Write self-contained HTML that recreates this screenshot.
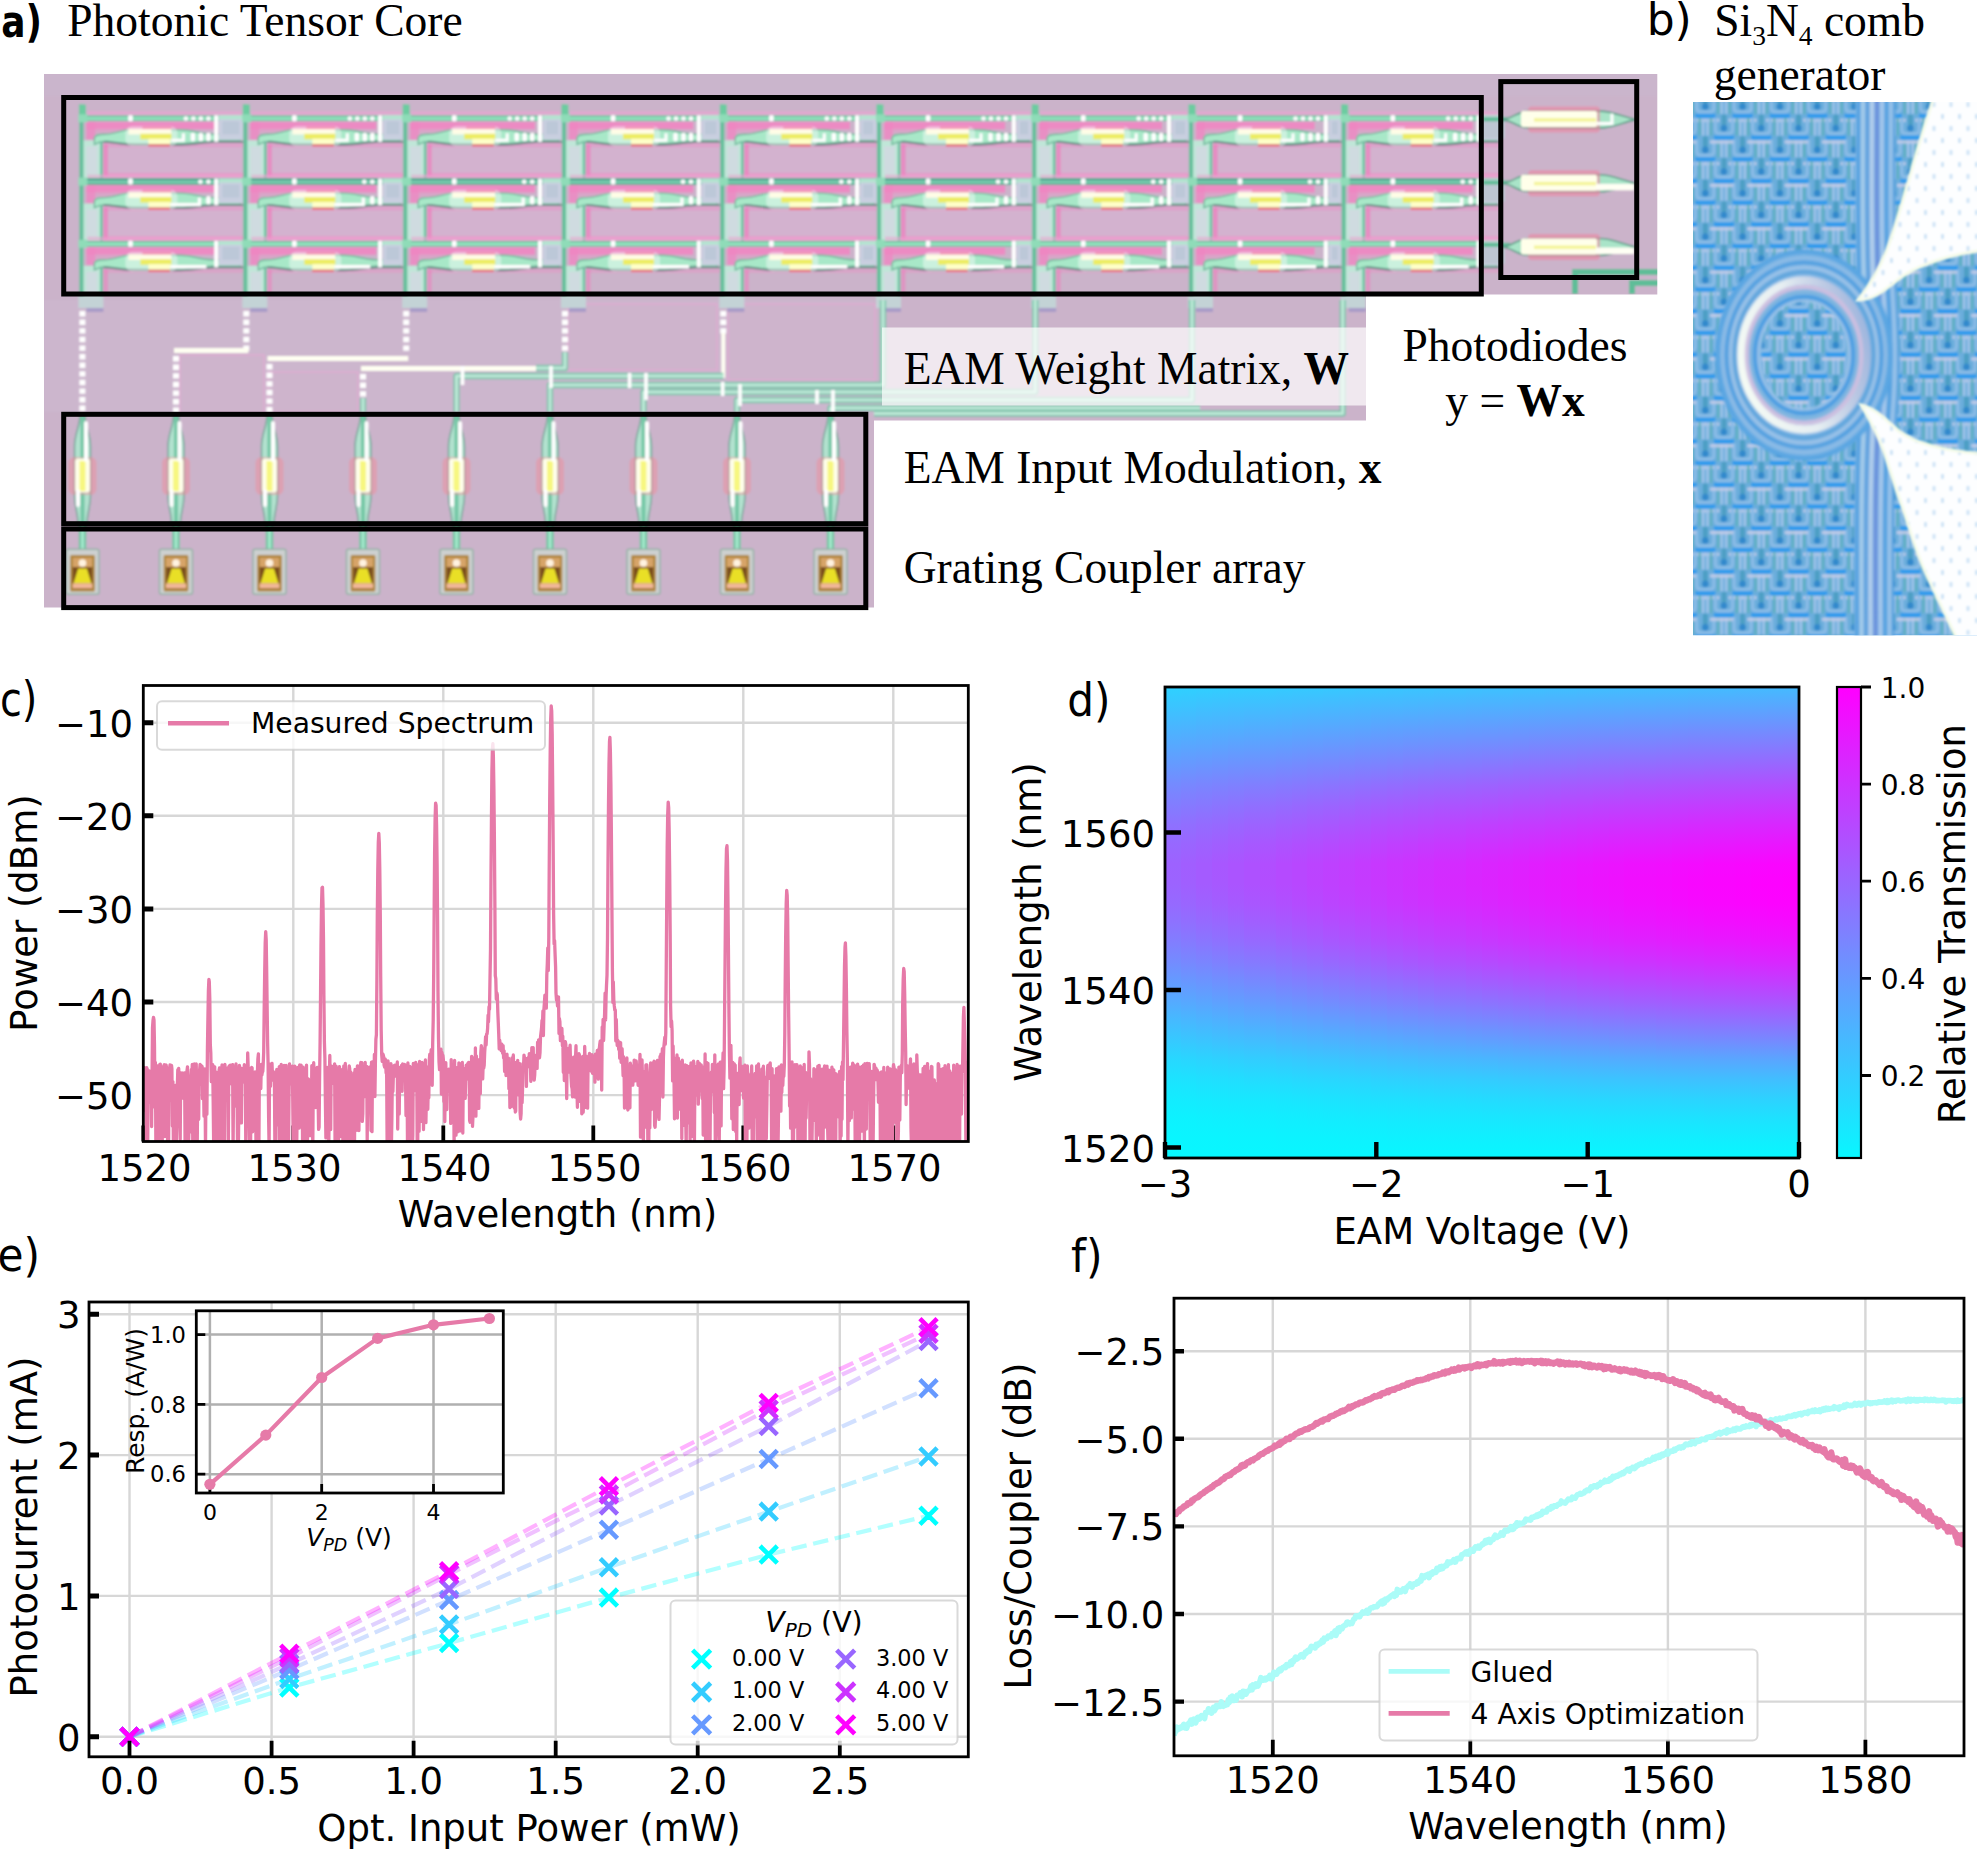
<!DOCTYPE html>
<html lang="en"><head><meta charset="utf-8"><title>Photonic Tensor Core figure</title>
<style>
html,body{margin:0;padding:0;background:#fff;}
body{width:1977px;height:1849px;overflow:hidden;}
svg{display:block;}
text{fill:#000;}
</style></head><body>
<svg width="1977" height="1849" viewBox="0 0 1977 1849">
<rect width="1977" height="1849" fill="#fff"/>
<g id="panel-a">
<defs><filter id="blurA" x="-2%" y="-2%" width="104%" height="104%"><feGaussianBlur stdDeviation="1.25"/></filter><clipPath id="chip"><path d="M44 74H1657.3V294.5H1366V420.5H874V607.5H44Z"/></clipPath></defs>
<g clip-path="url(#chip)"><g filter="url(#blurA)">
<rect x="30" y="60" width="1650" height="560" fill="#cbb3ca" />
<rect x="44" y="74" width="1613" height="22" fill="#cab5cc" />
<rect x="44" y="300" width="830" height="112" fill="#ccb6cd" />
<rect x="568" y="304" width="149" height="66" fill="#cfb4cc" stroke="#e3a8d2" stroke-width="1.5" opacity="0.8"/>
<rect x="728" y="304" width="147" height="76" fill="#cfb4cc" stroke="#e3a8d2" stroke-width="1.5" opacity="0.8"/>
<rect x="268" y="372" width="90" height="40" fill="#cfb4cc" stroke="#e3a8d2" stroke-width="1.5" opacity="0.8"/>
<rect x="180" y="355" width="84" height="58" fill="#cfb4cc" stroke="#e3a8d2" stroke-width="1.5" opacity="0.8"/>
<rect x="103.4" y="142.3" width="141.9" height="36" fill="#d3b2cf" /><rect x="103.4" y="143.3" width="141.9" height="4" fill="#e896c6" opacity="0.55"/><rect x="103.4" y="172.8" width="141.9" height="4.5" fill="#e896c6" opacity="0.7"/><rect x="103.4" y="144.3" width="4.5" height="32" fill="#ee7cbc" opacity="0.7"/><rect x="86.4" y="121.8" width="129.9" height="7.5" fill="#ef86c2" opacity="0.9"/><rect x="86.4" y="121.8" width="9" height="18" fill="#ef86c2" opacity="0.8"/><rect x="94.4" y="128.3" width="36" height="5" fill="#e896c6" opacity="0.45"/><rect x="87.4" y="111.3" width="153.9" height="4" fill="#eea2d2" opacity="0.6"/><rect x="80.4" y="140.3" width="21" height="42" fill="#c0e6d8" /><rect x="86.4" y="146.3" width="11" height="28" fill="#cfdbe0" /><path d="M101.4 140.3V181.3" stroke="#6cc4a2" stroke-width="2.6" fill="none"/><path d="M94.4 137.3 C96.4 134.3 100.4 134.3 104.4 134.3 C114.4 134.3 120.4 130.3 128.4 129.8 H180.4 C192.4 129.8 200.4 134.3 212.4 134.3 H240.3 V140.8 H212.4 C200.4 141.3 192.4 143.8 180.4 143.8 H132.4 C122.4 143.8 114.4 141.8 106.4 141.3 C102.4 141.3 98.4 142.3 94.4 144.3Z" fill="#a8e8c8" stroke="#72b89c" stroke-width="1.4"/><path d="M103.4 141.8C112.4 141.8 122.4 144.8 134.4 144.8H180.4C194.4 144.8 202.4 142.3 214.4 141.8H243.3" stroke="#61807c" stroke-width="1.8" fill="none" opacity="0.85"/><path d="M82.4 118.3H246.3" stroke="#6cc6a0" stroke-width="5.6" fill="none"/><path d="M85.4 118.6H246.3" stroke="#a4ecca" stroke-width="2" fill="none" opacity="0.9"/><rect x="218.9" y="115.3" width="24.4" height="24.5" fill="#c9cfe0" /><rect x="222.4" y="121.3" width="16.9" height="13" fill="#bcc8d8" /><rect x="218.9" y="115.3" width="24.4" height="4" fill="#b4e4d0" /><rect x="214.2" y="115.3" width="4" height="26.5" fill="#fff" /><circle cx="185.9" cy="118.5" r="2.3" fill="#fff"/><circle cx="193.4" cy="118.5" r="2.3" fill="#fff"/><circle cx="200.9" cy="118.5" r="2.3" fill="#fff"/><circle cx="208.4" cy="118.5" r="2.3" fill="#fff"/><rect x="190.7" y="132.8" width="4.4" height="8.5" fill="#fff" rx="1.8"/><rect x="198.7" y="132.8" width="4.4" height="8.5" fill="#fff" rx="1.8"/><rect x="206.2" y="132.8" width="4.4" height="8.5" fill="#fff" rx="1.8"/><rect x="128.2" y="115.3" width="4.6" height="6" fill="#fff" rx="1"/><rect x="125.4" y="126.3" width="52" height="20" fill="#fff" opacity="0.4" rx="7"/><rect x="128.4" y="128.9" width="43" height="5.6" fill="#fffde6" /><rect x="140.4" y="133.8" width="31" height="5.5" fill="#ecec62" /><rect x="148.4" y="138.6" width="22" height="5.4" fill="#ffffc8" /><rect x="148.4" y="144.3" width="21.5" height="2.2" fill="#f2646a" opacity="0.85"/><rect x="142.4" y="126.5" width="29" height="2.6" fill="#f47aa0" opacity="0.6"/><path d="M171.4 140.3H183.4V133.3" stroke="#fff" stroke-width="3" fill="none"/>
<rect x="103.4" y="205.6" width="141.9" height="36" fill="#d3b2cf" /><rect x="103.4" y="206.6" width="141.9" height="4" fill="#e896c6" opacity="0.55"/><rect x="103.4" y="236.1" width="141.9" height="4.5" fill="#e896c6" opacity="0.7"/><rect x="103.4" y="207.6" width="4.5" height="32" fill="#ee7cbc" opacity="0.7"/><rect x="86.4" y="185.1" width="129.9" height="7.5" fill="#ef86c2" opacity="0.9"/><rect x="86.4" y="185.1" width="9" height="18" fill="#ef86c2" opacity="0.8"/><rect x="94.4" y="191.6" width="36" height="5" fill="#e896c6" opacity="0.45"/><rect x="87.4" y="174.6" width="153.9" height="4" fill="#eea2d2" opacity="0.6"/><rect x="80.4" y="203.6" width="21" height="42" fill="#c0e6d8" /><rect x="86.4" y="209.6" width="11" height="28" fill="#cfdbe0" /><path d="M101.4 203.6V244.6" stroke="#6cc4a2" stroke-width="2.6" fill="none"/><path d="M94.4 200.6 C96.4 197.6 100.4 197.6 104.4 197.6 C114.4 197.6 120.4 193.6 128.4 193.1 H180.4 C192.4 193.1 200.4 197.6 212.4 197.6 H240.3 V204.1 H212.4 C200.4 204.6 192.4 207.1 180.4 207.1 H132.4 C122.4 207.1 114.4 205.1 106.4 204.6 C102.4 204.6 98.4 205.6 94.4 207.6Z" fill="#a8e8c8" stroke="#72b89c" stroke-width="1.4"/><path d="M103.4 205.1C112.4 205.1 122.4 208.1 134.4 208.1H180.4C194.4 208.1 202.4 205.6 214.4 205.1H243.3" stroke="#61807c" stroke-width="1.8" fill="none" opacity="0.85"/><path d="M82.4 181.6H246.3" stroke="#58ac94" stroke-width="7" fill="none"/><path d="M85.4 182.1H246.3" stroke="#7fd4b4" stroke-width="2.4" fill="none" opacity="0.9"/><rect x="218.9" y="178.6" width="24.4" height="24.5" fill="#c9cfe0" /><rect x="222.4" y="184.6" width="16.9" height="13" fill="#bcc8d8" /><rect x="218.9" y="178.6" width="24.4" height="4" fill="#b4e4d0" /><rect x="214.2" y="178.6" width="4" height="26.5" fill="#fff" /><circle cx="200.4" cy="181.8" r="2.3" fill="#fff"/><circle cx="208.4" cy="181.8" r="2.3" fill="#fff"/><rect x="206.2" y="196.1" width="4.4" height="8.5" fill="#fff" rx="1.8"/><rect x="128.2" y="178.6" width="4.6" height="6" fill="#fff" rx="1"/><rect x="125.4" y="189.6" width="52" height="20" fill="#fff" opacity="0.4" rx="7"/><rect x="128.4" y="192.2" width="43" height="5.6" fill="#fffde6" /><rect x="140.4" y="197.1" width="31" height="5.5" fill="#ecec62" /><rect x="148.4" y="201.9" width="22" height="5.4" fill="#ffffc8" /><rect x="148.4" y="207.6" width="21.5" height="2.2" fill="#f2646a" opacity="0.85"/><rect x="142.4" y="189.8" width="29" height="2.6" fill="#f47aa0" opacity="0.6"/><path d="M170.4 204.6H199.4V197.6" stroke="#fff" stroke-width="3.2" fill="none"/>
<rect x="103.4" y="268.8" width="141.9" height="4" fill="#e896c6" opacity="0.5"/><rect x="103.4" y="269.8" width="4.5" height="26" fill="#ee7cbc" opacity="0.55"/><rect x="86.4" y="247.3" width="129.9" height="7.5" fill="#ef86c2" opacity="0.9"/><rect x="86.4" y="247.3" width="9" height="18" fill="#ef86c2" opacity="0.8"/><rect x="94.4" y="253.8" width="36" height="5" fill="#e896c6" opacity="0.45"/><rect x="87.4" y="236.8" width="153.9" height="4" fill="#eea2d2" opacity="0.6"/><rect x="80.4" y="265.8" width="21" height="42" fill="#c0e6d8" /><rect x="86.4" y="271.8" width="11" height="28" fill="#cfdbe0" /><path d="M101.4 265.8V306.8" stroke="#6cc4a2" stroke-width="2.6" fill="none"/><path d="M94.4 262.8 C96.4 259.8 100.4 259.8 104.4 259.8 C114.4 259.8 120.4 255.8 128.4 255.3 H180.4 C192.4 255.3 200.4 259.8 212.4 259.8 H240.3 V266.3 H212.4 C200.4 266.8 192.4 269.3 180.4 269.3 H132.4 C122.4 269.3 114.4 267.3 106.4 266.8 C102.4 266.8 98.4 267.8 94.4 269.8Z" fill="#a8e8c8" stroke="#72b89c" stroke-width="1.4"/><path d="M103.4 267.3C112.4 267.3 122.4 270.3 134.4 270.3H180.4C194.4 270.3 202.4 267.8 214.4 267.3H243.3" stroke="#61807c" stroke-width="1.8" fill="none" opacity="0.85"/><path d="M82.4 243.8H246.3" stroke="#6cc6a0" stroke-width="5.6" fill="none"/><path d="M85.4 244.1H246.3" stroke="#a4ecca" stroke-width="2" fill="none" opacity="0.9"/><rect x="218.9" y="240.8" width="24.4" height="24.5" fill="#c9cfe0" /><rect x="222.4" y="246.8" width="16.9" height="13" fill="#bcc8d8" /><rect x="218.9" y="240.8" width="24.4" height="4" fill="#b4e4d0" /><rect x="214.2" y="240.8" width="4" height="26.5" fill="#fff" /><rect x="128.2" y="240.8" width="4.6" height="6" fill="#fff" rx="1"/><rect x="125.4" y="251.8" width="52" height="20" fill="#fff" opacity="0.4" rx="7"/><rect x="128.4" y="254.4" width="43" height="5.6" fill="#fffde6" /><rect x="140.4" y="259.3" width="31" height="5.5" fill="#ecec62" /><rect x="148.4" y="264.1" width="22" height="5.4" fill="#ffffc8" /><rect x="148.4" y="269.8" width="21.5" height="2.2" fill="#f2646a" opacity="0.85"/><rect x="142.4" y="252" width="29" height="2.6" fill="#f47aa0" opacity="0.6"/><path d="M170.4 266.8H206.4" stroke="#fff" stroke-width="3.6" fill="none"/>
<rect x="267.3" y="142.3" width="137.9" height="36" fill="#d3b2cf" /><rect x="267.3" y="143.3" width="137.9" height="4" fill="#e896c6" opacity="0.55"/><rect x="267.3" y="172.8" width="137.9" height="4.5" fill="#e896c6" opacity="0.7"/><rect x="267.3" y="144.3" width="4.5" height="32" fill="#ee7cbc" opacity="0.7"/><rect x="250.3" y="121.8" width="125.9" height="7.5" fill="#ef86c2" opacity="0.9"/><rect x="250.3" y="121.8" width="9" height="18" fill="#ef86c2" opacity="0.8"/><rect x="258.3" y="128.3" width="36" height="5" fill="#e896c6" opacity="0.45"/><rect x="251.3" y="111.3" width="149.9" height="4" fill="#eea2d2" opacity="0.6"/><rect x="244.3" y="140.3" width="21" height="42" fill="#c0e6d8" /><rect x="250.3" y="146.3" width="11" height="28" fill="#cfdbe0" /><path d="M265.3 140.3V181.3" stroke="#6cc4a2" stroke-width="2.6" fill="none"/><path d="M258.3 137.3 C260.3 134.3 264.3 134.3 268.3 134.3 C278.3 134.3 284.3 130.3 292.3 129.8 H344.3 C356.3 129.8 364.3 134.3 376.3 134.3 H400.2 V140.8 H376.3 C364.3 141.3 356.3 143.8 344.3 143.8 H296.3 C286.3 143.8 278.3 141.8 270.3 141.3 C266.3 141.3 262.3 142.3 258.3 144.3Z" fill="#a8e8c8" stroke="#72b89c" stroke-width="1.4"/><path d="M267.3 141.8C276.3 141.8 286.3 144.8 298.3 144.8H344.3C358.3 144.8 366.3 142.3 378.3 141.8H403.2" stroke="#61807c" stroke-width="1.8" fill="none" opacity="0.85"/><path d="M246.3 118.3H406.2" stroke="#6cc6a0" stroke-width="5.6" fill="none"/><path d="M249.3 118.6H406.2" stroke="#a4ecca" stroke-width="2" fill="none" opacity="0.9"/><rect x="382.8" y="115.3" width="20.4" height="24.5" fill="#c9cfe0" /><rect x="386.3" y="121.3" width="12.9" height="13" fill="#bcc8d8" /><rect x="382.8" y="115.3" width="20.4" height="4" fill="#b4e4d0" /><rect x="378.1" y="115.3" width="4" height="26.5" fill="#fff" /><circle cx="349.8" cy="118.5" r="2.3" fill="#fff"/><circle cx="357.3" cy="118.5" r="2.3" fill="#fff"/><circle cx="364.8" cy="118.5" r="2.3" fill="#fff"/><circle cx="372.3" cy="118.5" r="2.3" fill="#fff"/><rect x="354.6" y="132.8" width="4.4" height="8.5" fill="#fff" rx="1.8"/><rect x="362.6" y="132.8" width="4.4" height="8.5" fill="#fff" rx="1.8"/><rect x="370.1" y="132.8" width="4.4" height="8.5" fill="#fff" rx="1.8"/><rect x="292.1" y="115.3" width="4.6" height="6" fill="#fff" rx="1"/><rect x="289.3" y="126.3" width="52" height="20" fill="#fff" opacity="0.4" rx="7"/><rect x="292.3" y="128.9" width="43" height="5.6" fill="#fffde6" /><rect x="304.3" y="133.8" width="31" height="5.5" fill="#ecec62" /><rect x="312.3" y="138.6" width="22" height="5.4" fill="#ffffc8" /><rect x="312.3" y="144.3" width="21.5" height="2.2" fill="#f2646a" opacity="0.85"/><rect x="306.3" y="126.5" width="29" height="2.6" fill="#f47aa0" opacity="0.6"/><path d="M335.3 140.3H347.3V133.3" stroke="#fff" stroke-width="3" fill="none"/>
<rect x="267.3" y="205.6" width="137.9" height="36" fill="#d3b2cf" /><rect x="267.3" y="206.6" width="137.9" height="4" fill="#e896c6" opacity="0.55"/><rect x="267.3" y="236.1" width="137.9" height="4.5" fill="#e896c6" opacity="0.7"/><rect x="267.3" y="207.6" width="4.5" height="32" fill="#ee7cbc" opacity="0.7"/><rect x="250.3" y="185.1" width="125.9" height="7.5" fill="#ef86c2" opacity="0.9"/><rect x="250.3" y="185.1" width="9" height="18" fill="#ef86c2" opacity="0.8"/><rect x="258.3" y="191.6" width="36" height="5" fill="#e896c6" opacity="0.45"/><rect x="251.3" y="174.6" width="149.9" height="4" fill="#eea2d2" opacity="0.6"/><rect x="244.3" y="203.6" width="21" height="42" fill="#c0e6d8" /><rect x="250.3" y="209.6" width="11" height="28" fill="#cfdbe0" /><path d="M265.3 203.6V244.6" stroke="#6cc4a2" stroke-width="2.6" fill="none"/><path d="M258.3 200.6 C260.3 197.6 264.3 197.6 268.3 197.6 C278.3 197.6 284.3 193.6 292.3 193.1 H344.3 C356.3 193.1 364.3 197.6 376.3 197.6 H400.2 V204.1 H376.3 C364.3 204.6 356.3 207.1 344.3 207.1 H296.3 C286.3 207.1 278.3 205.1 270.3 204.6 C266.3 204.6 262.3 205.6 258.3 207.6Z" fill="#a8e8c8" stroke="#72b89c" stroke-width="1.4"/><path d="M267.3 205.1C276.3 205.1 286.3 208.1 298.3 208.1H344.3C358.3 208.1 366.3 205.6 378.3 205.1H403.2" stroke="#61807c" stroke-width="1.8" fill="none" opacity="0.85"/><path d="M246.3 181.6H406.2" stroke="#58ac94" stroke-width="7" fill="none"/><path d="M249.3 182.1H406.2" stroke="#7fd4b4" stroke-width="2.4" fill="none" opacity="0.9"/><rect x="382.8" y="178.6" width="20.4" height="24.5" fill="#c9cfe0" /><rect x="386.3" y="184.6" width="12.9" height="13" fill="#bcc8d8" /><rect x="382.8" y="178.6" width="20.4" height="4" fill="#b4e4d0" /><rect x="378.1" y="178.6" width="4" height="26.5" fill="#fff" /><circle cx="364.3" cy="181.8" r="2.3" fill="#fff"/><circle cx="372.3" cy="181.8" r="2.3" fill="#fff"/><rect x="370.1" y="196.1" width="4.4" height="8.5" fill="#fff" rx="1.8"/><rect x="292.1" y="178.6" width="4.6" height="6" fill="#fff" rx="1"/><rect x="289.3" y="189.6" width="52" height="20" fill="#fff" opacity="0.4" rx="7"/><rect x="292.3" y="192.2" width="43" height="5.6" fill="#fffde6" /><rect x="304.3" y="197.1" width="31" height="5.5" fill="#ecec62" /><rect x="312.3" y="201.9" width="22" height="5.4" fill="#ffffc8" /><rect x="312.3" y="207.6" width="21.5" height="2.2" fill="#f2646a" opacity="0.85"/><rect x="306.3" y="189.8" width="29" height="2.6" fill="#f47aa0" opacity="0.6"/><path d="M334.3 204.6H363.3V197.6" stroke="#fff" stroke-width="3.2" fill="none"/>
<rect x="267.3" y="268.8" width="137.9" height="4" fill="#e896c6" opacity="0.5"/><rect x="267.3" y="269.8" width="4.5" height="26" fill="#ee7cbc" opacity="0.55"/><rect x="250.3" y="247.3" width="125.9" height="7.5" fill="#ef86c2" opacity="0.9"/><rect x="250.3" y="247.3" width="9" height="18" fill="#ef86c2" opacity="0.8"/><rect x="258.3" y="253.8" width="36" height="5" fill="#e896c6" opacity="0.45"/><rect x="251.3" y="236.8" width="149.9" height="4" fill="#eea2d2" opacity="0.6"/><rect x="244.3" y="265.8" width="21" height="42" fill="#c0e6d8" /><rect x="250.3" y="271.8" width="11" height="28" fill="#cfdbe0" /><path d="M265.3 265.8V306.8" stroke="#6cc4a2" stroke-width="2.6" fill="none"/><path d="M258.3 262.8 C260.3 259.8 264.3 259.8 268.3 259.8 C278.3 259.8 284.3 255.8 292.3 255.3 H344.3 C356.3 255.3 364.3 259.8 376.3 259.8 H400.2 V266.3 H376.3 C364.3 266.8 356.3 269.3 344.3 269.3 H296.3 C286.3 269.3 278.3 267.3 270.3 266.8 C266.3 266.8 262.3 267.8 258.3 269.8Z" fill="#a8e8c8" stroke="#72b89c" stroke-width="1.4"/><path d="M267.3 267.3C276.3 267.3 286.3 270.3 298.3 270.3H344.3C358.3 270.3 366.3 267.8 378.3 267.3H403.2" stroke="#61807c" stroke-width="1.8" fill="none" opacity="0.85"/><path d="M246.3 243.8H406.2" stroke="#6cc6a0" stroke-width="5.6" fill="none"/><path d="M249.3 244.1H406.2" stroke="#a4ecca" stroke-width="2" fill="none" opacity="0.9"/><rect x="382.8" y="240.8" width="20.4" height="24.5" fill="#c9cfe0" /><rect x="386.3" y="246.8" width="12.9" height="13" fill="#bcc8d8" /><rect x="382.8" y="240.8" width="20.4" height="4" fill="#b4e4d0" /><rect x="378.1" y="240.8" width="4" height="26.5" fill="#fff" /><rect x="292.1" y="240.8" width="4.6" height="6" fill="#fff" rx="1"/><rect x="289.3" y="251.8" width="52" height="20" fill="#fff" opacity="0.4" rx="7"/><rect x="292.3" y="254.4" width="43" height="5.6" fill="#fffde6" /><rect x="304.3" y="259.3" width="31" height="5.5" fill="#ecec62" /><rect x="312.3" y="264.1" width="22" height="5.4" fill="#ffffc8" /><rect x="312.3" y="269.8" width="21.5" height="2.2" fill="#f2646a" opacity="0.85"/><rect x="306.3" y="252" width="29" height="2.6" fill="#f47aa0" opacity="0.6"/><path d="M334.3 266.8H370.3" stroke="#fff" stroke-width="3.6" fill="none"/>
<rect x="427.2" y="142.3" width="136.8" height="36" fill="#d3b2cf" /><rect x="427.2" y="143.3" width="136.8" height="4" fill="#e896c6" opacity="0.55"/><rect x="427.2" y="172.8" width="136.8" height="4.5" fill="#e896c6" opacity="0.7"/><rect x="427.2" y="144.3" width="4.5" height="32" fill="#ee7cbc" opacity="0.7"/><rect x="410.2" y="121.8" width="124.8" height="7.5" fill="#ef86c2" opacity="0.9"/><rect x="410.2" y="121.8" width="9" height="18" fill="#ef86c2" opacity="0.8"/><rect x="418.2" y="128.3" width="36" height="5" fill="#e896c6" opacity="0.45"/><rect x="411.2" y="111.3" width="148.8" height="4" fill="#eea2d2" opacity="0.6"/><rect x="404.2" y="140.3" width="21" height="42" fill="#c0e6d8" /><rect x="410.2" y="146.3" width="11" height="28" fill="#cfdbe0" /><path d="M425.2 140.3V181.3" stroke="#6cc4a2" stroke-width="2.6" fill="none"/><path d="M418.2 137.3 C420.2 134.3 424.2 134.3 428.2 134.3 C438.2 134.3 444.2 130.3 452.2 129.8 H504.2 C516.2 129.8 524.2 134.3 536.2 134.3 H559 V140.8 H536.2 C524.2 141.3 516.2 143.8 504.2 143.8 H456.2 C446.2 143.8 438.2 141.8 430.2 141.3 C426.2 141.3 422.2 142.3 418.2 144.3Z" fill="#a8e8c8" stroke="#72b89c" stroke-width="1.4"/><path d="M427.2 141.8C436.2 141.8 446.2 144.8 458.2 144.8H504.2C518.2 144.8 526.2 142.3 538.2 141.8H562" stroke="#61807c" stroke-width="1.8" fill="none" opacity="0.85"/><path d="M406.2 118.3H565" stroke="#6cc6a0" stroke-width="5.6" fill="none"/><path d="M409.2 118.6H565" stroke="#a4ecca" stroke-width="2" fill="none" opacity="0.9"/><rect x="542.7" y="115.3" width="19.3" height="24.5" fill="#c9cfe0" /><rect x="546.2" y="121.3" width="11.8" height="13" fill="#bcc8d8" /><rect x="542.7" y="115.3" width="19.3" height="4" fill="#b4e4d0" /><rect x="538" y="115.3" width="4" height="26.5" fill="#fff" /><circle cx="509.7" cy="118.5" r="2.3" fill="#fff"/><circle cx="517.2" cy="118.5" r="2.3" fill="#fff"/><circle cx="524.7" cy="118.5" r="2.3" fill="#fff"/><circle cx="532.2" cy="118.5" r="2.3" fill="#fff"/><rect x="514.5" y="132.8" width="4.4" height="8.5" fill="#fff" rx="1.8"/><rect x="522.5" y="132.8" width="4.4" height="8.5" fill="#fff" rx="1.8"/><rect x="530" y="132.8" width="4.4" height="8.5" fill="#fff" rx="1.8"/><rect x="452" y="115.3" width="4.6" height="6" fill="#fff" rx="1"/><rect x="449.2" y="126.3" width="52" height="20" fill="#fff" opacity="0.4" rx="7"/><rect x="452.2" y="128.9" width="43" height="5.6" fill="#fffde6" /><rect x="464.2" y="133.8" width="31" height="5.5" fill="#ecec62" /><rect x="472.2" y="138.6" width="22" height="5.4" fill="#ffffc8" /><rect x="472.2" y="144.3" width="21.5" height="2.2" fill="#f2646a" opacity="0.85"/><rect x="466.2" y="126.5" width="29" height="2.6" fill="#f47aa0" opacity="0.6"/><path d="M495.2 140.3H507.2V133.3" stroke="#fff" stroke-width="3" fill="none"/>
<rect x="427.2" y="205.6" width="136.8" height="36" fill="#d3b2cf" /><rect x="427.2" y="206.6" width="136.8" height="4" fill="#e896c6" opacity="0.55"/><rect x="427.2" y="236.1" width="136.8" height="4.5" fill="#e896c6" opacity="0.7"/><rect x="427.2" y="207.6" width="4.5" height="32" fill="#ee7cbc" opacity="0.7"/><rect x="410.2" y="185.1" width="124.8" height="7.5" fill="#ef86c2" opacity="0.9"/><rect x="410.2" y="185.1" width="9" height="18" fill="#ef86c2" opacity="0.8"/><rect x="418.2" y="191.6" width="36" height="5" fill="#e896c6" opacity="0.45"/><rect x="411.2" y="174.6" width="148.8" height="4" fill="#eea2d2" opacity="0.6"/><rect x="404.2" y="203.6" width="21" height="42" fill="#c0e6d8" /><rect x="410.2" y="209.6" width="11" height="28" fill="#cfdbe0" /><path d="M425.2 203.6V244.6" stroke="#6cc4a2" stroke-width="2.6" fill="none"/><path d="M418.2 200.6 C420.2 197.6 424.2 197.6 428.2 197.6 C438.2 197.6 444.2 193.6 452.2 193.1 H504.2 C516.2 193.1 524.2 197.6 536.2 197.6 H559 V204.1 H536.2 C524.2 204.6 516.2 207.1 504.2 207.1 H456.2 C446.2 207.1 438.2 205.1 430.2 204.6 C426.2 204.6 422.2 205.6 418.2 207.6Z" fill="#a8e8c8" stroke="#72b89c" stroke-width="1.4"/><path d="M427.2 205.1C436.2 205.1 446.2 208.1 458.2 208.1H504.2C518.2 208.1 526.2 205.6 538.2 205.1H562" stroke="#61807c" stroke-width="1.8" fill="none" opacity="0.85"/><path d="M406.2 181.6H565" stroke="#58ac94" stroke-width="7" fill="none"/><path d="M409.2 182.1H565" stroke="#7fd4b4" stroke-width="2.4" fill="none" opacity="0.9"/><rect x="542.7" y="178.6" width="19.3" height="24.5" fill="#c9cfe0" /><rect x="546.2" y="184.6" width="11.8" height="13" fill="#bcc8d8" /><rect x="542.7" y="178.6" width="19.3" height="4" fill="#b4e4d0" /><rect x="538" y="178.6" width="4" height="26.5" fill="#fff" /><circle cx="524.2" cy="181.8" r="2.3" fill="#fff"/><circle cx="532.2" cy="181.8" r="2.3" fill="#fff"/><rect x="530" y="196.1" width="4.4" height="8.5" fill="#fff" rx="1.8"/><rect x="452" y="178.6" width="4.6" height="6" fill="#fff" rx="1"/><rect x="449.2" y="189.6" width="52" height="20" fill="#fff" opacity="0.4" rx="7"/><rect x="452.2" y="192.2" width="43" height="5.6" fill="#fffde6" /><rect x="464.2" y="197.1" width="31" height="5.5" fill="#ecec62" /><rect x="472.2" y="201.9" width="22" height="5.4" fill="#ffffc8" /><rect x="472.2" y="207.6" width="21.5" height="2.2" fill="#f2646a" opacity="0.85"/><rect x="466.2" y="189.8" width="29" height="2.6" fill="#f47aa0" opacity="0.6"/><path d="M494.2 204.6H523.2V197.6" stroke="#fff" stroke-width="3.2" fill="none"/>
<rect x="427.2" y="268.8" width="136.8" height="4" fill="#e896c6" opacity="0.5"/><rect x="427.2" y="269.8" width="4.5" height="26" fill="#ee7cbc" opacity="0.55"/><rect x="410.2" y="247.3" width="124.8" height="7.5" fill="#ef86c2" opacity="0.9"/><rect x="410.2" y="247.3" width="9" height="18" fill="#ef86c2" opacity="0.8"/><rect x="418.2" y="253.8" width="36" height="5" fill="#e896c6" opacity="0.45"/><rect x="411.2" y="236.8" width="148.8" height="4" fill="#eea2d2" opacity="0.6"/><rect x="404.2" y="265.8" width="21" height="42" fill="#c0e6d8" /><rect x="410.2" y="271.8" width="11" height="28" fill="#cfdbe0" /><path d="M425.2 265.8V306.8" stroke="#6cc4a2" stroke-width="2.6" fill="none"/><path d="M418.2 262.8 C420.2 259.8 424.2 259.8 428.2 259.8 C438.2 259.8 444.2 255.8 452.2 255.3 H504.2 C516.2 255.3 524.2 259.8 536.2 259.8 H559 V266.3 H536.2 C524.2 266.8 516.2 269.3 504.2 269.3 H456.2 C446.2 269.3 438.2 267.3 430.2 266.8 C426.2 266.8 422.2 267.8 418.2 269.8Z" fill="#a8e8c8" stroke="#72b89c" stroke-width="1.4"/><path d="M427.2 267.3C436.2 267.3 446.2 270.3 458.2 270.3H504.2C518.2 270.3 526.2 267.8 538.2 267.3H562" stroke="#61807c" stroke-width="1.8" fill="none" opacity="0.85"/><path d="M406.2 243.8H565" stroke="#6cc6a0" stroke-width="5.6" fill="none"/><path d="M409.2 244.1H565" stroke="#a4ecca" stroke-width="2" fill="none" opacity="0.9"/><rect x="542.7" y="240.8" width="19.3" height="24.5" fill="#c9cfe0" /><rect x="546.2" y="246.8" width="11.8" height="13" fill="#bcc8d8" /><rect x="542.7" y="240.8" width="19.3" height="4" fill="#b4e4d0" /><rect x="538" y="240.8" width="4" height="26.5" fill="#fff" /><rect x="452" y="240.8" width="4.6" height="6" fill="#fff" rx="1"/><rect x="449.2" y="251.8" width="52" height="20" fill="#fff" opacity="0.4" rx="7"/><rect x="452.2" y="254.4" width="43" height="5.6" fill="#fffde6" /><rect x="464.2" y="259.3" width="31" height="5.5" fill="#ecec62" /><rect x="472.2" y="264.1" width="22" height="5.4" fill="#ffffc8" /><rect x="472.2" y="269.8" width="21.5" height="2.2" fill="#f2646a" opacity="0.85"/><rect x="466.2" y="252" width="29" height="2.6" fill="#f47aa0" opacity="0.6"/><path d="M494.2 266.8H530.2" stroke="#fff" stroke-width="3.6" fill="none"/>
<rect x="586" y="142.3" width="136.3" height="36" fill="#d3b2cf" /><rect x="586" y="143.3" width="136.3" height="4" fill="#e896c6" opacity="0.55"/><rect x="586" y="172.8" width="136.3" height="4.5" fill="#e896c6" opacity="0.7"/><rect x="586" y="144.3" width="4.5" height="32" fill="#ee7cbc" opacity="0.7"/><rect x="569" y="121.8" width="124.3" height="7.5" fill="#ef86c2" opacity="0.9"/><rect x="569" y="121.8" width="9" height="18" fill="#ef86c2" opacity="0.8"/><rect x="577" y="128.3" width="36" height="5" fill="#e896c6" opacity="0.45"/><rect x="570" y="111.3" width="148.3" height="4" fill="#eea2d2" opacity="0.6"/><rect x="563" y="140.3" width="21" height="42" fill="#c0e6d8" /><rect x="569" y="146.3" width="11" height="28" fill="#cfdbe0" /><path d="M584 140.3V181.3" stroke="#6cc4a2" stroke-width="2.6" fill="none"/><path d="M577 137.3 C579 134.3 583 134.3 587 134.3 C597 134.3 603 130.3 611 129.8 H663 C675 129.8 683 134.3 695 134.3 H717.3 V140.8 H695 C683 141.3 675 143.8 663 143.8 H615 C605 143.8 597 141.8 589 141.3 C585 141.3 581 142.3 577 144.3Z" fill="#a8e8c8" stroke="#72b89c" stroke-width="1.4"/><path d="M586 141.8C595 141.8 605 144.8 617 144.8H663C677 144.8 685 142.3 697 141.8H720.3" stroke="#61807c" stroke-width="1.8" fill="none" opacity="0.85"/><path d="M565 118.3H723.3" stroke="#6cc6a0" stroke-width="5.6" fill="none"/><path d="M568 118.6H723.3" stroke="#a4ecca" stroke-width="2" fill="none" opacity="0.9"/><rect x="701.5" y="115.3" width="18.8" height="24.5" fill="#c9cfe0" /><rect x="705" y="121.3" width="11.3" height="13" fill="#bcc8d8" /><rect x="701.5" y="115.3" width="18.8" height="4" fill="#b4e4d0" /><rect x="696.8" y="115.3" width="4" height="26.5" fill="#fff" /><circle cx="668.5" cy="118.5" r="2.3" fill="#fff"/><circle cx="676" cy="118.5" r="2.3" fill="#fff"/><circle cx="683.5" cy="118.5" r="2.3" fill="#fff"/><circle cx="691" cy="118.5" r="2.3" fill="#fff"/><rect x="673.3" y="132.8" width="4.4" height="8.5" fill="#fff" rx="1.8"/><rect x="681.3" y="132.8" width="4.4" height="8.5" fill="#fff" rx="1.8"/><rect x="688.8" y="132.8" width="4.4" height="8.5" fill="#fff" rx="1.8"/><rect x="610.8" y="115.3" width="4.6" height="6" fill="#fff" rx="1"/><rect x="608" y="126.3" width="52" height="20" fill="#fff" opacity="0.4" rx="7"/><rect x="611" y="128.9" width="43" height="5.6" fill="#fffde6" /><rect x="623" y="133.8" width="31" height="5.5" fill="#ecec62" /><rect x="631" y="138.6" width="22" height="5.4" fill="#ffffc8" /><rect x="631" y="144.3" width="21.5" height="2.2" fill="#f2646a" opacity="0.85"/><rect x="625" y="126.5" width="29" height="2.6" fill="#f47aa0" opacity="0.6"/><path d="M654 140.3H666V133.3" stroke="#fff" stroke-width="3" fill="none"/>
<rect x="586" y="205.6" width="136.3" height="36" fill="#d3b2cf" /><rect x="586" y="206.6" width="136.3" height="4" fill="#e896c6" opacity="0.55"/><rect x="586" y="236.1" width="136.3" height="4.5" fill="#e896c6" opacity="0.7"/><rect x="586" y="207.6" width="4.5" height="32" fill="#ee7cbc" opacity="0.7"/><rect x="569" y="185.1" width="124.3" height="7.5" fill="#ef86c2" opacity="0.9"/><rect x="569" y="185.1" width="9" height="18" fill="#ef86c2" opacity="0.8"/><rect x="577" y="191.6" width="36" height="5" fill="#e896c6" opacity="0.45"/><rect x="570" y="174.6" width="148.3" height="4" fill="#eea2d2" opacity="0.6"/><rect x="563" y="203.6" width="21" height="42" fill="#c0e6d8" /><rect x="569" y="209.6" width="11" height="28" fill="#cfdbe0" /><path d="M584 203.6V244.6" stroke="#6cc4a2" stroke-width="2.6" fill="none"/><path d="M577 200.6 C579 197.6 583 197.6 587 197.6 C597 197.6 603 193.6 611 193.1 H663 C675 193.1 683 197.6 695 197.6 H717.3 V204.1 H695 C683 204.6 675 207.1 663 207.1 H615 C605 207.1 597 205.1 589 204.6 C585 204.6 581 205.6 577 207.6Z" fill="#a8e8c8" stroke="#72b89c" stroke-width="1.4"/><path d="M586 205.1C595 205.1 605 208.1 617 208.1H663C677 208.1 685 205.6 697 205.1H720.3" stroke="#61807c" stroke-width="1.8" fill="none" opacity="0.85"/><path d="M565 181.6H723.3" stroke="#58ac94" stroke-width="7" fill="none"/><path d="M568 182.1H723.3" stroke="#7fd4b4" stroke-width="2.4" fill="none" opacity="0.9"/><rect x="701.5" y="178.6" width="18.8" height="24.5" fill="#c9cfe0" /><rect x="705" y="184.6" width="11.3" height="13" fill="#bcc8d8" /><rect x="701.5" y="178.6" width="18.8" height="4" fill="#b4e4d0" /><rect x="696.8" y="178.6" width="4" height="26.5" fill="#fff" /><circle cx="683" cy="181.8" r="2.3" fill="#fff"/><circle cx="691" cy="181.8" r="2.3" fill="#fff"/><rect x="688.8" y="196.1" width="4.4" height="8.5" fill="#fff" rx="1.8"/><rect x="610.8" y="178.6" width="4.6" height="6" fill="#fff" rx="1"/><rect x="608" y="189.6" width="52" height="20" fill="#fff" opacity="0.4" rx="7"/><rect x="611" y="192.2" width="43" height="5.6" fill="#fffde6" /><rect x="623" y="197.1" width="31" height="5.5" fill="#ecec62" /><rect x="631" y="201.9" width="22" height="5.4" fill="#ffffc8" /><rect x="631" y="207.6" width="21.5" height="2.2" fill="#f2646a" opacity="0.85"/><rect x="625" y="189.8" width="29" height="2.6" fill="#f47aa0" opacity="0.6"/><path d="M653 204.6H682V197.6" stroke="#fff" stroke-width="3.2" fill="none"/>
<rect x="586" y="268.8" width="136.3" height="4" fill="#e896c6" opacity="0.5"/><rect x="586" y="269.8" width="4.5" height="26" fill="#ee7cbc" opacity="0.55"/><rect x="569" y="247.3" width="124.3" height="7.5" fill="#ef86c2" opacity="0.9"/><rect x="569" y="247.3" width="9" height="18" fill="#ef86c2" opacity="0.8"/><rect x="577" y="253.8" width="36" height="5" fill="#e896c6" opacity="0.45"/><rect x="570" y="236.8" width="148.3" height="4" fill="#eea2d2" opacity="0.6"/><rect x="563" y="265.8" width="21" height="42" fill="#c0e6d8" /><rect x="569" y="271.8" width="11" height="28" fill="#cfdbe0" /><path d="M584 265.8V306.8" stroke="#6cc4a2" stroke-width="2.6" fill="none"/><path d="M577 262.8 C579 259.8 583 259.8 587 259.8 C597 259.8 603 255.8 611 255.3 H663 C675 255.3 683 259.8 695 259.8 H717.3 V266.3 H695 C683 266.8 675 269.3 663 269.3 H615 C605 269.3 597 267.3 589 266.8 C585 266.8 581 267.8 577 269.8Z" fill="#a8e8c8" stroke="#72b89c" stroke-width="1.4"/><path d="M586 267.3C595 267.3 605 270.3 617 270.3H663C677 270.3 685 267.8 697 267.3H720.3" stroke="#61807c" stroke-width="1.8" fill="none" opacity="0.85"/><path d="M565 243.8H723.3" stroke="#6cc6a0" stroke-width="5.6" fill="none"/><path d="M568 244.1H723.3" stroke="#a4ecca" stroke-width="2" fill="none" opacity="0.9"/><rect x="701.5" y="240.8" width="18.8" height="24.5" fill="#c9cfe0" /><rect x="705" y="246.8" width="11.3" height="13" fill="#bcc8d8" /><rect x="701.5" y="240.8" width="18.8" height="4" fill="#b4e4d0" /><rect x="696.8" y="240.8" width="4" height="26.5" fill="#fff" /><rect x="610.8" y="240.8" width="4.6" height="6" fill="#fff" rx="1"/><rect x="608" y="251.8" width="52" height="20" fill="#fff" opacity="0.4" rx="7"/><rect x="611" y="254.4" width="43" height="5.6" fill="#fffde6" /><rect x="623" y="259.3" width="31" height="5.5" fill="#ecec62" /><rect x="631" y="264.1" width="22" height="5.4" fill="#ffffc8" /><rect x="631" y="269.8" width="21.5" height="2.2" fill="#f2646a" opacity="0.85"/><rect x="625" y="252" width="29" height="2.6" fill="#f47aa0" opacity="0.6"/><path d="M653 266.8H689" stroke="#fff" stroke-width="3.6" fill="none"/>
<rect x="744.3" y="142.3" width="134.7" height="36" fill="#d3b2cf" /><rect x="744.3" y="143.3" width="134.7" height="4" fill="#e896c6" opacity="0.55"/><rect x="744.3" y="172.8" width="134.7" height="4.5" fill="#e896c6" opacity="0.7"/><rect x="744.3" y="144.3" width="4.5" height="32" fill="#ee7cbc" opacity="0.7"/><rect x="727.3" y="121.8" width="122.7" height="7.5" fill="#ef86c2" opacity="0.9"/><rect x="727.3" y="121.8" width="9" height="18" fill="#ef86c2" opacity="0.8"/><rect x="735.3" y="128.3" width="36" height="5" fill="#e896c6" opacity="0.45"/><rect x="728.3" y="111.3" width="146.7" height="4" fill="#eea2d2" opacity="0.6"/><rect x="721.3" y="140.3" width="21" height="42" fill="#c0e6d8" /><rect x="727.3" y="146.3" width="11" height="28" fill="#cfdbe0" /><path d="M742.3 140.3V181.3" stroke="#6cc4a2" stroke-width="2.6" fill="none"/><path d="M735.3 137.3 C737.3 134.3 741.3 134.3 745.3 134.3 C755.3 134.3 761.3 130.3 769.3 129.8 H821.3 C833.3 129.8 841.3 134.3 853.3 134.3 H874 V140.8 H853.3 C841.3 141.3 833.3 143.8 821.3 143.8 H773.3 C763.3 143.8 755.3 141.8 747.3 141.3 C743.3 141.3 739.3 142.3 735.3 144.3Z" fill="#a8e8c8" stroke="#72b89c" stroke-width="1.4"/><path d="M744.3 141.8C753.3 141.8 763.3 144.8 775.3 144.8H821.3C835.3 144.8 843.3 142.3 855.3 141.8H877" stroke="#61807c" stroke-width="1.8" fill="none" opacity="0.85"/><path d="M723.3 118.3H880" stroke="#6cc6a0" stroke-width="5.6" fill="none"/><path d="M726.3 118.6H880" stroke="#a4ecca" stroke-width="2" fill="none" opacity="0.9"/><rect x="859.8" y="115.3" width="17.2" height="24.5" fill="#c9cfe0" /><rect x="863.3" y="121.3" width="9.7" height="13" fill="#bcc8d8" /><rect x="859.8" y="115.3" width="17.2" height="4" fill="#b4e4d0" /><rect x="855.1" y="115.3" width="4" height="26.5" fill="#fff" /><circle cx="826.8" cy="118.5" r="2.3" fill="#fff"/><circle cx="834.3" cy="118.5" r="2.3" fill="#fff"/><circle cx="841.8" cy="118.5" r="2.3" fill="#fff"/><circle cx="849.3" cy="118.5" r="2.3" fill="#fff"/><rect x="831.6" y="132.8" width="4.4" height="8.5" fill="#fff" rx="1.8"/><rect x="839.6" y="132.8" width="4.4" height="8.5" fill="#fff" rx="1.8"/><rect x="847.1" y="132.8" width="4.4" height="8.5" fill="#fff" rx="1.8"/><rect x="769.1" y="115.3" width="4.6" height="6" fill="#fff" rx="1"/><rect x="766.3" y="126.3" width="52" height="20" fill="#fff" opacity="0.4" rx="7"/><rect x="769.3" y="128.9" width="43" height="5.6" fill="#fffde6" /><rect x="781.3" y="133.8" width="31" height="5.5" fill="#ecec62" /><rect x="789.3" y="138.6" width="22" height="5.4" fill="#ffffc8" /><rect x="789.3" y="144.3" width="21.5" height="2.2" fill="#f2646a" opacity="0.85"/><rect x="783.3" y="126.5" width="29" height="2.6" fill="#f47aa0" opacity="0.6"/><path d="M812.3 140.3H824.3V133.3" stroke="#fff" stroke-width="3" fill="none"/>
<rect x="744.3" y="205.6" width="134.7" height="36" fill="#d3b2cf" /><rect x="744.3" y="206.6" width="134.7" height="4" fill="#e896c6" opacity="0.55"/><rect x="744.3" y="236.1" width="134.7" height="4.5" fill="#e896c6" opacity="0.7"/><rect x="744.3" y="207.6" width="4.5" height="32" fill="#ee7cbc" opacity="0.7"/><rect x="727.3" y="185.1" width="122.7" height="7.5" fill="#ef86c2" opacity="0.9"/><rect x="727.3" y="185.1" width="9" height="18" fill="#ef86c2" opacity="0.8"/><rect x="735.3" y="191.6" width="36" height="5" fill="#e896c6" opacity="0.45"/><rect x="728.3" y="174.6" width="146.7" height="4" fill="#eea2d2" opacity="0.6"/><rect x="721.3" y="203.6" width="21" height="42" fill="#c0e6d8" /><rect x="727.3" y="209.6" width="11" height="28" fill="#cfdbe0" /><path d="M742.3 203.6V244.6" stroke="#6cc4a2" stroke-width="2.6" fill="none"/><path d="M735.3 200.6 C737.3 197.6 741.3 197.6 745.3 197.6 C755.3 197.6 761.3 193.6 769.3 193.1 H821.3 C833.3 193.1 841.3 197.6 853.3 197.6 H874 V204.1 H853.3 C841.3 204.6 833.3 207.1 821.3 207.1 H773.3 C763.3 207.1 755.3 205.1 747.3 204.6 C743.3 204.6 739.3 205.6 735.3 207.6Z" fill="#a8e8c8" stroke="#72b89c" stroke-width="1.4"/><path d="M744.3 205.1C753.3 205.1 763.3 208.1 775.3 208.1H821.3C835.3 208.1 843.3 205.6 855.3 205.1H877" stroke="#61807c" stroke-width="1.8" fill="none" opacity="0.85"/><path d="M723.3 181.6H880" stroke="#58ac94" stroke-width="7" fill="none"/><path d="M726.3 182.1H880" stroke="#7fd4b4" stroke-width="2.4" fill="none" opacity="0.9"/><rect x="859.8" y="178.6" width="17.2" height="24.5" fill="#c9cfe0" /><rect x="863.3" y="184.6" width="9.7" height="13" fill="#bcc8d8" /><rect x="859.8" y="178.6" width="17.2" height="4" fill="#b4e4d0" /><rect x="855.1" y="178.6" width="4" height="26.5" fill="#fff" /><circle cx="841.3" cy="181.8" r="2.3" fill="#fff"/><circle cx="849.3" cy="181.8" r="2.3" fill="#fff"/><rect x="847.1" y="196.1" width="4.4" height="8.5" fill="#fff" rx="1.8"/><rect x="769.1" y="178.6" width="4.6" height="6" fill="#fff" rx="1"/><rect x="766.3" y="189.6" width="52" height="20" fill="#fff" opacity="0.4" rx="7"/><rect x="769.3" y="192.2" width="43" height="5.6" fill="#fffde6" /><rect x="781.3" y="197.1" width="31" height="5.5" fill="#ecec62" /><rect x="789.3" y="201.9" width="22" height="5.4" fill="#ffffc8" /><rect x="789.3" y="207.6" width="21.5" height="2.2" fill="#f2646a" opacity="0.85"/><rect x="783.3" y="189.8" width="29" height="2.6" fill="#f47aa0" opacity="0.6"/><path d="M811.3 204.6H840.3V197.6" stroke="#fff" stroke-width="3.2" fill="none"/>
<rect x="744.3" y="268.8" width="134.7" height="4" fill="#e896c6" opacity="0.5"/><rect x="744.3" y="269.8" width="4.5" height="26" fill="#ee7cbc" opacity="0.55"/><rect x="727.3" y="247.3" width="122.7" height="7.5" fill="#ef86c2" opacity="0.9"/><rect x="727.3" y="247.3" width="9" height="18" fill="#ef86c2" opacity="0.8"/><rect x="735.3" y="253.8" width="36" height="5" fill="#e896c6" opacity="0.45"/><rect x="728.3" y="236.8" width="146.7" height="4" fill="#eea2d2" opacity="0.6"/><rect x="721.3" y="265.8" width="21" height="42" fill="#c0e6d8" /><rect x="727.3" y="271.8" width="11" height="28" fill="#cfdbe0" /><path d="M742.3 265.8V306.8" stroke="#6cc4a2" stroke-width="2.6" fill="none"/><path d="M735.3 262.8 C737.3 259.8 741.3 259.8 745.3 259.8 C755.3 259.8 761.3 255.8 769.3 255.3 H821.3 C833.3 255.3 841.3 259.8 853.3 259.8 H874 V266.3 H853.3 C841.3 266.8 833.3 269.3 821.3 269.3 H773.3 C763.3 269.3 755.3 267.3 747.3 266.8 C743.3 266.8 739.3 267.8 735.3 269.8Z" fill="#a8e8c8" stroke="#72b89c" stroke-width="1.4"/><path d="M744.3 267.3C753.3 267.3 763.3 270.3 775.3 270.3H821.3C835.3 270.3 843.3 267.8 855.3 267.3H877" stroke="#61807c" stroke-width="1.8" fill="none" opacity="0.85"/><path d="M723.3 243.8H880" stroke="#6cc6a0" stroke-width="5.6" fill="none"/><path d="M726.3 244.1H880" stroke="#a4ecca" stroke-width="2" fill="none" opacity="0.9"/><rect x="859.8" y="240.8" width="17.2" height="24.5" fill="#c9cfe0" /><rect x="863.3" y="246.8" width="9.7" height="13" fill="#bcc8d8" /><rect x="859.8" y="240.8" width="17.2" height="4" fill="#b4e4d0" /><rect x="855.1" y="240.8" width="4" height="26.5" fill="#fff" /><rect x="769.1" y="240.8" width="4.6" height="6" fill="#fff" rx="1"/><rect x="766.3" y="251.8" width="52" height="20" fill="#fff" opacity="0.4" rx="7"/><rect x="769.3" y="254.4" width="43" height="5.6" fill="#fffde6" /><rect x="781.3" y="259.3" width="31" height="5.5" fill="#ecec62" /><rect x="789.3" y="264.1" width="22" height="5.4" fill="#ffffc8" /><rect x="789.3" y="269.8" width="21.5" height="2.2" fill="#f2646a" opacity="0.85"/><rect x="783.3" y="252" width="29" height="2.6" fill="#f47aa0" opacity="0.6"/><path d="M811.3 266.8H847.3" stroke="#fff" stroke-width="3.6" fill="none"/>
<rect x="901" y="142.3" width="133.2" height="36" fill="#d3b2cf" /><rect x="901" y="143.3" width="133.2" height="4" fill="#e896c6" opacity="0.55"/><rect x="901" y="172.8" width="133.2" height="4.5" fill="#e896c6" opacity="0.7"/><rect x="901" y="144.3" width="4.5" height="32" fill="#ee7cbc" opacity="0.7"/><rect x="884" y="121.8" width="121.2" height="7.5" fill="#ef86c2" opacity="0.9"/><rect x="884" y="121.8" width="9" height="18" fill="#ef86c2" opacity="0.8"/><rect x="892" y="128.3" width="36" height="5" fill="#e896c6" opacity="0.45"/><rect x="885" y="111.3" width="145.2" height="4" fill="#eea2d2" opacity="0.6"/><rect x="878" y="140.3" width="21" height="42" fill="#c0e6d8" /><rect x="884" y="146.3" width="11" height="28" fill="#cfdbe0" /><path d="M899 140.3V181.3" stroke="#6cc4a2" stroke-width="2.6" fill="none"/><path d="M892 137.3 C894 134.3 898 134.3 902 134.3 C912 134.3 918 130.3 926 129.8 H978 C990 129.8 998 134.3 1010 134.3 H1029.2 V140.8 H1010 C998 141.3 990 143.8 978 143.8 H930 C920 143.8 912 141.8 904 141.3 C900 141.3 896 142.3 892 144.3Z" fill="#a8e8c8" stroke="#72b89c" stroke-width="1.4"/><path d="M901 141.8C910 141.8 920 144.8 932 144.8H978C992 144.8 1000 142.3 1012 141.8H1032.2" stroke="#61807c" stroke-width="1.8" fill="none" opacity="0.85"/><path d="M880 118.3H1035.2" stroke="#6cc6a0" stroke-width="5.6" fill="none"/><path d="M883 118.6H1035.2" stroke="#a4ecca" stroke-width="2" fill="none" opacity="0.9"/><rect x="1016.5" y="115.3" width="15.7" height="24.5" fill="#c9cfe0" /><rect x="1020" y="121.3" width="8.2" height="13" fill="#bcc8d8" /><rect x="1016.5" y="115.3" width="15.7" height="4" fill="#b4e4d0" /><rect x="1011.8" y="115.3" width="4" height="26.5" fill="#fff" /><circle cx="983.5" cy="118.5" r="2.3" fill="#fff"/><circle cx="991" cy="118.5" r="2.3" fill="#fff"/><circle cx="998.5" cy="118.5" r="2.3" fill="#fff"/><circle cx="1006" cy="118.5" r="2.3" fill="#fff"/><rect x="988.3" y="132.8" width="4.4" height="8.5" fill="#fff" rx="1.8"/><rect x="996.3" y="132.8" width="4.4" height="8.5" fill="#fff" rx="1.8"/><rect x="1003.8" y="132.8" width="4.4" height="8.5" fill="#fff" rx="1.8"/><rect x="925.8" y="115.3" width="4.6" height="6" fill="#fff" rx="1"/><rect x="923" y="126.3" width="52" height="20" fill="#fff" opacity="0.4" rx="7"/><rect x="926" y="128.9" width="43" height="5.6" fill="#fffde6" /><rect x="938" y="133.8" width="31" height="5.5" fill="#ecec62" /><rect x="946" y="138.6" width="22" height="5.4" fill="#ffffc8" /><rect x="946" y="144.3" width="21.5" height="2.2" fill="#f2646a" opacity="0.85"/><rect x="940" y="126.5" width="29" height="2.6" fill="#f47aa0" opacity="0.6"/><path d="M969 140.3H981V133.3" stroke="#fff" stroke-width="3" fill="none"/>
<rect x="901" y="205.6" width="133.2" height="36" fill="#d3b2cf" /><rect x="901" y="206.6" width="133.2" height="4" fill="#e896c6" opacity="0.55"/><rect x="901" y="236.1" width="133.2" height="4.5" fill="#e896c6" opacity="0.7"/><rect x="901" y="207.6" width="4.5" height="32" fill="#ee7cbc" opacity="0.7"/><rect x="884" y="185.1" width="121.2" height="7.5" fill="#ef86c2" opacity="0.9"/><rect x="884" y="185.1" width="9" height="18" fill="#ef86c2" opacity="0.8"/><rect x="892" y="191.6" width="36" height="5" fill="#e896c6" opacity="0.45"/><rect x="885" y="174.6" width="145.2" height="4" fill="#eea2d2" opacity="0.6"/><rect x="878" y="203.6" width="21" height="42" fill="#c0e6d8" /><rect x="884" y="209.6" width="11" height="28" fill="#cfdbe0" /><path d="M899 203.6V244.6" stroke="#6cc4a2" stroke-width="2.6" fill="none"/><path d="M892 200.6 C894 197.6 898 197.6 902 197.6 C912 197.6 918 193.6 926 193.1 H978 C990 193.1 998 197.6 1010 197.6 H1029.2 V204.1 H1010 C998 204.6 990 207.1 978 207.1 H930 C920 207.1 912 205.1 904 204.6 C900 204.6 896 205.6 892 207.6Z" fill="#a8e8c8" stroke="#72b89c" stroke-width="1.4"/><path d="M901 205.1C910 205.1 920 208.1 932 208.1H978C992 208.1 1000 205.6 1012 205.1H1032.2" stroke="#61807c" stroke-width="1.8" fill="none" opacity="0.85"/><path d="M880 181.6H1035.2" stroke="#58ac94" stroke-width="7" fill="none"/><path d="M883 182.1H1035.2" stroke="#7fd4b4" stroke-width="2.4" fill="none" opacity="0.9"/><rect x="1016.5" y="178.6" width="15.7" height="24.5" fill="#c9cfe0" /><rect x="1020" y="184.6" width="8.2" height="13" fill="#bcc8d8" /><rect x="1016.5" y="178.6" width="15.7" height="4" fill="#b4e4d0" /><rect x="1011.8" y="178.6" width="4" height="26.5" fill="#fff" /><circle cx="998" cy="181.8" r="2.3" fill="#fff"/><circle cx="1006" cy="181.8" r="2.3" fill="#fff"/><rect x="1003.8" y="196.1" width="4.4" height="8.5" fill="#fff" rx="1.8"/><rect x="925.8" y="178.6" width="4.6" height="6" fill="#fff" rx="1"/><rect x="923" y="189.6" width="52" height="20" fill="#fff" opacity="0.4" rx="7"/><rect x="926" y="192.2" width="43" height="5.6" fill="#fffde6" /><rect x="938" y="197.1" width="31" height="5.5" fill="#ecec62" /><rect x="946" y="201.9" width="22" height="5.4" fill="#ffffc8" /><rect x="946" y="207.6" width="21.5" height="2.2" fill="#f2646a" opacity="0.85"/><rect x="940" y="189.8" width="29" height="2.6" fill="#f47aa0" opacity="0.6"/><path d="M968 204.6H997V197.6" stroke="#fff" stroke-width="3.2" fill="none"/>
<rect x="901" y="268.8" width="133.2" height="4" fill="#e896c6" opacity="0.5"/><rect x="901" y="269.8" width="4.5" height="26" fill="#ee7cbc" opacity="0.55"/><rect x="884" y="247.3" width="121.2" height="7.5" fill="#ef86c2" opacity="0.9"/><rect x="884" y="247.3" width="9" height="18" fill="#ef86c2" opacity="0.8"/><rect x="892" y="253.8" width="36" height="5" fill="#e896c6" opacity="0.45"/><rect x="885" y="236.8" width="145.2" height="4" fill="#eea2d2" opacity="0.6"/><rect x="878" y="265.8" width="21" height="42" fill="#c0e6d8" /><rect x="884" y="271.8" width="11" height="28" fill="#cfdbe0" /><path d="M899 265.8V306.8" stroke="#6cc4a2" stroke-width="2.6" fill="none"/><path d="M892 262.8 C894 259.8 898 259.8 902 259.8 C912 259.8 918 255.8 926 255.3 H978 C990 255.3 998 259.8 1010 259.8 H1029.2 V266.3 H1010 C998 266.8 990 269.3 978 269.3 H930 C920 269.3 912 267.3 904 266.8 C900 266.8 896 267.8 892 269.8Z" fill="#a8e8c8" stroke="#72b89c" stroke-width="1.4"/><path d="M901 267.3C910 267.3 920 270.3 932 270.3H978C992 270.3 1000 267.8 1012 267.3H1032.2" stroke="#61807c" stroke-width="1.8" fill="none" opacity="0.85"/><path d="M880 243.8H1035.2" stroke="#6cc6a0" stroke-width="5.6" fill="none"/><path d="M883 244.1H1035.2" stroke="#a4ecca" stroke-width="2" fill="none" opacity="0.9"/><rect x="1016.5" y="240.8" width="15.7" height="24.5" fill="#c9cfe0" /><rect x="1020" y="246.8" width="8.2" height="13" fill="#bcc8d8" /><rect x="1016.5" y="240.8" width="15.7" height="4" fill="#b4e4d0" /><rect x="1011.8" y="240.8" width="4" height="26.5" fill="#fff" /><rect x="925.8" y="240.8" width="4.6" height="6" fill="#fff" rx="1"/><rect x="923" y="251.8" width="52" height="20" fill="#fff" opacity="0.4" rx="7"/><rect x="926" y="254.4" width="43" height="5.6" fill="#fffde6" /><rect x="938" y="259.3" width="31" height="5.5" fill="#ecec62" /><rect x="946" y="264.1" width="22" height="5.4" fill="#ffffc8" /><rect x="946" y="269.8" width="21.5" height="2.2" fill="#f2646a" opacity="0.85"/><rect x="940" y="252" width="29" height="2.6" fill="#f47aa0" opacity="0.6"/><path d="M968 266.8H1004" stroke="#fff" stroke-width="3.6" fill="none"/>
<rect x="1056.2" y="142.3" width="134.8" height="36" fill="#d3b2cf" /><rect x="1056.2" y="143.3" width="134.8" height="4" fill="#e896c6" opacity="0.55"/><rect x="1056.2" y="172.8" width="134.8" height="4.5" fill="#e896c6" opacity="0.7"/><rect x="1056.2" y="144.3" width="4.5" height="32" fill="#ee7cbc" opacity="0.7"/><rect x="1039.2" y="121.8" width="122.8" height="7.5" fill="#ef86c2" opacity="0.9"/><rect x="1039.2" y="121.8" width="9" height="18" fill="#ef86c2" opacity="0.8"/><rect x="1047.2" y="128.3" width="36" height="5" fill="#e896c6" opacity="0.45"/><rect x="1040.2" y="111.3" width="146.8" height="4" fill="#eea2d2" opacity="0.6"/><rect x="1033.2" y="140.3" width="21" height="42" fill="#c0e6d8" /><rect x="1039.2" y="146.3" width="11" height="28" fill="#cfdbe0" /><path d="M1054.2 140.3V181.3" stroke="#6cc4a2" stroke-width="2.6" fill="none"/><path d="M1047.2 137.3 C1049.2 134.3 1053.2 134.3 1057.2 134.3 C1067.2 134.3 1073.2 130.3 1081.2 129.8 H1133.2 C1145.2 129.8 1153.2 134.3 1165.2 134.3 H1186 V140.8 H1165.2 C1153.2 141.3 1145.2 143.8 1133.2 143.8 H1085.2 C1075.2 143.8 1067.2 141.8 1059.2 141.3 C1055.2 141.3 1051.2 142.3 1047.2 144.3Z" fill="#a8e8c8" stroke="#72b89c" stroke-width="1.4"/><path d="M1056.2 141.8C1065.2 141.8 1075.2 144.8 1087.2 144.8H1133.2C1147.2 144.8 1155.2 142.3 1167.2 141.8H1189" stroke="#61807c" stroke-width="1.8" fill="none" opacity="0.85"/><path d="M1035.2 118.3H1192" stroke="#6cc6a0" stroke-width="5.6" fill="none"/><path d="M1038.2 118.6H1192" stroke="#a4ecca" stroke-width="2" fill="none" opacity="0.9"/><rect x="1171.7" y="115.3" width="17.3" height="24.5" fill="#c9cfe0" /><rect x="1175.2" y="121.3" width="9.8" height="13" fill="#bcc8d8" /><rect x="1171.7" y="115.3" width="17.3" height="4" fill="#b4e4d0" /><rect x="1167" y="115.3" width="4" height="26.5" fill="#fff" /><circle cx="1138.7" cy="118.5" r="2.3" fill="#fff"/><circle cx="1146.2" cy="118.5" r="2.3" fill="#fff"/><circle cx="1153.7" cy="118.5" r="2.3" fill="#fff"/><circle cx="1161.2" cy="118.5" r="2.3" fill="#fff"/><rect x="1143.5" y="132.8" width="4.4" height="8.5" fill="#fff" rx="1.8"/><rect x="1151.5" y="132.8" width="4.4" height="8.5" fill="#fff" rx="1.8"/><rect x="1159" y="132.8" width="4.4" height="8.5" fill="#fff" rx="1.8"/><rect x="1081" y="115.3" width="4.6" height="6" fill="#fff" rx="1"/><rect x="1078.2" y="126.3" width="52" height="20" fill="#fff" opacity="0.4" rx="7"/><rect x="1081.2" y="128.9" width="43" height="5.6" fill="#fffde6" /><rect x="1093.2" y="133.8" width="31" height="5.5" fill="#ecec62" /><rect x="1101.2" y="138.6" width="22" height="5.4" fill="#ffffc8" /><rect x="1101.2" y="144.3" width="21.5" height="2.2" fill="#f2646a" opacity="0.85"/><rect x="1095.2" y="126.5" width="29" height="2.6" fill="#f47aa0" opacity="0.6"/><path d="M1124.2 140.3H1136.2V133.3" stroke="#fff" stroke-width="3" fill="none"/>
<rect x="1056.2" y="205.6" width="134.8" height="36" fill="#d3b2cf" /><rect x="1056.2" y="206.6" width="134.8" height="4" fill="#e896c6" opacity="0.55"/><rect x="1056.2" y="236.1" width="134.8" height="4.5" fill="#e896c6" opacity="0.7"/><rect x="1056.2" y="207.6" width="4.5" height="32" fill="#ee7cbc" opacity="0.7"/><rect x="1039.2" y="185.1" width="122.8" height="7.5" fill="#ef86c2" opacity="0.9"/><rect x="1039.2" y="185.1" width="9" height="18" fill="#ef86c2" opacity="0.8"/><rect x="1047.2" y="191.6" width="36" height="5" fill="#e896c6" opacity="0.45"/><rect x="1040.2" y="174.6" width="146.8" height="4" fill="#eea2d2" opacity="0.6"/><rect x="1033.2" y="203.6" width="21" height="42" fill="#c0e6d8" /><rect x="1039.2" y="209.6" width="11" height="28" fill="#cfdbe0" /><path d="M1054.2 203.6V244.6" stroke="#6cc4a2" stroke-width="2.6" fill="none"/><path d="M1047.2 200.6 C1049.2 197.6 1053.2 197.6 1057.2 197.6 C1067.2 197.6 1073.2 193.6 1081.2 193.1 H1133.2 C1145.2 193.1 1153.2 197.6 1165.2 197.6 H1186 V204.1 H1165.2 C1153.2 204.6 1145.2 207.1 1133.2 207.1 H1085.2 C1075.2 207.1 1067.2 205.1 1059.2 204.6 C1055.2 204.6 1051.2 205.6 1047.2 207.6Z" fill="#a8e8c8" stroke="#72b89c" stroke-width="1.4"/><path d="M1056.2 205.1C1065.2 205.1 1075.2 208.1 1087.2 208.1H1133.2C1147.2 208.1 1155.2 205.6 1167.2 205.1H1189" stroke="#61807c" stroke-width="1.8" fill="none" opacity="0.85"/><path d="M1035.2 181.6H1192" stroke="#58ac94" stroke-width="7" fill="none"/><path d="M1038.2 182.1H1192" stroke="#7fd4b4" stroke-width="2.4" fill="none" opacity="0.9"/><rect x="1171.7" y="178.6" width="17.3" height="24.5" fill="#c9cfe0" /><rect x="1175.2" y="184.6" width="9.8" height="13" fill="#bcc8d8" /><rect x="1171.7" y="178.6" width="17.3" height="4" fill="#b4e4d0" /><rect x="1167" y="178.6" width="4" height="26.5" fill="#fff" /><circle cx="1153.2" cy="181.8" r="2.3" fill="#fff"/><circle cx="1161.2" cy="181.8" r="2.3" fill="#fff"/><rect x="1159" y="196.1" width="4.4" height="8.5" fill="#fff" rx="1.8"/><rect x="1081" y="178.6" width="4.6" height="6" fill="#fff" rx="1"/><rect x="1078.2" y="189.6" width="52" height="20" fill="#fff" opacity="0.4" rx="7"/><rect x="1081.2" y="192.2" width="43" height="5.6" fill="#fffde6" /><rect x="1093.2" y="197.1" width="31" height="5.5" fill="#ecec62" /><rect x="1101.2" y="201.9" width="22" height="5.4" fill="#ffffc8" /><rect x="1101.2" y="207.6" width="21.5" height="2.2" fill="#f2646a" opacity="0.85"/><rect x="1095.2" y="189.8" width="29" height="2.6" fill="#f47aa0" opacity="0.6"/><path d="M1123.2 204.6H1152.2V197.6" stroke="#fff" stroke-width="3.2" fill="none"/>
<rect x="1056.2" y="268.8" width="134.8" height="4" fill="#e896c6" opacity="0.5"/><rect x="1056.2" y="269.8" width="4.5" height="26" fill="#ee7cbc" opacity="0.55"/><rect x="1039.2" y="247.3" width="122.8" height="7.5" fill="#ef86c2" opacity="0.9"/><rect x="1039.2" y="247.3" width="9" height="18" fill="#ef86c2" opacity="0.8"/><rect x="1047.2" y="253.8" width="36" height="5" fill="#e896c6" opacity="0.45"/><rect x="1040.2" y="236.8" width="146.8" height="4" fill="#eea2d2" opacity="0.6"/><rect x="1033.2" y="265.8" width="21" height="42" fill="#c0e6d8" /><rect x="1039.2" y="271.8" width="11" height="28" fill="#cfdbe0" /><path d="M1054.2 265.8V306.8" stroke="#6cc4a2" stroke-width="2.6" fill="none"/><path d="M1047.2 262.8 C1049.2 259.8 1053.2 259.8 1057.2 259.8 C1067.2 259.8 1073.2 255.8 1081.2 255.3 H1133.2 C1145.2 255.3 1153.2 259.8 1165.2 259.8 H1186 V266.3 H1165.2 C1153.2 266.8 1145.2 269.3 1133.2 269.3 H1085.2 C1075.2 269.3 1067.2 267.3 1059.2 266.8 C1055.2 266.8 1051.2 267.8 1047.2 269.8Z" fill="#a8e8c8" stroke="#72b89c" stroke-width="1.4"/><path d="M1056.2 267.3C1065.2 267.3 1075.2 270.3 1087.2 270.3H1133.2C1147.2 270.3 1155.2 267.8 1167.2 267.3H1189" stroke="#61807c" stroke-width="1.8" fill="none" opacity="0.85"/><path d="M1035.2 243.8H1192" stroke="#6cc6a0" stroke-width="5.6" fill="none"/><path d="M1038.2 244.1H1192" stroke="#a4ecca" stroke-width="2" fill="none" opacity="0.9"/><rect x="1171.7" y="240.8" width="17.3" height="24.5" fill="#c9cfe0" /><rect x="1175.2" y="246.8" width="9.8" height="13" fill="#bcc8d8" /><rect x="1171.7" y="240.8" width="17.3" height="4" fill="#b4e4d0" /><rect x="1167" y="240.8" width="4" height="26.5" fill="#fff" /><rect x="1081" y="240.8" width="4.6" height="6" fill="#fff" rx="1"/><rect x="1078.2" y="251.8" width="52" height="20" fill="#fff" opacity="0.4" rx="7"/><rect x="1081.2" y="254.4" width="43" height="5.6" fill="#fffde6" /><rect x="1093.2" y="259.3" width="31" height="5.5" fill="#ecec62" /><rect x="1101.2" y="264.1" width="22" height="5.4" fill="#ffffc8" /><rect x="1101.2" y="269.8" width="21.5" height="2.2" fill="#f2646a" opacity="0.85"/><rect x="1095.2" y="252" width="29" height="2.6" fill="#f47aa0" opacity="0.6"/><path d="M1123.2 266.8H1159.2" stroke="#fff" stroke-width="3.6" fill="none"/>
<rect x="1213" y="142.3" width="130.7" height="36" fill="#d3b2cf" /><rect x="1213" y="143.3" width="130.7" height="4" fill="#e896c6" opacity="0.55"/><rect x="1213" y="172.8" width="130.7" height="4.5" fill="#e896c6" opacity="0.7"/><rect x="1213" y="144.3" width="4.5" height="32" fill="#ee7cbc" opacity="0.7"/><rect x="1196" y="121.8" width="118.7" height="7.5" fill="#ef86c2" opacity="0.9"/><rect x="1196" y="121.8" width="9" height="18" fill="#ef86c2" opacity="0.8"/><rect x="1204" y="128.3" width="36" height="5" fill="#e896c6" opacity="0.45"/><rect x="1197" y="111.3" width="142.7" height="4" fill="#eea2d2" opacity="0.6"/><rect x="1190" y="140.3" width="21" height="42" fill="#c0e6d8" /><rect x="1196" y="146.3" width="11" height="28" fill="#cfdbe0" /><path d="M1211 140.3V181.3" stroke="#6cc4a2" stroke-width="2.6" fill="none"/><path d="M1204 137.3 C1206 134.3 1210 134.3 1214 134.3 C1224 134.3 1230 130.3 1238 129.8 H1290 C1302 129.8 1310 134.3 1322 134.3 H1338.7 V140.8 H1322 C1310 141.3 1302 143.8 1290 143.8 H1242 C1232 143.8 1224 141.8 1216 141.3 C1212 141.3 1208 142.3 1204 144.3Z" fill="#a8e8c8" stroke="#72b89c" stroke-width="1.4"/><path d="M1213 141.8C1222 141.8 1232 144.8 1244 144.8H1290C1304 144.8 1312 142.3 1324 141.8H1341.7" stroke="#61807c" stroke-width="1.8" fill="none" opacity="0.85"/><path d="M1192 118.3H1344.7" stroke="#6cc6a0" stroke-width="5.6" fill="none"/><path d="M1195 118.6H1344.7" stroke="#a4ecca" stroke-width="2" fill="none" opacity="0.9"/><rect x="1328.5" y="115.3" width="13.2" height="24.5" fill="#c9cfe0" /><rect x="1332" y="121.3" width="5.7" height="13" fill="#bcc8d8" /><rect x="1328.5" y="115.3" width="13.2" height="4" fill="#b4e4d0" /><rect x="1323.8" y="115.3" width="4" height="26.5" fill="#fff" /><circle cx="1295.5" cy="118.5" r="2.3" fill="#fff"/><circle cx="1303" cy="118.5" r="2.3" fill="#fff"/><circle cx="1310.5" cy="118.5" r="2.3" fill="#fff"/><circle cx="1318" cy="118.5" r="2.3" fill="#fff"/><rect x="1300.3" y="132.8" width="4.4" height="8.5" fill="#fff" rx="1.8"/><rect x="1308.3" y="132.8" width="4.4" height="8.5" fill="#fff" rx="1.8"/><rect x="1315.8" y="132.8" width="4.4" height="8.5" fill="#fff" rx="1.8"/><rect x="1237.8" y="115.3" width="4.6" height="6" fill="#fff" rx="1"/><rect x="1235" y="126.3" width="52" height="20" fill="#fff" opacity="0.4" rx="7"/><rect x="1238" y="128.9" width="43" height="5.6" fill="#fffde6" /><rect x="1250" y="133.8" width="31" height="5.5" fill="#ecec62" /><rect x="1258" y="138.6" width="22" height="5.4" fill="#ffffc8" /><rect x="1258" y="144.3" width="21.5" height="2.2" fill="#f2646a" opacity="0.85"/><rect x="1252" y="126.5" width="29" height="2.6" fill="#f47aa0" opacity="0.6"/><path d="M1281 140.3H1293V133.3" stroke="#fff" stroke-width="3" fill="none"/>
<rect x="1213" y="205.6" width="130.7" height="36" fill="#d3b2cf" /><rect x="1213" y="206.6" width="130.7" height="4" fill="#e896c6" opacity="0.55"/><rect x="1213" y="236.1" width="130.7" height="4.5" fill="#e896c6" opacity="0.7"/><rect x="1213" y="207.6" width="4.5" height="32" fill="#ee7cbc" opacity="0.7"/><rect x="1196" y="185.1" width="118.7" height="7.5" fill="#ef86c2" opacity="0.9"/><rect x="1196" y="185.1" width="9" height="18" fill="#ef86c2" opacity="0.8"/><rect x="1204" y="191.6" width="36" height="5" fill="#e896c6" opacity="0.45"/><rect x="1197" y="174.6" width="142.7" height="4" fill="#eea2d2" opacity="0.6"/><rect x="1190" y="203.6" width="21" height="42" fill="#c0e6d8" /><rect x="1196" y="209.6" width="11" height="28" fill="#cfdbe0" /><path d="M1211 203.6V244.6" stroke="#6cc4a2" stroke-width="2.6" fill="none"/><path d="M1204 200.6 C1206 197.6 1210 197.6 1214 197.6 C1224 197.6 1230 193.6 1238 193.1 H1290 C1302 193.1 1310 197.6 1322 197.6 H1338.7 V204.1 H1322 C1310 204.6 1302 207.1 1290 207.1 H1242 C1232 207.1 1224 205.1 1216 204.6 C1212 204.6 1208 205.6 1204 207.6Z" fill="#a8e8c8" stroke="#72b89c" stroke-width="1.4"/><path d="M1213 205.1C1222 205.1 1232 208.1 1244 208.1H1290C1304 208.1 1312 205.6 1324 205.1H1341.7" stroke="#61807c" stroke-width="1.8" fill="none" opacity="0.85"/><path d="M1192 181.6H1344.7" stroke="#58ac94" stroke-width="7" fill="none"/><path d="M1195 182.1H1344.7" stroke="#7fd4b4" stroke-width="2.4" fill="none" opacity="0.9"/><rect x="1328.5" y="178.6" width="13.2" height="24.5" fill="#c9cfe0" /><rect x="1332" y="184.6" width="5.7" height="13" fill="#bcc8d8" /><rect x="1328.5" y="178.6" width="13.2" height="4" fill="#b4e4d0" /><rect x="1323.8" y="178.6" width="4" height="26.5" fill="#fff" /><circle cx="1310" cy="181.8" r="2.3" fill="#fff"/><circle cx="1318" cy="181.8" r="2.3" fill="#fff"/><rect x="1315.8" y="196.1" width="4.4" height="8.5" fill="#fff" rx="1.8"/><rect x="1237.8" y="178.6" width="4.6" height="6" fill="#fff" rx="1"/><rect x="1235" y="189.6" width="52" height="20" fill="#fff" opacity="0.4" rx="7"/><rect x="1238" y="192.2" width="43" height="5.6" fill="#fffde6" /><rect x="1250" y="197.1" width="31" height="5.5" fill="#ecec62" /><rect x="1258" y="201.9" width="22" height="5.4" fill="#ffffc8" /><rect x="1258" y="207.6" width="21.5" height="2.2" fill="#f2646a" opacity="0.85"/><rect x="1252" y="189.8" width="29" height="2.6" fill="#f47aa0" opacity="0.6"/><path d="M1280 204.6H1309V197.6" stroke="#fff" stroke-width="3.2" fill="none"/>
<rect x="1213" y="268.8" width="130.7" height="4" fill="#e896c6" opacity="0.5"/><rect x="1213" y="269.8" width="4.5" height="26" fill="#ee7cbc" opacity="0.55"/><rect x="1196" y="247.3" width="118.7" height="7.5" fill="#ef86c2" opacity="0.9"/><rect x="1196" y="247.3" width="9" height="18" fill="#ef86c2" opacity="0.8"/><rect x="1204" y="253.8" width="36" height="5" fill="#e896c6" opacity="0.45"/><rect x="1197" y="236.8" width="142.7" height="4" fill="#eea2d2" opacity="0.6"/><rect x="1190" y="265.8" width="21" height="42" fill="#c0e6d8" /><rect x="1196" y="271.8" width="11" height="28" fill="#cfdbe0" /><path d="M1211 265.8V306.8" stroke="#6cc4a2" stroke-width="2.6" fill="none"/><path d="M1204 262.8 C1206 259.8 1210 259.8 1214 259.8 C1224 259.8 1230 255.8 1238 255.3 H1290 C1302 255.3 1310 259.8 1322 259.8 H1338.7 V266.3 H1322 C1310 266.8 1302 269.3 1290 269.3 H1242 C1232 269.3 1224 267.3 1216 266.8 C1212 266.8 1208 267.8 1204 269.8Z" fill="#a8e8c8" stroke="#72b89c" stroke-width="1.4"/><path d="M1213 267.3C1222 267.3 1232 270.3 1244 270.3H1290C1304 270.3 1312 267.8 1324 267.3H1341.7" stroke="#61807c" stroke-width="1.8" fill="none" opacity="0.85"/><path d="M1192 243.8H1344.7" stroke="#6cc6a0" stroke-width="5.6" fill="none"/><path d="M1195 244.1H1344.7" stroke="#a4ecca" stroke-width="2" fill="none" opacity="0.9"/><rect x="1328.5" y="240.8" width="13.2" height="24.5" fill="#c9cfe0" /><rect x="1332" y="246.8" width="5.7" height="13" fill="#bcc8d8" /><rect x="1328.5" y="240.8" width="13.2" height="4" fill="#b4e4d0" /><rect x="1323.8" y="240.8" width="4" height="26.5" fill="#fff" /><rect x="1237.8" y="240.8" width="4.6" height="6" fill="#fff" rx="1"/><rect x="1235" y="251.8" width="52" height="20" fill="#fff" opacity="0.4" rx="7"/><rect x="1238" y="254.4" width="43" height="5.6" fill="#fffde6" /><rect x="1250" y="259.3" width="31" height="5.5" fill="#ecec62" /><rect x="1258" y="264.1" width="22" height="5.4" fill="#ffffc8" /><rect x="1258" y="269.8" width="21.5" height="2.2" fill="#f2646a" opacity="0.85"/><rect x="1252" y="252" width="29" height="2.6" fill="#f47aa0" opacity="0.6"/><path d="M1280 266.8H1316" stroke="#fff" stroke-width="3.6" fill="none"/>
<rect x="1365.7" y="142.3" width="136" height="36" fill="#d3b2cf" /><rect x="1365.7" y="143.3" width="136" height="4" fill="#e896c6" opacity="0.55"/><rect x="1365.7" y="172.8" width="136" height="4.5" fill="#e896c6" opacity="0.7"/><rect x="1365.7" y="144.3" width="4.5" height="32" fill="#ee7cbc" opacity="0.7"/><rect x="1348.7" y="121.8" width="124" height="7.5" fill="#ef86c2" opacity="0.9"/><rect x="1348.7" y="121.8" width="9" height="18" fill="#ef86c2" opacity="0.8"/><rect x="1356.7" y="128.3" width="36" height="5" fill="#e896c6" opacity="0.45"/><rect x="1349.7" y="111.3" width="148" height="4" fill="#eea2d2" opacity="0.6"/><rect x="1342.7" y="140.3" width="21" height="42" fill="#c0e6d8" /><rect x="1348.7" y="146.3" width="11" height="28" fill="#cfdbe0" /><path d="M1363.7 140.3V181.3" stroke="#6cc4a2" stroke-width="2.6" fill="none"/><path d="M1356.7 137.3 C1358.7 134.3 1362.7 134.3 1366.7 134.3 C1376.7 134.3 1382.7 130.3 1390.7 129.8 H1442.7 C1454.7 129.8 1462.7 134.3 1474.7 134.3 H1496.7 V140.8 H1474.7 C1462.7 141.3 1454.7 143.8 1442.7 143.8 H1394.7 C1384.7 143.8 1376.7 141.8 1368.7 141.3 C1364.7 141.3 1360.7 142.3 1356.7 144.3Z" fill="#a8e8c8" stroke="#72b89c" stroke-width="1.4"/><path d="M1365.7 141.8C1374.7 141.8 1384.7 144.8 1396.7 144.8H1442.7C1456.7 144.8 1464.7 142.3 1476.7 141.8H1499.7" stroke="#61807c" stroke-width="1.8" fill="none" opacity="0.85"/><path d="M1344.7 118.3H1502.7" stroke="#6cc6a0" stroke-width="5.6" fill="none"/><path d="M1347.7 118.6H1502.7" stroke="#a4ecca" stroke-width="2" fill="none" opacity="0.9"/><rect x="1481.2" y="115.3" width="18.5" height="24.5" fill="#c9cfe0" /><rect x="1484.7" y="121.3" width="11" height="13" fill="#bcc8d8" /><rect x="1481.2" y="115.3" width="18.5" height="4" fill="#b4e4d0" /><rect x="1476.5" y="115.3" width="4" height="26.5" fill="#fff" /><circle cx="1448.2" cy="118.5" r="2.3" fill="#fff"/><circle cx="1455.7" cy="118.5" r="2.3" fill="#fff"/><circle cx="1463.2" cy="118.5" r="2.3" fill="#fff"/><circle cx="1470.7" cy="118.5" r="2.3" fill="#fff"/><rect x="1453" y="132.8" width="4.4" height="8.5" fill="#fff" rx="1.8"/><rect x="1461" y="132.8" width="4.4" height="8.5" fill="#fff" rx="1.8"/><rect x="1468.5" y="132.8" width="4.4" height="8.5" fill="#fff" rx="1.8"/><rect x="1390.5" y="115.3" width="4.6" height="6" fill="#fff" rx="1"/><rect x="1387.7" y="126.3" width="52" height="20" fill="#fff" opacity="0.4" rx="7"/><rect x="1390.7" y="128.9" width="43" height="5.6" fill="#fffde6" /><rect x="1402.7" y="133.8" width="31" height="5.5" fill="#ecec62" /><rect x="1410.7" y="138.6" width="22" height="5.4" fill="#ffffc8" /><rect x="1410.7" y="144.3" width="21.5" height="2.2" fill="#f2646a" opacity="0.85"/><rect x="1404.7" y="126.5" width="29" height="2.6" fill="#f47aa0" opacity="0.6"/><path d="M1433.7 140.3H1445.7V133.3" stroke="#fff" stroke-width="3" fill="none"/>
<rect x="1365.7" y="205.6" width="136" height="36" fill="#d3b2cf" /><rect x="1365.7" y="206.6" width="136" height="4" fill="#e896c6" opacity="0.55"/><rect x="1365.7" y="236.1" width="136" height="4.5" fill="#e896c6" opacity="0.7"/><rect x="1365.7" y="207.6" width="4.5" height="32" fill="#ee7cbc" opacity="0.7"/><rect x="1348.7" y="185.1" width="124" height="7.5" fill="#ef86c2" opacity="0.9"/><rect x="1348.7" y="185.1" width="9" height="18" fill="#ef86c2" opacity="0.8"/><rect x="1356.7" y="191.6" width="36" height="5" fill="#e896c6" opacity="0.45"/><rect x="1349.7" y="174.6" width="148" height="4" fill="#eea2d2" opacity="0.6"/><rect x="1342.7" y="203.6" width="21" height="42" fill="#c0e6d8" /><rect x="1348.7" y="209.6" width="11" height="28" fill="#cfdbe0" /><path d="M1363.7 203.6V244.6" stroke="#6cc4a2" stroke-width="2.6" fill="none"/><path d="M1356.7 200.6 C1358.7 197.6 1362.7 197.6 1366.7 197.6 C1376.7 197.6 1382.7 193.6 1390.7 193.1 H1442.7 C1454.7 193.1 1462.7 197.6 1474.7 197.6 H1496.7 V204.1 H1474.7 C1462.7 204.6 1454.7 207.1 1442.7 207.1 H1394.7 C1384.7 207.1 1376.7 205.1 1368.7 204.6 C1364.7 204.6 1360.7 205.6 1356.7 207.6Z" fill="#a8e8c8" stroke="#72b89c" stroke-width="1.4"/><path d="M1365.7 205.1C1374.7 205.1 1384.7 208.1 1396.7 208.1H1442.7C1456.7 208.1 1464.7 205.6 1476.7 205.1H1499.7" stroke="#61807c" stroke-width="1.8" fill="none" opacity="0.85"/><path d="M1344.7 181.6H1502.7" stroke="#58ac94" stroke-width="7" fill="none"/><path d="M1347.7 182.1H1502.7" stroke="#7fd4b4" stroke-width="2.4" fill="none" opacity="0.9"/><rect x="1481.2" y="178.6" width="18.5" height="24.5" fill="#c9cfe0" /><rect x="1484.7" y="184.6" width="11" height="13" fill="#bcc8d8" /><rect x="1481.2" y="178.6" width="18.5" height="4" fill="#b4e4d0" /><rect x="1476.5" y="178.6" width="4" height="26.5" fill="#fff" /><circle cx="1462.7" cy="181.8" r="2.3" fill="#fff"/><circle cx="1470.7" cy="181.8" r="2.3" fill="#fff"/><rect x="1468.5" y="196.1" width="4.4" height="8.5" fill="#fff" rx="1.8"/><rect x="1390.5" y="178.6" width="4.6" height="6" fill="#fff" rx="1"/><rect x="1387.7" y="189.6" width="52" height="20" fill="#fff" opacity="0.4" rx="7"/><rect x="1390.7" y="192.2" width="43" height="5.6" fill="#fffde6" /><rect x="1402.7" y="197.1" width="31" height="5.5" fill="#ecec62" /><rect x="1410.7" y="201.9" width="22" height="5.4" fill="#ffffc8" /><rect x="1410.7" y="207.6" width="21.5" height="2.2" fill="#f2646a" opacity="0.85"/><rect x="1404.7" y="189.8" width="29" height="2.6" fill="#f47aa0" opacity="0.6"/><path d="M1432.7 204.6H1461.7V197.6" stroke="#fff" stroke-width="3.2" fill="none"/>
<rect x="1365.7" y="268.8" width="136" height="4" fill="#e896c6" opacity="0.5"/><rect x="1365.7" y="269.8" width="4.5" height="26" fill="#ee7cbc" opacity="0.55"/><rect x="1348.7" y="247.3" width="124" height="7.5" fill="#ef86c2" opacity="0.9"/><rect x="1348.7" y="247.3" width="9" height="18" fill="#ef86c2" opacity="0.8"/><rect x="1356.7" y="253.8" width="36" height="5" fill="#e896c6" opacity="0.45"/><rect x="1349.7" y="236.8" width="148" height="4" fill="#eea2d2" opacity="0.6"/><rect x="1342.7" y="265.8" width="21" height="42" fill="#c0e6d8" /><rect x="1348.7" y="271.8" width="11" height="28" fill="#cfdbe0" /><path d="M1363.7 265.8V306.8" stroke="#6cc4a2" stroke-width="2.6" fill="none"/><path d="M1356.7 262.8 C1358.7 259.8 1362.7 259.8 1366.7 259.8 C1376.7 259.8 1382.7 255.8 1390.7 255.3 H1442.7 C1454.7 255.3 1462.7 259.8 1474.7 259.8 H1496.7 V266.3 H1474.7 C1462.7 266.8 1454.7 269.3 1442.7 269.3 H1394.7 C1384.7 269.3 1376.7 267.3 1368.7 266.8 C1364.7 266.8 1360.7 267.8 1356.7 269.8Z" fill="#a8e8c8" stroke="#72b89c" stroke-width="1.4"/><path d="M1365.7 267.3C1374.7 267.3 1384.7 270.3 1396.7 270.3H1442.7C1456.7 270.3 1464.7 267.8 1476.7 267.3H1499.7" stroke="#61807c" stroke-width="1.8" fill="none" opacity="0.85"/><path d="M1344.7 243.8H1502.7" stroke="#6cc6a0" stroke-width="5.6" fill="none"/><path d="M1347.7 244.1H1502.7" stroke="#a4ecca" stroke-width="2" fill="none" opacity="0.9"/><rect x="1481.2" y="240.8" width="18.5" height="24.5" fill="#c9cfe0" /><rect x="1484.7" y="246.8" width="11" height="13" fill="#bcc8d8" /><rect x="1481.2" y="240.8" width="18.5" height="4" fill="#b4e4d0" /><rect x="1476.5" y="240.8" width="4" height="26.5" fill="#fff" /><rect x="1390.5" y="240.8" width="4.6" height="6" fill="#fff" rx="1"/><rect x="1387.7" y="251.8" width="52" height="20" fill="#fff" opacity="0.4" rx="7"/><rect x="1390.7" y="254.4" width="43" height="5.6" fill="#fffde6" /><rect x="1402.7" y="259.3" width="31" height="5.5" fill="#ecec62" /><rect x="1410.7" y="264.1" width="22" height="5.4" fill="#ffffc8" /><rect x="1410.7" y="269.8" width="21.5" height="2.2" fill="#f2646a" opacity="0.85"/><rect x="1404.7" y="252" width="29" height="2.6" fill="#f47aa0" opacity="0.6"/><path d="M1432.7 266.8H1468.7" stroke="#fff" stroke-width="3.6" fill="none"/>
<path d="M81.4 104.5V300" stroke="#66c09c" stroke-width="4.2" fill="none"/>
<path d="M82.4 104.5V118" stroke="#6ccca0" stroke-width="7" fill="none"/>
<rect x="78.4" y="114.3" width="9" height="8" fill="#8fdcb8" />
<rect x="78.4" y="177.6" width="9" height="8" fill="#8fdcb8" />
<rect x="78.4" y="239.8" width="9" height="8" fill="#8fdcb8" />
<rect x="78.4" y="296" width="25" height="12" fill="#c3d3d6" />
<rect x="86.4" y="308" width="17" height="4" fill="#a99bc8" />
<path d="M245.3 104.5V300" stroke="#66c09c" stroke-width="4.2" fill="none"/>
<path d="M246.3 104.5V118" stroke="#6ccca0" stroke-width="7" fill="none"/>
<rect x="242.3" y="114.3" width="9" height="8" fill="#8fdcb8" />
<rect x="242.3" y="177.6" width="9" height="8" fill="#8fdcb8" />
<rect x="242.3" y="239.8" width="9" height="8" fill="#8fdcb8" />
<rect x="242.3" y="296" width="25" height="12" fill="#c3d3d6" />
<rect x="250.3" y="308" width="17" height="4" fill="#a99bc8" />
<path d="M405.2 104.5V300" stroke="#66c09c" stroke-width="4.2" fill="none"/>
<path d="M406.2 104.5V118" stroke="#6ccca0" stroke-width="7" fill="none"/>
<rect x="402.2" y="114.3" width="9" height="8" fill="#8fdcb8" />
<rect x="402.2" y="177.6" width="9" height="8" fill="#8fdcb8" />
<rect x="402.2" y="239.8" width="9" height="8" fill="#8fdcb8" />
<rect x="402.2" y="296" width="25" height="12" fill="#c3d3d6" />
<rect x="410.2" y="308" width="17" height="4" fill="#a99bc8" />
<path d="M564 104.5V300" stroke="#66c09c" stroke-width="4.2" fill="none"/>
<path d="M565 104.5V118" stroke="#6ccca0" stroke-width="7" fill="none"/>
<rect x="561" y="114.3" width="9" height="8" fill="#8fdcb8" />
<rect x="561" y="177.6" width="9" height="8" fill="#8fdcb8" />
<rect x="561" y="239.8" width="9" height="8" fill="#8fdcb8" />
<rect x="561" y="296" width="25" height="12" fill="#c3d3d6" />
<rect x="569" y="308" width="17" height="4" fill="#a99bc8" />
<path d="M722.3 104.5V300" stroke="#66c09c" stroke-width="4.2" fill="none"/>
<path d="M723.3 104.5V118" stroke="#6ccca0" stroke-width="7" fill="none"/>
<rect x="719.3" y="114.3" width="9" height="8" fill="#8fdcb8" />
<rect x="719.3" y="177.6" width="9" height="8" fill="#8fdcb8" />
<rect x="719.3" y="239.8" width="9" height="8" fill="#8fdcb8" />
<rect x="719.3" y="296" width="25" height="12" fill="#c3d3d6" />
<rect x="727.3" y="308" width="17" height="4" fill="#a99bc8" />
<path d="M879 104.5V300" stroke="#66c09c" stroke-width="4.2" fill="none"/>
<path d="M880 104.5V118" stroke="#6ccca0" stroke-width="7" fill="none"/>
<rect x="876" y="114.3" width="9" height="8" fill="#8fdcb8" />
<rect x="876" y="177.6" width="9" height="8" fill="#8fdcb8" />
<rect x="876" y="239.8" width="9" height="8" fill="#8fdcb8" />
<rect x="876" y="296" width="25" height="12" fill="#c3d3d6" />
<rect x="884" y="308" width="17" height="4" fill="#a99bc8" />
<path d="M1034.2 104.5V300" stroke="#66c09c" stroke-width="4.2" fill="none"/>
<path d="M1035.2 104.5V118" stroke="#6ccca0" stroke-width="7" fill="none"/>
<rect x="1031.2" y="114.3" width="9" height="8" fill="#8fdcb8" />
<rect x="1031.2" y="177.6" width="9" height="8" fill="#8fdcb8" />
<rect x="1031.2" y="239.8" width="9" height="8" fill="#8fdcb8" />
<rect x="1031.2" y="296" width="25" height="12" fill="#c3d3d6" />
<rect x="1039.2" y="308" width="17" height="4" fill="#a99bc8" />
<path d="M1191 104.5V300" stroke="#66c09c" stroke-width="4.2" fill="none"/>
<path d="M1192 104.5V118" stroke="#6ccca0" stroke-width="7" fill="none"/>
<rect x="1188" y="114.3" width="9" height="8" fill="#8fdcb8" />
<rect x="1188" y="177.6" width="9" height="8" fill="#8fdcb8" />
<rect x="1188" y="239.8" width="9" height="8" fill="#8fdcb8" />
<rect x="1188" y="296" width="25" height="12" fill="#c3d3d6" />
<rect x="1196" y="308" width="17" height="4" fill="#a99bc8" />
<path d="M1343.7 104.5V300" stroke="#66c09c" stroke-width="4.2" fill="none"/>
<path d="M1344.7 104.5V118" stroke="#6ccca0" stroke-width="7" fill="none"/>
<rect x="1340.7" y="114.3" width="9" height="8" fill="#8fdcb8" />
<rect x="1340.7" y="177.6" width="9" height="8" fill="#8fdcb8" />
<rect x="1340.7" y="239.8" width="9" height="8" fill="#8fdcb8" />
<rect x="1340.7" y="296" width="25" height="12" fill="#c3d3d6" />
<rect x="1348.7" y="308" width="17" height="4" fill="#a99bc8" />
<rect x="1483" y="116.3" width="22" height="22" fill="#bdc6d2" />
<path d="M1483 119.3H1510" stroke="#5fbd98" stroke-width="4" fill="none"/>
<rect x="1483" y="179.6" width="22" height="22" fill="#bdc6d2" />
<path d="M1483 182.6H1510" stroke="#5fbd98" stroke-width="4" fill="none"/>
<rect x="1483" y="241.8" width="22" height="22" fill="#bdc6d2" />
<path d="M1483 244.8H1510" stroke="#5fbd98" stroke-width="4" fill="none"/>
<path d="M1502 119.6C1512 119.6 1516 111.1 1530 111.1H1600C1612 111.1 1622 116.6 1636 119.6C1622 122.6 1612 128.1 1600 128.1H1530C1516 128.1 1512 119.6 1502 119.6Z" fill="#a9e4c8" stroke="#5f9f8a" stroke-width="1.6"/>
<rect x="1528" y="106.6" width="72" height="26" fill="#f2809c" opacity="0.55" rx="4"/>
<rect x="1521" y="111.1" width="76" height="16" fill="#ffffea" rx="2"/>
<rect x="1534" y="118.1" width="62" height="3.5" fill="#f4f49a" />
<path d="M1597 123.6H1612V113.6" stroke="#fff" stroke-width="3" fill="none"/>
<path d="M1502 183.3C1512 183.3 1516 174.8 1530 174.8H1600C1612 174.8 1622 180.3 1636 183.3C1622 186.3 1612 191.8 1600 191.8H1530C1516 191.8 1512 183.3 1502 183.3Z" fill="#a9e4c8" stroke="#5f9f8a" stroke-width="1.6"/>
<rect x="1528" y="170.3" width="72" height="26" fill="#f2809c" opacity="0.55" rx="4"/>
<rect x="1521" y="174.8" width="76" height="16" fill="#ffffea" rx="2"/>
<rect x="1534" y="181.8" width="62" height="3.5" fill="#f4f49a" />
<rect x="1596" y="183.8" width="38" height="6.5" fill="#fffff4" />
<path d="M1502 247C1512 247 1516 238.5 1530 238.5H1600C1612 238.5 1622 244 1636 247C1622 250 1612 255.5 1600 255.5H1530C1516 255.5 1512 247 1502 247Z" fill="#a9e4c8" stroke="#5f9f8a" stroke-width="1.6"/>
<rect x="1528" y="234" width="72" height="26" fill="#f2809c" opacity="0.55" rx="4"/>
<rect x="1521" y="238.5" width="76" height="16" fill="#ffffea" rx="2"/>
<rect x="1534" y="245.5" width="62" height="3.5" fill="#f4f49a" />
<rect x="1596" y="247.5" width="38" height="6.5" fill="#fffff4" />
<path d="M1575 294V272H1660M1632 294V283H1660" stroke="#5fbd98" stroke-width="6" fill="none"/>
<path d="M79.4 311h6v5.4h-6zM79.4 319.6h6v5.4h-6zM79.4 328.2h6v5.4h-6zM79.4 336.8h6v5.4h-6zM79.4 345.4h6v5.4h-6zM79.4 354h6v5.4h-6zM79.4 362.6h6v5.4h-6zM79.4 371.2h6v5.4h-6zM79.4 379.8h6v5.4h-6zM79.4 388.4h6v5.4h-6zM79.4 397h6v5.4h-6zM79.4 405.6h6v5.4h-6z" fill="#fff"/>
<path d="M243.3 311h6v5.4h-6zM243.3 319.6h6v5.4h-6zM243.3 328.2h6v5.4h-6zM243.3 336.8h6v5.4h-6zM243.3 345.4h6v5.4h-6z" fill="#fff"/>
<path d="M173 356h6v5.4h-6zM173 364.6h6v5.4h-6zM173 373.2h6v5.4h-6zM173 381.8h6v5.4h-6zM173 390.4h6v5.4h-6zM173 399h6v5.4h-6zM173 407.6h6v5.4h-6z" fill="#fff"/>
<path d="M403.2 311h6v5.4h-6zM403.2 319.6h6v5.4h-6zM403.2 328.2h6v5.4h-6zM403.2 336.8h6v5.4h-6zM403.2 345.4h6v5.4h-6z" fill="#fff"/>
<path d="M266.5 364h6v5.4h-6zM266.5 372.6h6v5.4h-6zM266.5 381.2h6v5.4h-6zM266.5 389.8h6v5.4h-6zM266.5 398.4h6v5.4h-6zM266.5 407h6v5.4h-6z" fill="#fff"/>
<path d="M562 311h6v5.4h-6zM562 319.6h6v5.4h-6zM562 328.2h6v5.4h-6zM562 336.8h6v5.4h-6zM562 345.4h6v5.4h-6z" fill="#fff"/>
<path d="M360 374h6v5.4h-6zM360 382.6h6v5.4h-6zM360 391.2h6v5.4h-6z" fill="#fff"/>
<path d="M720.3 311h6v5.4h-6zM720.3 319.6h6v5.4h-6zM720.3 328.2h6v5.4h-6z" fill="#fff"/>
<path d="M174 350.5H248.3 M267.5 358.5H408.2 M361 368.5H536" stroke="#fffff2" stroke-width="5" fill="none"/>
<path d="M723.3 333V378" stroke="#fffff2" stroke-width="4" fill="none"/>
<path d="M536 368H565V352M363 412V398M456.5 412V376H723.3M550 412V385H883V300M643.5 412V392H1035.2V300M737 412V400H1192V300M830.5 412V408H1200M874 413.5H1342.7V300" stroke="#6cc6a2" stroke-width="6.4" fill="none" stroke-linejoin="round" opacity="0.8"/>
<path d="M536 368H565V352M363 412V398M456.5 412V376H723.3M550 412V385H883V300M643.5 412V392H1035.2V300M737 412V400H1192V300M830.5 412V408H1200M874 413.5H1342.7V300" stroke="#c4ecdc" stroke-width="3" fill="none" stroke-linejoin="round" opacity="0.9"/>
<path d="M462.5 366V385M629.6 373V388M646 373V400M722.7 382V396M740 384V406M817 390V404M833 390V412M551 366V388" stroke="#fff" stroke-width="3.6" fill="none"/>
<path d="M80 415C80 427 74.5 433 74.5 447V495C74.5 507 78 513 78 523H87C87 513 90.5 507 90.5 495V447C90.5 433 85 427 85 415Z" fill="#b2e2cf" stroke="#7aa89c" stroke-width="1.6"/><rect x="80.5" y="415" width="4" height="108" fill="#5fbd98" opacity="0.75"/><rect x="68.5" y="457" width="28" height="38" fill="#f48a94" opacity="0.45" rx="6"/><rect x="75.1" y="458.5" width="14.8" height="34" fill="#ffffea" rx="3"/><rect x="79.5" y="461" width="6" height="30" fill="#f7f780" /><path d="M86 423V460M78 491V505" stroke="#fff" stroke-width="4" fill="none" stroke-linecap="round"/>
<path d="M82.5 523V551" stroke="#74c6a4" stroke-width="7.5" fill="none"/><path d="M82.5 523V551" stroke="#a9ecd0" stroke-width="2.6" fill="none"/><rect x="66" y="549.3" width="33" height="45" fill="#cdd0d0" stroke="#94b2a6" stroke-width="1.5" rx="2"/><rect x="70.2" y="555" width="24.6" height="36.5" fill="#b0883c" rx="1.5"/><rect x="72.5" y="557.5" width="20" height="31.5" fill="#7a4e1e" /><rect x="72.5" y="557.5" width="20" height="9.5" fill="#d7a468" /><circle cx="82.5" cy="563" r="3.8" fill="#fff3e0"/><path d="M78.2 568.6h8.6l4.7 14.8h-18z" fill="#e9df25"/><rect x="72.5" y="583.4" width="20" height="5" fill="#f2b898" />
<path d="M173.5 415C173.5 427 168 433 168 447V495C168 507 171.5 513 171.5 523H180.5C180.5 513 184 507 184 495V447C184 433 178.5 427 178.5 415Z" fill="#b2e2cf" stroke="#7aa89c" stroke-width="1.6"/><rect x="174" y="415" width="4" height="108" fill="#5fbd98" opacity="0.75"/><rect x="162" y="457" width="28" height="38" fill="#f48a94" opacity="0.45" rx="6"/><rect x="168.6" y="458.5" width="14.8" height="34" fill="#ffffea" rx="3"/><rect x="173" y="461" width="6" height="30" fill="#f7f780" /><path d="M179.5 423V460M171.5 491V505" stroke="#fff" stroke-width="4" fill="none" stroke-linecap="round"/>
<path d="M176 523V551" stroke="#74c6a4" stroke-width="7.5" fill="none"/><path d="M176 523V551" stroke="#a9ecd0" stroke-width="2.6" fill="none"/><rect x="159.5" y="549.3" width="33" height="45" fill="#cdd0d0" stroke="#94b2a6" stroke-width="1.5" rx="2"/><rect x="163.7" y="555" width="24.6" height="36.5" fill="#b0883c" rx="1.5"/><rect x="166" y="557.5" width="20" height="31.5" fill="#7a4e1e" /><rect x="166" y="557.5" width="20" height="9.5" fill="#d7a468" /><circle cx="176" cy="563" r="3.8" fill="#fff3e0"/><path d="M171.7 568.6h8.6l4.7 14.8h-18z" fill="#e9df25"/><rect x="166" y="583.4" width="20" height="5" fill="#f2b898" />
<path d="M267 415C267 427 261.5 433 261.5 447V495C261.5 507 265 513 265 523H274C274 513 277.5 507 277.5 495V447C277.5 433 272 427 272 415Z" fill="#b2e2cf" stroke="#7aa89c" stroke-width="1.6"/><rect x="267.5" y="415" width="4" height="108" fill="#5fbd98" opacity="0.75"/><rect x="255.5" y="457" width="28" height="38" fill="#f48a94" opacity="0.45" rx="6"/><rect x="262.1" y="458.5" width="14.8" height="34" fill="#ffffea" rx="3"/><rect x="266.5" y="461" width="6" height="30" fill="#f7f780" /><path d="M273 423V460M265 491V505" stroke="#fff" stroke-width="4" fill="none" stroke-linecap="round"/>
<path d="M269.5 523V551" stroke="#74c6a4" stroke-width="7.5" fill="none"/><path d="M269.5 523V551" stroke="#a9ecd0" stroke-width="2.6" fill="none"/><rect x="253" y="549.3" width="33" height="45" fill="#cdd0d0" stroke="#94b2a6" stroke-width="1.5" rx="2"/><rect x="257.2" y="555" width="24.6" height="36.5" fill="#b0883c" rx="1.5"/><rect x="259.5" y="557.5" width="20" height="31.5" fill="#7a4e1e" /><rect x="259.5" y="557.5" width="20" height="9.5" fill="#d7a468" /><circle cx="269.5" cy="563" r="3.8" fill="#fff3e0"/><path d="M265.2 568.6h8.6l4.7 14.8h-18z" fill="#e9df25"/><rect x="259.5" y="583.4" width="20" height="5" fill="#f2b898" />
<path d="M360.5 415C360.5 427 355 433 355 447V495C355 507 358.5 513 358.5 523H367.5C367.5 513 371 507 371 495V447C371 433 365.5 427 365.5 415Z" fill="#b2e2cf" stroke="#7aa89c" stroke-width="1.6"/><rect x="361" y="415" width="4" height="108" fill="#5fbd98" opacity="0.75"/><rect x="349" y="457" width="28" height="38" fill="#f48a94" opacity="0.45" rx="6"/><rect x="355.6" y="458.5" width="14.8" height="34" fill="#ffffea" rx="3"/><rect x="360" y="461" width="6" height="30" fill="#f7f780" /><path d="M366.5 423V460M358.5 491V505" stroke="#fff" stroke-width="4" fill="none" stroke-linecap="round"/>
<path d="M363 523V551" stroke="#74c6a4" stroke-width="7.5" fill="none"/><path d="M363 523V551" stroke="#a9ecd0" stroke-width="2.6" fill="none"/><rect x="346.5" y="549.3" width="33" height="45" fill="#cdd0d0" stroke="#94b2a6" stroke-width="1.5" rx="2"/><rect x="350.7" y="555" width="24.6" height="36.5" fill="#b0883c" rx="1.5"/><rect x="353" y="557.5" width="20" height="31.5" fill="#7a4e1e" /><rect x="353" y="557.5" width="20" height="9.5" fill="#d7a468" /><circle cx="363" cy="563" r="3.8" fill="#fff3e0"/><path d="M358.7 568.6h8.6l4.7 14.8h-18z" fill="#e9df25"/><rect x="353" y="583.4" width="20" height="5" fill="#f2b898" />
<path d="M454 415C454 427 448.5 433 448.5 447V495C448.5 507 452 513 452 523H461C461 513 464.5 507 464.5 495V447C464.5 433 459 427 459 415Z" fill="#b2e2cf" stroke="#7aa89c" stroke-width="1.6"/><rect x="454.5" y="415" width="4" height="108" fill="#5fbd98" opacity="0.75"/><rect x="442.5" y="457" width="28" height="38" fill="#f48a94" opacity="0.45" rx="6"/><rect x="449.1" y="458.5" width="14.8" height="34" fill="#ffffea" rx="3"/><rect x="453.5" y="461" width="6" height="30" fill="#f7f780" /><path d="M460 423V460M452 491V505" stroke="#fff" stroke-width="4" fill="none" stroke-linecap="round"/>
<path d="M456.5 523V551" stroke="#74c6a4" stroke-width="7.5" fill="none"/><path d="M456.5 523V551" stroke="#a9ecd0" stroke-width="2.6" fill="none"/><rect x="440" y="549.3" width="33" height="45" fill="#cdd0d0" stroke="#94b2a6" stroke-width="1.5" rx="2"/><rect x="444.2" y="555" width="24.6" height="36.5" fill="#b0883c" rx="1.5"/><rect x="446.5" y="557.5" width="20" height="31.5" fill="#7a4e1e" /><rect x="446.5" y="557.5" width="20" height="9.5" fill="#d7a468" /><circle cx="456.5" cy="563" r="3.8" fill="#fff3e0"/><path d="M452.2 568.6h8.6l4.7 14.8h-18z" fill="#e9df25"/><rect x="446.5" y="583.4" width="20" height="5" fill="#f2b898" />
<path d="M547.5 415C547.5 427 542 433 542 447V495C542 507 545.5 513 545.5 523H554.5C554.5 513 558 507 558 495V447C558 433 552.5 427 552.5 415Z" fill="#b2e2cf" stroke="#7aa89c" stroke-width="1.6"/><rect x="548" y="415" width="4" height="108" fill="#5fbd98" opacity="0.75"/><rect x="536" y="457" width="28" height="38" fill="#f48a94" opacity="0.45" rx="6"/><rect x="542.6" y="458.5" width="14.8" height="34" fill="#ffffea" rx="3"/><rect x="547" y="461" width="6" height="30" fill="#f7f780" /><path d="M553.5 423V460M545.5 491V505" stroke="#fff" stroke-width="4" fill="none" stroke-linecap="round"/>
<path d="M550 523V551" stroke="#74c6a4" stroke-width="7.5" fill="none"/><path d="M550 523V551" stroke="#a9ecd0" stroke-width="2.6" fill="none"/><rect x="533.5" y="549.3" width="33" height="45" fill="#cdd0d0" stroke="#94b2a6" stroke-width="1.5" rx="2"/><rect x="537.7" y="555" width="24.6" height="36.5" fill="#b0883c" rx="1.5"/><rect x="540" y="557.5" width="20" height="31.5" fill="#7a4e1e" /><rect x="540" y="557.5" width="20" height="9.5" fill="#d7a468" /><circle cx="550" cy="563" r="3.8" fill="#fff3e0"/><path d="M545.7 568.6h8.6l4.7 14.8h-18z" fill="#e9df25"/><rect x="540" y="583.4" width="20" height="5" fill="#f2b898" />
<path d="M641 415C641 427 635.5 433 635.5 447V495C635.5 507 639 513 639 523H648C648 513 651.5 507 651.5 495V447C651.5 433 646 427 646 415Z" fill="#b2e2cf" stroke="#7aa89c" stroke-width="1.6"/><rect x="641.5" y="415" width="4" height="108" fill="#5fbd98" opacity="0.75"/><rect x="629.5" y="457" width="28" height="38" fill="#f48a94" opacity="0.45" rx="6"/><rect x="636.1" y="458.5" width="14.8" height="34" fill="#ffffea" rx="3"/><rect x="640.5" y="461" width="6" height="30" fill="#f7f780" /><path d="M647 423V460M639 491V505" stroke="#fff" stroke-width="4" fill="none" stroke-linecap="round"/>
<path d="M643.5 523V551" stroke="#74c6a4" stroke-width="7.5" fill="none"/><path d="M643.5 523V551" stroke="#a9ecd0" stroke-width="2.6" fill="none"/><rect x="627" y="549.3" width="33" height="45" fill="#cdd0d0" stroke="#94b2a6" stroke-width="1.5" rx="2"/><rect x="631.2" y="555" width="24.6" height="36.5" fill="#b0883c" rx="1.5"/><rect x="633.5" y="557.5" width="20" height="31.5" fill="#7a4e1e" /><rect x="633.5" y="557.5" width="20" height="9.5" fill="#d7a468" /><circle cx="643.5" cy="563" r="3.8" fill="#fff3e0"/><path d="M639.2 568.6h8.6l4.7 14.8h-18z" fill="#e9df25"/><rect x="633.5" y="583.4" width="20" height="5" fill="#f2b898" />
<path d="M734.5 415C734.5 427 729 433 729 447V495C729 507 732.5 513 732.5 523H741.5C741.5 513 745 507 745 495V447C745 433 739.5 427 739.5 415Z" fill="#b2e2cf" stroke="#7aa89c" stroke-width="1.6"/><rect x="735" y="415" width="4" height="108" fill="#5fbd98" opacity="0.75"/><rect x="723" y="457" width="28" height="38" fill="#f48a94" opacity="0.45" rx="6"/><rect x="729.6" y="458.5" width="14.8" height="34" fill="#ffffea" rx="3"/><rect x="734" y="461" width="6" height="30" fill="#f7f780" /><path d="M740.5 423V460M732.5 491V505" stroke="#fff" stroke-width="4" fill="none" stroke-linecap="round"/>
<path d="M737 523V551" stroke="#74c6a4" stroke-width="7.5" fill="none"/><path d="M737 523V551" stroke="#a9ecd0" stroke-width="2.6" fill="none"/><rect x="720.5" y="549.3" width="33" height="45" fill="#cdd0d0" stroke="#94b2a6" stroke-width="1.5" rx="2"/><rect x="724.7" y="555" width="24.6" height="36.5" fill="#b0883c" rx="1.5"/><rect x="727" y="557.5" width="20" height="31.5" fill="#7a4e1e" /><rect x="727" y="557.5" width="20" height="9.5" fill="#d7a468" /><circle cx="737" cy="563" r="3.8" fill="#fff3e0"/><path d="M732.7 568.6h8.6l4.7 14.8h-18z" fill="#e9df25"/><rect x="727" y="583.4" width="20" height="5" fill="#f2b898" />
<path d="M828 415C828 427 822.5 433 822.5 447V495C822.5 507 826 513 826 523H835C835 513 838.5 507 838.5 495V447C838.5 433 833 427 833 415Z" fill="#b2e2cf" stroke="#7aa89c" stroke-width="1.6"/><rect x="828.5" y="415" width="4" height="108" fill="#5fbd98" opacity="0.75"/><rect x="816.5" y="457" width="28" height="38" fill="#f48a94" opacity="0.45" rx="6"/><rect x="823.1" y="458.5" width="14.8" height="34" fill="#ffffea" rx="3"/><rect x="827.5" y="461" width="6" height="30" fill="#f7f780" /><path d="M834 423V460M826 491V505" stroke="#fff" stroke-width="4" fill="none" stroke-linecap="round"/>
<path d="M830.5 523V551" stroke="#74c6a4" stroke-width="7.5" fill="none"/><path d="M830.5 523V551" stroke="#a9ecd0" stroke-width="2.6" fill="none"/><rect x="814" y="549.3" width="33" height="45" fill="#cdd0d0" stroke="#94b2a6" stroke-width="1.5" rx="2"/><rect x="818.2" y="555" width="24.6" height="36.5" fill="#b0883c" rx="1.5"/><rect x="820.5" y="557.5" width="20" height="31.5" fill="#7a4e1e" /><rect x="820.5" y="557.5" width="20" height="9.5" fill="#d7a468" /><circle cx="830.5" cy="563" r="3.8" fill="#fff3e0"/><path d="M826.2 568.6h8.6l4.7 14.8h-18z" fill="#e9df25"/><rect x="820.5" y="583.4" width="20" height="5" fill="#f2b898" />
</g></g>
<rect x="882" y="327.5" width="484" height="78" fill="#fff" fill-opacity="0.7"/>
<rect x="63.7" y="97.5" width="1417.6" height="196.5" fill="none" stroke="#000" stroke-width="5"/><rect x="1500.8" y="81.6" width="135.9" height="195.9" fill="none" stroke="#000" stroke-width="5"/><rect x="63.7" y="414.3" width="802.1" height="109.4" fill="none" stroke="#000" stroke-width="5"/><rect x="63.7" y="529" width="802.1" height="78.6" fill="none" stroke="#000" stroke-width="5"/>
<text x="1.2" y="36.6" font-size="45" font-weight="bold" font-family="DejaVu Sans, Liberation Sans, sans-serif" textLength="40.7" lengthAdjust="spacingAndGlyphs">a)</text>
<text x="67.3" y="36" font-size="45.5" text-anchor="start" font-family="Liberation Serif, Times New Roman, serif" >Photonic Tensor Core</text>
<text x="903.7" y="384" font-size="45.5" font-family="Liberation Serif, Times New Roman, serif">EAM Weight Matrix, <tspan font-weight="bold">W</tspan></text>
<text x="903.7" y="483" font-size="45.5" font-family="Liberation Serif, Times New Roman, serif">EAM Input Modulation, <tspan font-weight="bold">x</tspan></text>
<text x="903.7" y="583" font-size="45.5" text-anchor="start" font-family="Liberation Serif, Times New Roman, serif" >Grating Coupler array</text>
<text x="1515" y="361" font-size="45.5" text-anchor="middle" font-family="Liberation Serif, Times New Roman, serif" >Photodiodes</text>
<text x="1515" y="416" font-size="45.5" text-anchor="middle" font-family="Liberation Serif, Times New Roman, serif">y = <tspan font-weight="bold">Wx</tspan></text>
</g>
<g id="panel-b">
<defs><pattern id="weave" x="1696" y="96" width="37.3" height="43.4" patternUnits="userSpaceOnUse"><rect width="37.3" height="43.4" fill="#6aaddc"/><rect x="-4.7" y="22.6" width="28" height="3.4" fill="#c3cbe8" opacity="0.85"/><rect x="-8.3" y="1" width="2.6" height="17" fill="#9fc3e8"/><rect x="24.3" y="1" width="2.6" height="17" fill="#9fc3e8"/><rect x="-4.9" y="0" width="2.4" height="18" fill="#5fb0bf"/><rect x="21.1" y="0" width="2.4" height="18" fill="#5fb0bf"/><path d="M0.8 0V12Q0.8 16 4.8 16H13.8Q17.8 16 17.8 12V0" fill="none" stroke="#8abbe6" stroke-width="3.2"/><rect x="6.9" y="-3" width="4.8" height="14" fill="#4d9fc4"/><circle cx="9.3" cy="10.5" r="3.3" fill="#3389cc"/><rect x="-0.7" y="18" width="20" height="3.9" fill="#2f9aee"/><rect x="32.6" y="22.6" width="28" height="3.4" fill="#c3cbe8" opacity="0.85"/><rect x="29" y="1" width="2.6" height="17" fill="#9fc3e8"/><rect x="61.6" y="1" width="2.6" height="17" fill="#9fc3e8"/><rect x="32.4" y="0" width="2.4" height="18" fill="#5fb0bf"/><rect x="58.4" y="0" width="2.4" height="18" fill="#5fb0bf"/><path d="M38.1 0V12Q38.1 16 42.1 16H51.1Q55.1 16 55.1 12V0" fill="none" stroke="#8abbe6" stroke-width="3.2"/><rect x="44.2" y="-3" width="4.8" height="14" fill="#4d9fc4"/><circle cx="46.6" cy="10.5" r="3.3" fill="#3389cc"/><rect x="36.6" y="18" width="20" height="3.9" fill="#2f9aee"/><rect x="13.9" y="44.3" width="28" height="3.4" fill="#c3cbe8" opacity="0.85"/><rect x="10.3" y="22.7" width="2.6" height="17" fill="#9fc3e8"/><rect x="43" y="22.7" width="2.6" height="17" fill="#9fc3e8"/><rect x="13.8" y="21.7" width="2.4" height="18" fill="#5fb0bf"/><rect x="39.8" y="21.7" width="2.4" height="18" fill="#5fb0bf"/><path d="M19.4 21.7V33.7Q19.4 37.7 23.4 37.7H32.5Q36.5 37.7 36.5 33.7V21.7" fill="none" stroke="#8abbe6" stroke-width="3.2"/><rect x="25.6" y="18.7" width="4.8" height="14" fill="#4d9fc4"/><circle cx="27.9" cy="32.2" r="3.3" fill="#3389cc"/><rect x="17.9" y="39.7" width="20" height="3.9" fill="#2f9aee"/><rect x="-23.3" y="44.3" width="28" height="3.4" fill="#c3cbe8" opacity="0.85"/><rect x="-26.9" y="22.7" width="2.6" height="17" fill="#9fc3e8"/><rect x="5.7" y="22.7" width="2.6" height="17" fill="#9fc3e8"/><rect x="-23.5" y="21.7" width="2.4" height="18" fill="#5fb0bf"/><rect x="2.5" y="21.7" width="2.4" height="18" fill="#5fb0bf"/><path d="M-17.8 21.7V33.7Q-17.8 37.7 -13.8 37.7H-4.8Q-0.8 37.7 -0.8 33.7V21.7" fill="none" stroke="#8abbe6" stroke-width="3.2"/><rect x="-11.7" y="18.7" width="4.8" height="14" fill="#4d9fc4"/><circle cx="-9.3" cy="32.2" r="3.3" fill="#3389cc"/><rect x="-19.3" y="39.7" width="20" height="3.9" fill="#2f9aee"/><rect x="-4.7" y="66" width="28" height="3.4" fill="#c3cbe8" opacity="0.85"/><rect x="-8.3" y="44.4" width="2.6" height="17" fill="#9fc3e8"/><rect x="24.3" y="44.4" width="2.6" height="17" fill="#9fc3e8"/><rect x="-4.9" y="43.4" width="2.4" height="18" fill="#5fb0bf"/><rect x="21.1" y="43.4" width="2.4" height="18" fill="#5fb0bf"/><path d="M0.8 43.4V55.4Q0.8 59.4 4.8 59.4H13.8Q17.8 59.4 17.8 55.4V43.4" fill="none" stroke="#8abbe6" stroke-width="3.2"/><rect x="6.9" y="40.4" width="4.8" height="14" fill="#4d9fc4"/><circle cx="9.3" cy="53.9" r="3.3" fill="#3389cc"/><rect x="-0.7" y="61.4" width="20" height="3.9" fill="#2f9aee"/><rect x="32.6" y="66" width="28" height="3.4" fill="#c3cbe8" opacity="0.85"/><rect x="29" y="44.4" width="2.6" height="17" fill="#9fc3e8"/><rect x="61.6" y="44.4" width="2.6" height="17" fill="#9fc3e8"/><rect x="32.4" y="43.4" width="2.4" height="18" fill="#5fb0bf"/><rect x="58.4" y="43.4" width="2.4" height="18" fill="#5fb0bf"/><path d="M38.1 43.4V55.4Q38.1 59.4 42.1 59.4H51.1Q55.1 59.4 55.1 55.4V43.4" fill="none" stroke="#8abbe6" stroke-width="3.2"/><rect x="44.2" y="40.4" width="4.8" height="14" fill="#4d9fc4"/><circle cx="46.6" cy="53.9" r="3.3" fill="#3389cc"/><rect x="36.6" y="61.4" width="20" height="3.9" fill="#2f9aee"/><rect x="13.9" y="0.9" width="28" height="3.4" fill="#c3cbe8" opacity="0.85"/><rect x="10.3" y="-20.7" width="2.6" height="17" fill="#9fc3e8"/><rect x="43" y="-20.7" width="2.6" height="17" fill="#9fc3e8"/><rect x="13.8" y="-21.7" width="2.4" height="18" fill="#5fb0bf"/><rect x="39.8" y="-21.7" width="2.4" height="18" fill="#5fb0bf"/><path d="M19.4 -21.7V-9.7Q19.4 -5.7 23.4 -5.7H32.5Q36.5 -5.7 36.5 -9.7V-21.7" fill="none" stroke="#8abbe6" stroke-width="3.2"/><rect x="25.6" y="-24.7" width="4.8" height="14" fill="#4d9fc4"/><circle cx="27.9" cy="-11.2" r="3.3" fill="#3389cc"/><rect x="17.9" y="-3.7" width="20" height="3.9" fill="#2f9aee"/><rect x="51.2" y="44.3" width="28" height="3.4" fill="#c3cbe8" opacity="0.85"/><rect x="47.6" y="22.7" width="2.6" height="17" fill="#9fc3e8"/><rect x="80.2" y="22.7" width="2.6" height="17" fill="#9fc3e8"/><rect x="51" y="21.7" width="2.4" height="18" fill="#5fb0bf"/><rect x="77" y="21.7" width="2.4" height="18" fill="#5fb0bf"/><path d="M56.8 21.7V33.7Q56.8 37.7 60.8 37.7H69.8Q73.8 37.7 73.8 33.7V21.7" fill="none" stroke="#8abbe6" stroke-width="3.2"/><rect x="62.9" y="18.7" width="4.8" height="14" fill="#4d9fc4"/><circle cx="65.2" cy="32.2" r="3.3" fill="#3389cc"/><rect x="55.2" y="39.7" width="20" height="3.9" fill="#2f9aee"/></pattern>
<pattern id="wdots" x="1700" y="110" width="17" height="24" patternUnits="userSpaceOnUse"><rect width="17" height="24" fill="#fdfeff"/><rect x="3" y="4" width="3" height="5" fill="#cfe4f6"/><rect x="11.5" y="16" width="3" height="5" fill="#cfe4f6"/></pattern>
<clipPath id="clipB"><rect x="1693" y="102" width="284" height="533.3"/></clipPath>
<linearGradient id="ringg" x1="0" y1="0.6" x2="1" y2="0.3"><stop offset="0" stop-color="#f4faf4"/><stop offset="0.45" stop-color="#e6eef2"/><stop offset="0.8" stop-color="#b8c6e2"/><stop offset="1" stop-color="#9fb6de"/></linearGradient>
<filter id="blurB" x="-5%" y="-5%" width="110%" height="110%"><feGaussianBlur stdDeviation="1.1"/></filter>
<filter id="blurB2" x="-5%" y="-5%" width="110%" height="110%"><feGaussianBlur stdDeviation="1.6"/></filter></defs>
<g clip-path="url(#clipB)">
<g filter="url(#blurB)">
<rect x="1683" y="92" width="304" height="553.3" fill="url(#weave)"/>
</g>
<g filter="url(#blurB2)">
<path d="M1875.5 92C1875.5 180 1874 250 1877.5 300C1880 340 1880 380 1877.5 410C1873 470 1874 560 1874 645" stroke="#79b4e4" stroke-width="40" fill="none"/>
<path d="M1858.5 92C1858.5 180 1857 250 1860.5 300C1863 340 1863 380 1860.5 410C1856 470 1857 560 1857 645" stroke="#4f9fe0" stroke-width="3" fill="none"/>
<path d="M1863 92C1863 180 1861.5 250 1865 300C1867.5 340 1867.5 380 1865 410C1860.5 470 1861.5 560 1861.5 645" stroke="#a8cdea" stroke-width="3.5" fill="none"/>
<path d="M1867.5 92C1867.5 180 1866 250 1869.5 300C1872 340 1872 380 1869.5 410C1865 470 1866 560 1866 645" stroke="#5a9ede" stroke-width="3" fill="none"/>
<path d="M1872 92C1872 180 1870.5 250 1874 300C1876.5 340 1876.5 380 1874 410C1869.5 470 1870.5 560 1870.5 645" stroke="#b5cfec" stroke-width="4" fill="none"/>
<path d="M1877 92C1877 180 1875.5 250 1879 300C1881.5 340 1881.5 380 1879 410C1874.5 470 1875.5 560 1875.5 645" stroke="#6a8fdc" stroke-width="4" fill="none"/>
<path d="M1882 92C1882 180 1880.5 250 1884 300C1886.5 340 1886.5 380 1884 410C1879.5 470 1880.5 560 1880.5 645" stroke="#a9c9ec" stroke-width="3.5" fill="none"/>
<path d="M1886.5 92C1886.5 180 1885 250 1888.5 300C1891 340 1891 380 1888.5 410C1884 470 1885 560 1885 645" stroke="#4f9fe0" stroke-width="3.2" fill="none"/>
<path d="M1891 92C1891 180 1889.5 250 1893 300C1895.5 340 1895.5 380 1893 410C1888.5 470 1889.5 560 1889.5 645" stroke="#9cc4ea" stroke-width="3" fill="none"/>
<path d="M1894.5 92C1894.5 180 1893 250 1896.5 300C1899 340 1899 380 1896.5 410C1892 470 1893 560 1893 645" stroke="#58a2de" stroke-width="2.5" fill="none"/>
<ellipse cx="1804" cy="355" rx="65.5" ry="78.5" fill="none" stroke="#7db5e4" stroke-width="46"/>
<ellipse cx="1804" cy="355" rx="86.5" ry="103.3" fill="none" stroke="#5aa6e2" stroke-width="5"/>
<ellipse cx="1804" cy="355" rx="81.5" ry="97.3" fill="none" stroke="#8dbbe6" stroke-width="3"/>
<ellipse cx="1804" cy="355" rx="77.5" ry="92.5" fill="none" stroke="#4f9fe0" stroke-width="3.5"/>
<ellipse cx="1804" cy="355" rx="73.5" ry="87.7" fill="none" stroke="#9cc3e8" stroke-width="3"/>
<ellipse cx="1804" cy="355" rx="69.5" ry="82.9" fill="none" stroke="#5fa5dd" stroke-width="3.5"/>
<ellipse cx="1804" cy="355" rx="62.5" ry="74.5" fill="none" stroke="url(#ringg)" stroke-width="8.5"/>
<ellipse cx="1804" cy="355" rx="57" ry="67.9" fill="none" stroke="#cdbfe0" stroke-width="4.5"/>
<ellipse cx="1804" cy="355" rx="53" ry="63.1" fill="none" stroke="#7fb6e0" stroke-width="4"/>
<ellipse cx="1804" cy="355" rx="49" ry="58.3" fill="none" stroke="#4a9de2" stroke-width="4"/>
<ellipse cx="1804" cy="355" rx="45.5" ry="54.1" fill="none" stroke="#9dc4e8" stroke-width="2.5"/>
</g>
<g filter="url(#blurB)">
<path d="M1934 96H1990V250C1960 252 1925 262 1903 276C1888 287 1876 300 1858 300C1866 290 1878 272 1887 249C1895 228 1903 200 1912 168C1920 140 1927 118 1934 96Z" fill="url(#wdots)" stroke="#f4fbe8" stroke-width="3"/>
<path d="M1861 405C1876 408 1886 420 1899 431C1918 445 1950 452 1990 454V650H1962C1948 620 1936 596 1926 574C1915 550 1910 530 1904 512C1896 490 1890 470 1884 452C1878 436 1870 420 1861 405Z" fill="url(#wdots)" stroke="#f4fbe8" stroke-width="3"/>
</g>
</g>
<text x="1646.7" y="35" font-size="44" font-family="DejaVu Sans, Liberation Sans, sans-serif">b)</text>
<text x="1714.2" y="35.6" font-size="45.5" font-family="Liberation Serif, Times New Roman, serif">Si<tspan font-size="27.5" dy="9.5">3</tspan><tspan dy="-9.5">N</tspan><tspan font-size="27.5" dy="9.5">4</tspan><tspan dy="-9.5"> comb</tspan></text>
<text x="1713.7" y="90.3" font-size="45.5" text-anchor="start" font-family="Liberation Serif, Times New Roman, serif" >generator</text>
</g>
<g id="panel-c">
<clipPath id="clipC"><rect x="143.3" y="685.5" width="825" height="456"/></clipPath>
<path d="M293.3 685.5V1141.5M443.3 685.5V1141.5M593.3 685.5V1141.5M743.3 685.5V1141.5M893.3 685.5V1141.5M143.3 722.7H968.3M143.3 815.8H968.3M143.3 908.9H968.3M143.3 1002H968.3M143.3 1095.1H968.3" stroke="#b0b0b0" stroke-opacity="0.5" stroke-width="2.4" fill="none"/>
<path d="M143.3 722.7h10M143.3 815.8h10M143.3 908.9h10M143.3 1002h10M143.3 1095.1h10" stroke="#000" stroke-width="5" fill="none"/>
<path d="M143.3 1141.5v-16M293.3 1141.5v-16M443.3 1141.5v-16M593.3 1141.5v-16M743.3 1141.5v-16M893.3 1141.5v-16" stroke="#000" stroke-width="3.8" fill="none"/>
<polyline clip-path="url(#clipC)" points="143.3,1087.7 143.8,1067.3 144.3,1070.1 144.8,1100.2 145.2,1111.3 145.7,1067.8 146.2,1147.5 146.7,1067.7 147.2,1069.1 147.7,1144.2 148.2,1075.6 148.6,1102.1 149.1,1072.9 149.6,1071 150.1,1081.2 150.6,1078.5 151.1,1072.6 151.6,1126.6 152,1079.2 152.5,1027.5 153,1020.6 153.5,1017.3 154,1020 154.5,1046.1 155,1107.5 155.4,1062.5 155.9,1147.5 156.4,1072 156.9,1065.6 157.4,1071.1 157.9,1086.1 158.4,1140.1 158.8,1065.8 159.3,1068.5 159.8,1064.5 160.3,1064.2 160.8,1093.8 161.3,1082.8 161.8,1147.4 162.2,1147.5 162.7,1066.6 163.2,1116.6 163.7,1101.3 164.2,1064.6 164.7,1136.6 165.2,1078.1 165.6,1066.4 166.1,1065 166.6,1068.5 167.1,1079.8 167.6,1147.5 168.1,1073 168.6,1147.5 169,1070.8 169.5,1068.8 170,1065 170.5,1100.4 171,1075 171.5,1065.3 171.9,1068.7 172.4,1126 172.9,1081.6 173.4,1147.5 173.9,1115.5 174.4,1093.3 174.9,1143.1 175.3,1104 175.8,1085.1 176.3,1142.5 176.8,1126.9 177.3,1087.2 177.8,1069.7 178.3,1071.6 178.7,1068.5 179.2,1081.5 179.7,1077.5 180.2,1139.5 180.7,1072.9 181.2,1073.3 181.7,1089.9 182.1,1072.9 182.6,1088.7 183.1,1098.2 183.6,1089 184.1,1078.1 184.6,1072.9 185.1,1147.5 185.5,1110.9 186,1075.4 186.5,1090 187,1070.6 187.5,1066.8 188,1081.3 188.5,1147.5 188.9,1132.7 189.4,1128.6 189.9,1132.3 190.4,1080.9 190.9,1078.8 191.4,1069.4 191.9,1075.5 192.3,1064.3 192.8,1147.5 193.3,1072.3 193.8,1074.7 194.3,1063.8 194.8,1147.5 195.3,1088.2 195.7,1147.5 196.2,1063.8 196.7,1090.2 197.2,1147.5 197.7,1091.7 198.2,1113.9 198.7,1119.3 199.1,1071.4 199.6,1070.4 200.1,1064.5 200.6,1072.7 201.1,1065.3 201.6,1084.5 202.1,1066.3 202.5,1098.7 203,1088.5 203.5,1078.9 204,1116.2 204.5,1069 205,1086.9 205.5,1147.5 205.9,1096 206.4,1068.7 206.9,1114.3 207.4,1049.7 207.9,1019.2 208.4,990.5 208.9,979.3 209.3,981.8 209.8,999 210.3,1044.1 210.8,1053.1 211.3,1081.6 211.8,1075.3 212.3,1067.5 212.7,1064.6 213.2,1103.1 213.7,1147.5 214.2,1070.2 214.7,1066.8 215.2,1147.5 215.7,1125.9 216.1,1076.2 216.6,1072.5 217.1,1140.2 217.6,1075.3 218.1,1128.8 218.6,1147.5 219.1,1070.3 219.5,1068 220,1147.5 220.5,1147.5 221,1147.5 221.5,1114.7 222,1064.9 222.4,1073 222.9,1072.4 223.4,1147.5 223.9,1084.7 224.4,1144.4 224.9,1064.3 225.4,1076.1 225.8,1068.5 226.3,1076 226.8,1068.5 227.3,1070.1 227.8,1072.2 228.3,1147.5 228.8,1067.1 229.2,1065.9 229.7,1079.2 230.2,1065.2 230.7,1080.8 231.2,1083.8 231.7,1065.1 232.2,1066 232.6,1064.7 233.1,1147.5 233.6,1082.4 234.1,1106.5 234.6,1084 235.1,1078.7 235.6,1073 236,1063.9 236.5,1086.7 237,1086.8 237.5,1147.5 238,1147.5 238.5,1138.1 239,1084.5 239.4,1065.5 239.9,1068.3 240.4,1085.4 240.9,1108.8 241.4,1122.9 241.9,1068.5 242.4,1079.4 242.8,1082.4 243.3,1076.1 243.8,1081.2 244.3,1064.7 244.8,1078.9 245.3,1065.7 245.8,1147.5 246.2,1084.4 246.7,1087.2 247.2,1090.4 247.7,1052.9 248.2,1067.9 248.7,1068.1 249.2,1125.8 249.6,1147.5 250.1,1068.9 250.6,1147.5 251.1,1072.9 251.6,1067.5 252.1,1068 252.6,1131.8 253,1095.8 253.5,1127.8 254,1072.7 254.5,1105.4 255,1071.9 255.5,1078.3 256,1147.5 256.4,1144.4 256.9,1100.8 257.4,1072.2 257.9,1058.6 258.4,1053.8 258.9,1147.5 259.4,1065.1 259.8,1080.4 260.3,1078.5 260.8,1088.5 261.3,1064.4 261.8,1075.2 262.3,1072.3 262.8,1071.4 263.2,1064.4 263.7,1052.1 264.2,1008.2 264.7,972.3 265.2,942.9 265.7,931.7 266.2,939.9 266.6,965.3 267.1,1004.2 267.6,1042.3 268.1,1064.1 268.6,1117.1 269.1,1147.1 269.6,1063.8 270,1079 270.5,1086.2 271,1068.6 271.5,1065.1 272,1063.4 272.5,1076.9 272.9,1080.1 273.4,1071.6 273.9,1078.9 274.4,1079 274.9,1147.5 275.4,1073.9 275.9,1147.5 276.3,1078.5 276.8,1069.4 277.3,1096.8 277.8,1070.1 278.3,1124.8 278.8,1086.2 279.3,1066.6 279.7,1147.5 280.2,1132.3 280.7,1147.5 281.2,1064.5 281.7,1092.5 282.2,1147.5 282.7,1104.9 283.1,1130.4 283.6,1147.5 284.1,1065.5 284.6,1085.4 285.1,1132.8 285.6,1073.2 286.1,1065.5 286.5,1147.5 287,1099.6 287.5,1085.2 288,1079.1 288.5,1147.5 289,1096.6 289.5,1063.9 289.9,1067 290.4,1066.6 290.9,1083.8 291.4,1075.1 291.9,1075.7 292.4,1066.2 292.9,1115 293.3,1147.5 293.8,1147.5 294.3,1067.3 294.8,1066.3 295.3,1088.5 295.8,1073.5 296.3,1142.4 296.7,1147.5 297.2,1108.4 297.7,1067.3 298.2,1085.1 298.7,1083.7 299.2,1128.1 299.7,1064.8 300.1,1123.3 300.6,1114.6 301.1,1065.2 301.6,1075.8 302.1,1067.3 302.6,1147.5 303.1,1067.1 303.5,1097.4 304,1147.5 304.5,1101.5 305,1147.5 305.5,1121 306,1085.4 306.5,1065.1 306.9,1147.5 307.4,1147.5 307.9,1079.7 308.4,1079.1 308.9,1122.4 309.4,1080.8 309.9,1135.7 310.3,1084.4 310.8,1084.4 311.3,1133.4 311.8,1065.7 312.3,1102.8 312.8,1147.5 313.3,1078.1 313.7,1062.7 314.2,1079 314.7,1104.3 315.2,1076.9 315.7,1107.5 316.2,1080.1 316.7,1080.6 317.1,1067.4 317.6,1067.4 318.1,1099.6 318.6,1129.4 319.1,1127.2 319.6,1076.4 320.1,1041.5 320.5,999.6 321,943.8 321.5,906.3 322,887.8 322.5,887.2 323,905 323.5,940.5 323.9,996.2 324.4,1041.9 324.9,1058.4 325.4,1101.9 325.9,1137.9 326.4,1070.9 326.8,1086.1 327.3,1067.4 327.8,1077.4 328.3,1075.2 328.8,1147.5 329.3,1078.7 329.8,1055.5 330.2,1083.3 330.7,1129.6 331.2,1066 331.7,1067 332.2,1074.4 332.7,1083.3 333.2,1066.5 333.6,1068.1 334.1,1071 334.6,1063.8 335.1,1147.5 335.6,1080.6 336.1,1066.1 336.6,1135.9 337,1069.2 337.5,1078.3 338,1097.4 338.5,1147.5 339,1071.6 339.5,1066.7 340,1136.7 340.4,1133.2 340.9,1135.1 341.4,1070.2 341.9,1069.8 342.4,1073.6 342.9,1145.5 343.4,1078 343.8,1065.8 344.3,1130.9 344.8,1087 345.3,1063.4 345.8,1109.5 346.3,1143.3 346.8,1147.5 347.2,1147.5 347.7,1127.6 348.2,1147.5 348.7,1071 349.2,1065.8 349.7,1068.6 350.2,1080.1 350.6,1071.9 351.1,1147.5 351.6,1093.7 352.1,1078.1 352.6,1075.2 353.1,1091 353.6,1090.6 354,1072.6 354.5,1147.5 355,1069.5 355.5,1123.1 356,1125.7 356.5,1087.2 357,1130.3 357.4,1065.9 357.9,1066.1 358.4,1120.7 358.9,1130.5 359.4,1077 359.9,1111.8 360.4,1067.6 360.8,1062.4 361.3,1065.1 361.8,1062.6 362.3,1121.4 362.8,1113.9 363.3,1067 363.8,1091.7 364.2,1072.1 364.7,1083.8 365.2,1062.5 365.7,1096.8 366.2,1082.9 366.7,1066.3 367.2,1140.1 367.6,1098.2 368.1,1068.7 368.6,1077.6 369.1,1071.1 369.6,1067.1 370.1,1091.3 370.6,1103.6 371,1130.6 371.5,1062.2 372,1131.7 372.5,1061.9 373,1071.3 373.5,1066.4 374,1076.7 374.4,1054.5 374.9,1096.6 375.4,1062 375.9,1039.3 376.4,1034.7 376.9,979.3 377.3,915 377.8,869.5 378.3,842.3 378.8,833.4 379.3,842.8 379.8,870.5 380.3,916.6 380.7,977.1 381.2,1030.6 381.7,1054.6 382.2,1061.4 382.7,1053.9 383.2,1054.8 383.7,1056.9 384.1,1065.2 384.6,1067.1 385.1,1059 385.6,1060.2 386.1,1073 386.6,1065.2 387.1,1141.1 387.5,1121.1 388,1060.8 388.5,1073.5 389,1147.5 389.5,1075.6 390,1086.2 390.5,1147.5 390.9,1063.6 391.4,1147.5 391.9,1116.9 392.4,1070.1 392.9,1091.5 393.4,1073.9 393.9,1065.7 394.3,1074.4 394.8,1065.2 395.3,1076.1 395.8,1068.8 396.3,1068.2 396.8,1069.6 397.3,1062 397.7,1129.1 398.2,1092.4 398.7,1080.9 399.2,1114 399.7,1067.3 400.2,1071.4 400.7,1071.3 401.1,1069.4 401.6,1065.5 402.1,1091.3 402.6,1064 403.1,1069.8 403.6,1070.4 404.1,1076.5 404.5,1064.4 405,1080.7 405.5,1074.8 406,1115.5 406.5,1075.9 407,1064.8 407.5,1147.5 407.9,1063 408.4,1147.5 408.9,1126.3 409.4,1077.9 409.9,1066.4 410.4,1147.5 410.9,1069.2 411.3,1067.7 411.8,1114.6 412.3,1147.5 412.8,1135.5 413.3,1063.5 413.8,1085.3 414.3,1078.1 414.7,1074.5 415.2,1069.5 415.7,1062.3 416.2,1091.1 416.7,1064.5 417.2,1147.5 417.7,1147.5 418.1,1089.2 418.6,1067.1 419.1,1131.3 419.6,1061.5 420.1,1070.6 420.6,1088.8 421.1,1121.4 421.5,1074.6 422,1062.4 422.5,1066.9 423,1085.3 423.5,1129.5 424,1071.7 424.5,1112.1 424.9,1066.7 425.4,1060 425.9,1122.6 426.4,1096.5 426.9,1101.1 427.4,1067.1 427.8,1109.3 428.3,1083.8 428.8,1097.8 429.3,1059.6 429.8,1054.2 430.3,1061.9 430.8,1056.7 431.2,1049.6 431.7,1059.6 432.2,1085.3 432.7,1042.4 433.2,1020.3 433.7,973.3 434.2,906.2 434.6,853.6 435.1,819.1 435.6,803.1 436.1,805.4 436.6,826.1 437.1,865 437.6,921.6 438,992.3 438.5,1038.4 439,1061.3 439.5,1069.7 440,1065.4 440.5,1049.5 441,1049.3 441.4,1094 441.9,1052.5 442.4,1055.5 442.9,1055.5 443.4,1059.9 443.9,1101.5 444.4,1085 444.8,1121.6 445.3,1071.1 445.8,1062.6 446.3,1096.5 446.8,1109.5 447.3,1071.4 447.8,1071 448.2,1080.9 448.7,1069.1 449.2,1070 449.7,1091.5 450.2,1073 450.7,1123.4 451.2,1059.6 451.6,1077.8 452.1,1091 452.6,1075.9 453.1,1070.6 453.6,1066.5 454.1,1147 454.6,1060.4 455,1126.2 455.5,1067.8 456,1135.2 456.5,1077.3 457,1067.6 457.5,1131.9 458,1118.2 458.4,1085.1 458.9,1062.9 459.4,1081.8 459.9,1131.1 460.4,1093.9 460.9,1063.7 461.4,1099.1 461.8,1070.5 462.3,1062.3 462.8,1133 463.3,1073.4 463.8,1098.5 464.3,1068.7 464.8,1069.5 465.2,1098.4 465.7,1077.5 466.2,1065.1 466.7,1079.3 467.2,1066.2 467.7,1063.7 468.2,1071.1 468.6,1062.3 469.1,1062.7 469.6,1120.5 470.1,1122.2 470.6,1112.3 471.1,1103.2 471.6,1056.3 472,1059.8 472.5,1126.3 473,1115.7 473.5,1097.1 474,1057.9 474.5,1062.2 475,1110.3 475.4,1047.9 475.9,1116.2 476.4,1055.9 476.9,1108.3 477.4,1072.7 477.9,1066.2 478.4,1075.7 478.8,1108.4 479.3,1059.7 479.8,1059.6 480.3,1093.7 480.8,1053.2 481.3,1045.7 481.7,1048.1 482.2,1065.9 482.7,1078.9 483.2,1062.7 483.7,1068.2 484.2,1065.3 484.7,1052.1 485.1,1046.2 485.6,1036.6 486.1,1044.9 486.6,1034.2 487.1,1033.9 487.6,1028.5 488.1,1015.1 488.5,1021.8 489,1006.7 489.5,1009.1 490,978.8 490.5,949.9 491,872.7 491.5,813.1 491.9,771.6 492.4,748.5 492.9,743.7 493.4,757.4 493.9,789.4 494.4,839.7 494.9,908 495.3,975.7 495.8,978.7 496.3,999.3 496.8,992.8 497.3,994.6 497.8,1011.5 498.3,1023.3 498.7,1033.4 499.2,1048.9 499.7,1040.1 500.2,1044.4 500.7,1047.9 501.2,1050.6 501.7,1044.1 502.1,1045.4 502.6,1053.2 503.1,1045.6 503.6,1057.9 504.1,1050.8 504.6,1071.4 505.1,1067.6 505.5,1054.4 506,1075.5 506.5,1054.6 507,1054.2 507.5,1073.2 508,1065.9 508.5,1058.2 508.9,1088.7 509.4,1065.3 509.9,1107.6 510.4,1088.4 510.9,1075.7 511.4,1106.4 511.9,1058 512.3,1064.8 512.8,1074.5 513.3,1055 513.8,1071 514.3,1108.1 514.8,1069.5 515.3,1112.1 515.7,1110.9 516.2,1062.5 516.7,1083.5 517.2,1090.7 517.7,1060.3 518.2,1090.8 518.7,1095 519.1,1065.8 519.6,1063.6 520.1,1112.3 520.6,1119 521.1,1113.7 521.6,1076.1 522.1,1102.6 522.5,1090.3 523,1063.4 523.5,1067 524,1055.1 524.5,1058.3 525,1069.8 525.5,1069.3 525.9,1058.4 526.4,1086.4 526.9,1059.8 527.4,1067.3 527.9,1060.6 528.4,1057.6 528.9,1061.6 529.3,1053.6 529.8,1059 530.3,1057 530.8,1081.3 531.3,1072.3 531.8,1047.7 532.2,1054.7 532.7,1059.9 533.2,1047.6 533.7,1074 534.2,1080.2 534.7,1075.1 535.2,1059.6 535.6,1055.4 536.1,1064.2 536.6,1057 537.1,1068.4 537.6,1042.2 538.1,1056.6 538.6,1039.9 539,1043.4 539.5,1057.8 540,1052.9 540.5,1037.2 541,1032.8 541.5,1028.8 542,1020.4 542.4,1027.6 542.9,1011 543.4,1035.5 543.9,1009.6 544.4,1002.9 544.9,995.1 545.4,1001.8 545.8,995.3 546.3,1008.2 546.8,975.1 547.3,963.8 547.8,947.8 548.3,970.6 548.8,937.2 549.2,870.2 549.7,801.6 550.2,751.3 550.7,719.4 551.2,706 551.7,710.9 552.2,734.2 552.6,775.9 553.1,835.9 553.6,913.5 554.1,944 554.6,940.6 555.1,954.8 555.6,967.3 556,993.1 556.5,1000.2 557,996.2 557.5,1005.8 558,998.2 558.5,997.1 559,1033.4 559.4,1018.6 559.9,1021.7 560.4,1040.6 560.9,1039.7 561.4,1035.9 561.9,1028.5 562.4,1045.6 562.8,1036.2 563.3,1072.3 563.8,1042.1 564.3,1080.5 564.8,1043.6 565.3,1041.6 565.8,1044.3 566.2,1061.4 566.7,1098.5 567.2,1049.4 567.7,1052.9 568.2,1068.8 568.7,1048.4 569.2,1048 569.6,1072.3 570.1,1045.2 570.6,1067.4 571.1,1078.2 571.6,1086.4 572.1,1088.5 572.6,1096.8 573,1069.7 573.5,1057.2 574,1058.9 574.5,1072.9 575,1097 575.5,1058.6 576,1045.7 576.4,1080.2 576.9,1086.8 577.4,1107.3 577.9,1057.7 578.4,1075.4 578.9,1053.7 579.4,1054.9 579.8,1093 580.3,1101.4 580.8,1100.3 581.3,1062.2 581.8,1113.8 582.3,1112.5 582.7,1056.3 583.2,1112.3 583.7,1095.9 584.2,1079.1 584.7,1046.5 585.2,1064.1 585.7,1055.8 586.1,1107.4 586.6,1056.9 587.1,1073.7 587.6,1108.2 588.1,1059.5 588.6,1056.2 589.1,1059.1 589.5,1053.4 590,1059.7 590.5,1063.7 591,1071 591.5,1063.1 592,1054.7 592.5,1073.3 592.9,1059.9 593.4,1056.5 593.9,1065.3 594.4,1061.3 594.9,1082.1 595.4,1054.2 595.9,1053.9 596.3,1076.8 596.8,1071.2 597.3,1050.5 597.8,1070.9 598.3,1079.2 598.8,1049.6 599.3,1048.7 599.7,1044.8 600.2,1041.1 600.7,1054 601.2,1041.4 601.7,1090 602.2,1026.9 602.7,1039.2 603.1,1019.4 603.6,1040.5 604.1,1025.7 604.6,1013.9 605.1,993.1 605.6,1019.9 606.1,995.8 606.5,985.6 607,975.4 607.5,938.5 608,863 608.5,804 609,763.5 609.5,741.3 609.9,737.4 610.4,752 610.9,785 611.4,836.3 611.9,905.4 612.4,970.1 612.9,1002.4 613.3,981.9 613.8,999.8 614.3,1005.9 614.8,1010.2 615.3,1010 615.8,1040.9 616.3,1019.5 616.7,1035.5 617.2,1045.4 617.7,1040.3 618.2,1042.1 618.7,1049.4 619.2,1042 619.7,1058.1 620.1,1052.5 620.6,1042.6 621.1,1062.3 621.6,1050 622.1,1048.8 622.6,1061 623.1,1075.8 623.5,1056.6 624,1061.3 624.5,1108.1 625,1060.4 625.5,1069.2 626,1068 626.5,1103.7 626.9,1058 627.4,1107.6 627.9,1110 628.4,1068.2 628.9,1101.4 629.4,1101.1 629.9,1107.8 630.3,1063.2 630.8,1067.5 631.3,1067.2 631.8,1082.2 632.3,1066.3 632.8,1085.1 633.2,1074.9 633.7,1081.3 634.2,1060.1 634.7,1060.5 635.2,1062.8 635.7,1080.8 636.2,1061 636.6,1069.1 637.1,1064.9 637.6,1070 638.1,1085.3 638.6,1082.5 639.1,1080.4 639.6,1068.4 640,1054.4 640.5,1137.2 641,1070.6 641.5,1073 642,1059.9 642.5,1080.7 643,1108.2 643.4,1146.4 643.9,1071.6 644.4,1107 644.9,1073.2 645.4,1127.2 645.9,1065 646.4,1067.3 646.8,1064.8 647.3,1072.5 647.8,1140.1 648.3,1095.9 648.8,1142.5 649.3,1073.7 649.8,1127.9 650.2,1096.1 650.7,1062.8 651.2,1109.7 651.7,1068.4 652.2,1074.9 652.7,1064.7 653.2,1073.1 653.6,1062.5 654.1,1061.3 654.6,1125.5 655.1,1127.2 655.6,1115.6 656.1,1117.3 656.6,1064.3 657,1063 657.5,1060.4 658,1066.1 658.5,1073.6 659,1119.4 659.5,1098.2 660,1056.4 660.4,1059 660.9,1054.2 661.4,1060.9 661.9,1059.4 662.4,1048.7 662.9,1097 663.4,1057.7 663.8,1047.4 664.3,1042.4 664.8,1037.4 665.3,1044.2 665.8,1032.4 666.3,959.8 666.8,894.7 667.2,845.5 667.7,814.6 668.2,802.1 668.7,808 669.2,832.1 669.7,874.5 670.2,935.5 670.6,1006.1 671.1,1026.8 671.6,1021 672.1,1030.9 672.6,1080.9 673.1,1046 673.6,1075.6 674,1077.9 674.5,1118.8 675,1059.9 675.5,1058.4 676,1077.8 676.5,1117.3 677,1055 677.4,1118.1 677.9,1069.4 678.4,1058.2 678.9,1093.2 679.4,1100.6 679.9,1109.1 680.4,1062.1 680.8,1076.5 681.3,1065.4 681.8,1138.6 682.3,1060.2 682.8,1077.5 683.3,1071.4 683.8,1125.4 684.2,1071.6 684.7,1087.1 685.2,1064.8 685.7,1116.7 686.2,1147.5 686.7,1065.7 687.1,1067.7 687.6,1075.7 688.1,1071.7 688.6,1122.8 689.1,1066.5 689.6,1074.5 690.1,1140.8 690.5,1085 691,1062.9 691.5,1136.3 692,1075.5 692.5,1063.9 693,1081.1 693.5,1061.1 693.9,1063.3 694.4,1147.5 694.9,1075.9 695.4,1068.7 695.9,1075.8 696.4,1066.5 696.9,1073.5 697.3,1095.1 697.8,1061.5 698.3,1104.2 698.8,1079.9 699.3,1063.2 699.8,1068.7 700.3,1070.5 700.7,1071.5 701.2,1064.8 701.7,1088.6 702.2,1098.5 702.7,1066.8 703.2,1135.1 703.7,1110.9 704.1,1087.5 704.6,1098.8 705.1,1054 705.6,1147.5 706.1,1079.1 706.6,1062.4 707.1,1069 707.5,1063.3 708,1063.4 708.5,1129.7 709,1147.5 709.5,1145 710,1147.5 710.5,1089.8 710.9,1078.8 711.4,1071.9 711.9,1091.9 712.4,1064.3 712.9,1072.9 713.4,1077.1 713.9,1081.8 714.3,1112.5 714.8,1054.8 715.3,1147.5 715.8,1135.5 716.3,1068.1 716.8,1065.4 717.3,1080.2 717.7,1065.8 718.2,1064.1 718.7,1094.2 719.2,1145.8 719.7,1088 720.2,1062.2 720.7,1064.5 721.1,1125.9 721.6,1061.8 722.1,1080.5 722.6,1068.3 723.1,1052.8 723.6,1088.6 724.1,1068.2 724.5,1024.8 725,967.4 725.5,909.4 726,869.6 726.5,848.6 727,845.7 727.5,861 727.9,894.6 728.4,945.9 728.9,1008.5 729.4,1052.7 729.9,1078.1 730.4,1046.2 730.9,1045.4 731.3,1067.6 731.8,1118.8 732.3,1094.1 732.8,1062.4 733.3,1129.5 733.8,1066.8 734.3,1063.9 734.7,1077.4 735.2,1065.1 735.7,1131.6 736.2,1113.1 736.7,1140.7 737.2,1079 737.6,1073.4 738.1,1076.3 738.6,1080.4 739.1,1104.5 739.6,1064.2 740.1,1057.9 740.6,1090.6 741,1069.5 741.5,1066.1 742,1085.3 742.5,1066.6 743,1070.6 743.5,1098 744,1097.4 744.4,1067.9 744.9,1065.2 745.4,1147.5 745.9,1072.5 746.4,1147.5 746.9,1147.5 747.4,1065.9 747.8,1123 748.3,1084.5 748.8,1128.2 749.3,1077.5 749.8,1075.6 750.3,1107.6 750.8,1073.7 751.2,1077.4 751.7,1066 752.2,1147.5 752.7,1075.6 753.2,1082.1 753.7,1147.5 754.2,1076.1 754.6,1102 755.1,1073.3 755.6,1114.1 756.1,1116.8 756.6,1065.9 757.1,1074.8 757.6,1147.5 758,1080.1 758.5,1064 759,1146.4 759.5,1094 760,1084.4 760.5,1147.5 761,1079.6 761.4,1109.2 761.9,1068.9 762.4,1147.5 762.9,1079.1 763.4,1066.2 763.9,1107.5 764.4,1076.9 764.8,1147.5 765.3,1147.5 765.8,1097.5 766.3,1138.7 766.8,1108.5 767.3,1072.3 767.8,1065.6 768.2,1065.3 768.7,1078.3 769.2,1068.8 769.7,1075.5 770.2,1062.8 770.7,1079 771.2,1068.5 771.6,1147.5 772.1,1068.7 772.6,1125.9 773.1,1147.5 773.6,1147.5 774.1,1075.9 774.6,1147.5 775,1108.1 775.5,1147.5 776,1110.6 776.5,1068.6 777,1074.7 777.5,1147.5 778,1147.5 778.4,1122.4 778.9,1066.9 779.4,1070.9 779.9,1067.1 780.4,1073.3 780.9,1111.2 781.4,1064.8 781.8,1092.5 782.3,1070.1 782.8,1085.4 783.3,1071.9 783.8,1076.4 784.3,1065.6 784.8,1034.3 785.2,981.1 785.7,934.3 786.2,903.8 786.7,890.3 787.2,895.3 787.7,919 788.1,960.6 788.6,1009.8 789.1,1050.8 789.6,1106 790.1,1073.8 790.6,1128.2 791.1,1066.5 791.5,1086.4 792,1061.8 792.5,1147.5 793,1138.4 793.5,1147.5 794,1075.4 794.5,1127.6 794.9,1064.7 795.4,1111.9 795.9,1069.2 796.4,1068.8 796.9,1064.7 797.4,1067.9 797.9,1147.5 798.3,1081.4 798.8,1071.8 799.3,1147.5 799.8,1110.7 800.3,1065.9 800.8,1147.5 801.3,1147.5 801.7,1147.5 802.2,1067.9 802.7,1070.5 803.2,1068.9 803.7,1147.5 804.2,1064.4 804.7,1114.3 805.1,1147.5 805.6,1072.5 806.1,1118 806.6,1090.6 807.1,1085.8 807.6,1075.1 808.1,1073.5 808.5,1092.5 809,1051.8 809.5,1065.2 810,1147.5 810.5,1078.6 811,1147.5 811.5,1138.4 811.9,1147.5 812.4,1113.8 812.9,1087.1 813.4,1120.5 813.9,1068.7 814.4,1084.7 814.9,1071.6 815.3,1071.2 815.8,1084.9 816.3,1147.5 816.8,1069.5 817.3,1114.7 817.8,1066.2 818.3,1081 818.7,1087.4 819.2,1065.3 819.7,1135.4 820.2,1073.4 820.7,1147.5 821.2,1147.5 821.7,1084.1 822.1,1069.2 822.6,1126.8 823.1,1147.5 823.6,1075 824.1,1074.3 824.6,1065.9 825.1,1127 825.5,1072.7 826,1095 826.5,1097.4 827,1066.1 827.5,1123.7 828,1142 828.5,1134.7 828.9,1070.2 829.4,1082.6 829.9,1147.5 830.4,1074.8 830.9,1091.8 831.4,1101.1 831.9,1067.2 832.3,1070.4 832.8,1083.1 833.3,1147.5 833.8,1069.9 834.3,1134.2 834.8,1073.4 835.3,1076.5 835.7,1147.5 836.2,1074 836.7,1075.4 837.2,1085.9 837.7,1076.2 838.2,1116.8 838.7,1092.7 839.1,1091.9 839.6,1071.4 840.1,1147.5 840.6,1116.5 841.1,1136.1 841.6,1066.4 842,1119.3 842.5,1061.9 843,1079.7 843.5,1044.4 844,1004.8 844.5,966.3 845,947.2 845.4,942.8 845.9,956.4 846.4,988.5 846.9,1032.2 847.4,1062.4 847.9,1147.5 848.4,1086.4 848.8,1072.2 849.3,1120.7 849.8,1067.3 850.3,1067.8 850.8,1106.7 851.3,1117.9 851.8,1066.3 852.2,1073.9 852.7,1063.1 853.2,1109.1 853.7,1067 854.2,1065.1 854.7,1073 855.2,1147.5 855.6,1067.5 856.1,1147.5 856.6,1147.5 857.1,1070.3 857.6,1064.1 858.1,1084.5 858.6,1074.1 859,1067 859.5,1147.5 860,1070.2 860.5,1090.8 861,1075.3 861.5,1131.2 862,1066.3 862.4,1127.5 862.9,1067.7 863.4,1065.2 863.9,1073.1 864.4,1147.5 864.9,1063.7 865.4,1092.5 865.8,1121.8 866.3,1129.1 866.8,1068.3 867.3,1063.4 867.8,1069.2 868.3,1077.6 868.8,1070 869.2,1063.6 869.7,1078.4 870.2,1147.5 870.7,1147.5 871.2,1135.8 871.7,1071.5 872.2,1078.3 872.6,1073.5 873.1,1147.5 873.6,1098.3 874.1,1064.3 874.6,1066.1 875.1,1069.7 875.6,1077.2 876,1068.2 876.5,1079.7 877,1069.8 877.5,1071.2 878,1082.1 878.5,1102.3 879,1089 879.4,1086.6 879.9,1072.8 880.4,1147.5 880.9,1147.5 881.4,1072 881.9,1080 882.4,1083.4 882.8,1147.5 883.3,1147.5 883.8,1067.4 884.3,1147.5 884.8,1147.5 885.3,1077.3 885.8,1127 886.2,1072.8 886.7,1079.8 887.2,1117 887.7,1067.1 888.2,1147.5 888.7,1068.6 889.2,1147.5 889.6,1072.4 890.1,1068.8 890.6,1144.2 891.1,1085.6 891.6,1073.6 892.1,1086.8 892.5,1147.5 893,1072.7 893.5,1064.6 894,1067.2 894.5,1076.2 895,1081.6 895.5,1069.6 895.9,1123.1 896.4,1071 896.9,1147.5 897.4,1082.8 897.9,1147.5 898.4,1132 898.9,1067.1 899.3,1075.8 899.8,1120.1 900.3,1076.9 900.8,1066.9 901.3,1065.4 901.8,1072.6 902.3,1054 902.7,1002.9 903.2,979 903.7,968.5 904.2,971.8 904.7,994.3 905.2,1027.3 905.7,1052.7 906.1,1104.5 906.6,1074.2 907.1,1087.9 907.6,1065.8 908.1,1066.3 908.6,1082 909.1,1088 909.5,1076.2 910,1069.7 910.5,1058.8 911,1128.2 911.5,1147.5 912,1064.8 912.5,1083.9 912.9,1147.5 913.4,1076.2 913.9,1064 914.4,1147.5 914.9,1089.8 915.4,1069.2 915.9,1090.3 916.3,1147.5 916.8,1054.9 917.3,1071.1 917.8,1075.1 918.3,1097.8 918.8,1147.5 919.3,1075 919.7,1085.9 920.2,1147.5 920.7,1074.9 921.2,1147.5 921.7,1083.2 922.2,1147.5 922.7,1147.5 923.1,1068.5 923.6,1081 924.1,1071.8 924.6,1066.5 925.1,1147.5 925.6,1074.9 926.1,1132.5 926.5,1143.3 927,1067.3 927.5,1063.6 928,1147.5 928.5,1083.1 929,1073.1 929.5,1071.5 929.9,1147.5 930.4,1147.5 930.9,1085.2 931.4,1066.5 931.9,1066.7 932.4,1112.6 932.9,1092.9 933.3,1120.2 933.8,1147.5 934.3,1080 934.8,1108 935.3,1147.5 935.8,1097.6 936.3,1084 936.7,1147.5 937.2,1100.6 937.7,1147.5 938.2,1063.7 938.7,1064.8 939.2,1080 939.7,1105.9 940.1,1081.7 940.6,1147.5 941.1,1069.5 941.6,1119.9 942.1,1069.5 942.6,1087.7 943,1068.6 943.5,1083 944,1147.5 944.5,1138.1 945,1065.7 945.5,1118 946,1067.6 946.4,1133.3 946.9,1147.5 947.4,1088.8 947.9,1147.5 948.4,1064.6 948.9,1086.9 949.4,1088.2 949.8,1071 950.3,1086 950.8,1123.2 951.3,1147.5 951.8,1144.2 952.3,1135.4 952.8,1072.9 953.2,1147.5 953.7,1065.2 954.2,1147.5 954.7,1076.9 955.2,1147.5 955.7,1075.8 956.2,1128.5 956.6,1080 957.1,1064.5 957.6,1068.5 958.1,1121.2 958.6,1147.5 959.1,1066.2 959.6,1147.5 960,1076.1 960.5,1071.9 961,1073 961.5,1114 962,1065.1 962.5,1071.6 963,1041.3 963.4,1016.9 963.9,1007.4 964.4,1024.8 964.9,1043 965.4,1070.1 965.9,1147.5 966.4,1071.8 966.8,1147.5 967.3,1062.7 967.8,1066.4 968.3,1147.5" fill="none" stroke="#e67aa8" stroke-width="3.3" stroke-linejoin="round"/>
<rect x="143.3" y="685.5" width="825" height="456" fill="none" stroke="#000" stroke-width="2.8"/>
<text x="144.6" y="1180.5" font-size="37" text-anchor="middle" font-family="DejaVu Sans, Liberation Sans, sans-serif" >1520</text>
<text x="294.6" y="1180.5" font-size="37" text-anchor="middle" font-family="DejaVu Sans, Liberation Sans, sans-serif" >1530</text>
<text x="444.6" y="1180.5" font-size="37" text-anchor="middle" font-family="DejaVu Sans, Liberation Sans, sans-serif" >1540</text>
<text x="594.6" y="1180.5" font-size="37" text-anchor="middle" font-family="DejaVu Sans, Liberation Sans, sans-serif" >1550</text>
<text x="744.6" y="1180.5" font-size="37" text-anchor="middle" font-family="DejaVu Sans, Liberation Sans, sans-serif" >1560</text>
<text x="894.6" y="1180.5" font-size="37" text-anchor="middle" font-family="DejaVu Sans, Liberation Sans, sans-serif" >1570</text>
<text x="133" y="737" font-size="37" text-anchor="end" font-family="DejaVu Sans, Liberation Sans, sans-serif" >−10</text>
<text x="133" y="830.1" font-size="37" text-anchor="end" font-family="DejaVu Sans, Liberation Sans, sans-serif" >−20</text>
<text x="133" y="923.2" font-size="37" text-anchor="end" font-family="DejaVu Sans, Liberation Sans, sans-serif" >−30</text>
<text x="133" y="1016.3" font-size="37" text-anchor="end" font-family="DejaVu Sans, Liberation Sans, sans-serif" >−40</text>
<text x="133" y="1109.4" font-size="37" text-anchor="end" font-family="DejaVu Sans, Liberation Sans, sans-serif" >−50</text>
<text x="557.5" y="1227" font-size="37" text-anchor="middle" font-family="DejaVu Sans, Liberation Sans, sans-serif" >Wavelength (nm)</text>
<text transform="translate(37 913) rotate(-90)" font-size="37" text-anchor="middle" font-family="DejaVu Sans, Liberation Sans, sans-serif" >Power (dBm)</text>
<rect x="157" y="701.2" width="388" height="48.5" rx="5" fill="#fff" fill-opacity="0.8" stroke="#ccc" stroke-opacity="0.75" stroke-width="2"/>
<path d="M168 723.3H229" stroke="#e67aa8" stroke-width="4.6"/>
<text x="251" y="733.3" font-size="28.2" text-anchor="start" font-family="DejaVu Sans, Liberation Sans, sans-serif" >Measured Spectrum</text>
<text x="0" y="715.7" font-size="48" font-family="DejaVu Sans, Liberation Sans, sans-serif" textLength="37.4" lengthAdjust="spacingAndGlyphs">c)</text>
</g>
<g id="panel-d">
<defs><linearGradient id="hd0" x1="0" y1="0" x2="0" y2="1"><stop offset="0%" stop-color="#2ed1ff"/><stop offset="4.2%" stop-color="#3bc4ff"/><stop offset="8.3%" stop-color="#49b6ff"/><stop offset="12.5%" stop-color="#57a8ff"/><stop offset="16.7%" stop-color="#6699ff"/><stop offset="20.8%" stop-color="#758aff"/><stop offset="25%" stop-color="#827dff"/><stop offset="29.2%" stop-color="#8e71ff"/><stop offset="33.3%" stop-color="#9768ff"/><stop offset="37.5%" stop-color="#9d62ff"/><stop offset="41.7%" stop-color="#9c63ff"/><stop offset="45.8%" stop-color="#9669ff"/><stop offset="50%" stop-color="#8d72ff"/><stop offset="54.2%" stop-color="#817eff"/><stop offset="58.3%" stop-color="#748bff"/><stop offset="62.5%" stop-color="#649bff"/><stop offset="66.7%" stop-color="#55aaff"/><stop offset="70.8%" stop-color="#45baff"/><stop offset="75%" stop-color="#36c9ff"/><stop offset="79.2%" stop-color="#27d8ff"/><stop offset="83.3%" stop-color="#1ce3ff"/><stop offset="87.5%" stop-color="#13ecff"/><stop offset="91.7%" stop-color="#0df2ff"/><stop offset="95.8%" stop-color="#09f6ff"/><stop offset="100%" stop-color="#08f7ff"/></linearGradient><linearGradient id="hd1" x1="0" y1="0" x2="0" y2="1"><stop offset="0%" stop-color="#2fd0ff"/><stop offset="4.2%" stop-color="#3cc3ff"/><stop offset="8.3%" stop-color="#4ab5ff"/><stop offset="12.5%" stop-color="#59a6ff"/><stop offset="16.7%" stop-color="#6897ff"/><stop offset="20.8%" stop-color="#7887ff"/><stop offset="25%" stop-color="#857aff"/><stop offset="29.2%" stop-color="#916eff"/><stop offset="33.3%" stop-color="#9a65ff"/><stop offset="37.5%" stop-color="#a15eff"/><stop offset="41.7%" stop-color="#a05fff"/><stop offset="45.8%" stop-color="#9a65ff"/><stop offset="50%" stop-color="#916eff"/><stop offset="54.2%" stop-color="#857aff"/><stop offset="58.3%" stop-color="#7887ff"/><stop offset="62.5%" stop-color="#6897ff"/><stop offset="66.7%" stop-color="#58a7ff"/><stop offset="70.8%" stop-color="#48b7ff"/><stop offset="75%" stop-color="#39c6ff"/><stop offset="79.2%" stop-color="#29d6ff"/><stop offset="83.3%" stop-color="#1de2ff"/><stop offset="87.5%" stop-color="#14ebff"/><stop offset="91.7%" stop-color="#0df2ff"/><stop offset="95.8%" stop-color="#0af5ff"/><stop offset="100%" stop-color="#08f7ff"/></linearGradient><linearGradient id="hd2" x1="0" y1="0" x2="0" y2="1"><stop offset="0%" stop-color="#30cfff"/><stop offset="4.2%" stop-color="#3ec1ff"/><stop offset="8.3%" stop-color="#4cb3ff"/><stop offset="12.5%" stop-color="#5aa5ff"/><stop offset="16.7%" stop-color="#6a95ff"/><stop offset="20.8%" stop-color="#7a85ff"/><stop offset="25%" stop-color="#8778ff"/><stop offset="29.2%" stop-color="#946bff"/><stop offset="33.3%" stop-color="#9d62ff"/><stop offset="37.5%" stop-color="#a45bff"/><stop offset="41.7%" stop-color="#a45bff"/><stop offset="45.8%" stop-color="#9e61ff"/><stop offset="50%" stop-color="#956aff"/><stop offset="54.2%" stop-color="#8976ff"/><stop offset="58.3%" stop-color="#7b84ff"/><stop offset="62.5%" stop-color="#6b94ff"/><stop offset="66.7%" stop-color="#5ba4ff"/><stop offset="70.8%" stop-color="#4bb4ff"/><stop offset="75%" stop-color="#3bc4ff"/><stop offset="79.2%" stop-color="#2bd4ff"/><stop offset="83.3%" stop-color="#1fe0ff"/><stop offset="87.5%" stop-color="#15eaff"/><stop offset="91.7%" stop-color="#0ef1ff"/><stop offset="95.8%" stop-color="#0af5ff"/><stop offset="100%" stop-color="#08f7ff"/></linearGradient><linearGradient id="hd3" x1="0" y1="0" x2="0" y2="1"><stop offset="0%" stop-color="#31ceff"/><stop offset="4.2%" stop-color="#3fc0ff"/><stop offset="8.3%" stop-color="#4db2ff"/><stop offset="12.5%" stop-color="#5ca3ff"/><stop offset="16.7%" stop-color="#6c93ff"/><stop offset="20.8%" stop-color="#7c83ff"/><stop offset="25%" stop-color="#8a75ff"/><stop offset="29.2%" stop-color="#9669ff"/><stop offset="33.3%" stop-color="#a05fff"/><stop offset="37.5%" stop-color="#a857ff"/><stop offset="41.7%" stop-color="#a758ff"/><stop offset="45.8%" stop-color="#a25dff"/><stop offset="50%" stop-color="#9867ff"/><stop offset="54.2%" stop-color="#8d72ff"/><stop offset="58.3%" stop-color="#7f80ff"/><stop offset="62.5%" stop-color="#6f90ff"/><stop offset="66.7%" stop-color="#5fa0ff"/><stop offset="70.8%" stop-color="#4eb1ff"/><stop offset="75%" stop-color="#3ec1ff"/><stop offset="79.2%" stop-color="#2dd2ff"/><stop offset="83.3%" stop-color="#20dfff"/><stop offset="87.5%" stop-color="#16e9ff"/><stop offset="91.7%" stop-color="#0ff0ff"/><stop offset="95.8%" stop-color="#0af5ff"/><stop offset="100%" stop-color="#08f7ff"/></linearGradient><linearGradient id="hd4" x1="0" y1="0" x2="0" y2="1"><stop offset="0%" stop-color="#32cdff"/><stop offset="4.2%" stop-color="#40bfff"/><stop offset="8.3%" stop-color="#4eb1ff"/><stop offset="12.5%" stop-color="#5ea1ff"/><stop offset="16.7%" stop-color="#6e91ff"/><stop offset="20.8%" stop-color="#7e81ff"/><stop offset="25%" stop-color="#8c73ff"/><stop offset="29.2%" stop-color="#9966ff"/><stop offset="33.3%" stop-color="#a35cff"/><stop offset="37.5%" stop-color="#ab54ff"/><stop offset="41.7%" stop-color="#ab54ff"/><stop offset="45.8%" stop-color="#a659ff"/><stop offset="50%" stop-color="#9c63ff"/><stop offset="54.2%" stop-color="#916eff"/><stop offset="58.3%" stop-color="#837cff"/><stop offset="62.5%" stop-color="#728dff"/><stop offset="66.7%" stop-color="#629dff"/><stop offset="70.8%" stop-color="#51aeff"/><stop offset="75%" stop-color="#40bfff"/><stop offset="79.2%" stop-color="#2fd0ff"/><stop offset="83.3%" stop-color="#21deff"/><stop offset="87.5%" stop-color="#17e8ff"/><stop offset="91.7%" stop-color="#0ff0ff"/><stop offset="95.8%" stop-color="#0bf4ff"/><stop offset="100%" stop-color="#08f7ff"/></linearGradient><linearGradient id="hd5" x1="0" y1="0" x2="0" y2="1"><stop offset="0%" stop-color="#32cdff"/><stop offset="4.2%" stop-color="#41beff"/><stop offset="8.3%" stop-color="#50afff"/><stop offset="12.5%" stop-color="#5fa0ff"/><stop offset="16.7%" stop-color="#6f90ff"/><stop offset="20.8%" stop-color="#807fff"/><stop offset="25%" stop-color="#8f70ff"/><stop offset="29.2%" stop-color="#9c63ff"/><stop offset="33.3%" stop-color="#a659ff"/><stop offset="37.5%" stop-color="#ae51ff"/><stop offset="41.7%" stop-color="#ae51ff"/><stop offset="45.8%" stop-color="#a956ff"/><stop offset="50%" stop-color="#a05fff"/><stop offset="54.2%" stop-color="#956aff"/><stop offset="58.3%" stop-color="#8679ff"/><stop offset="62.5%" stop-color="#7689ff"/><stop offset="66.7%" stop-color="#659aff"/><stop offset="70.8%" stop-color="#54abff"/><stop offset="75%" stop-color="#42bdff"/><stop offset="79.2%" stop-color="#31ceff"/><stop offset="83.3%" stop-color="#23dcff"/><stop offset="87.5%" stop-color="#17e8ff"/><stop offset="91.7%" stop-color="#10efff"/><stop offset="95.8%" stop-color="#0bf4ff"/><stop offset="100%" stop-color="#08f7ff"/></linearGradient><linearGradient id="hd6" x1="0" y1="0" x2="0" y2="1"><stop offset="0%" stop-color="#33ccff"/><stop offset="4.2%" stop-color="#42bdff"/><stop offset="8.3%" stop-color="#51aeff"/><stop offset="12.5%" stop-color="#619eff"/><stop offset="16.7%" stop-color="#718eff"/><stop offset="20.8%" stop-color="#827dff"/><stop offset="25%" stop-color="#916eff"/><stop offset="29.2%" stop-color="#9e61ff"/><stop offset="33.3%" stop-color="#a956ff"/><stop offset="37.5%" stop-color="#b14eff"/><stop offset="41.7%" stop-color="#b24dff"/><stop offset="45.8%" stop-color="#ad52ff"/><stop offset="50%" stop-color="#a45bff"/><stop offset="54.2%" stop-color="#9867ff"/><stop offset="58.3%" stop-color="#8a75ff"/><stop offset="62.5%" stop-color="#7986ff"/><stop offset="66.7%" stop-color="#6897ff"/><stop offset="70.8%" stop-color="#56a9ff"/><stop offset="75%" stop-color="#44bbff"/><stop offset="79.2%" stop-color="#32cdff"/><stop offset="83.3%" stop-color="#24dbff"/><stop offset="87.5%" stop-color="#18e7ff"/><stop offset="91.7%" stop-color="#10efff"/><stop offset="95.8%" stop-color="#0bf4ff"/><stop offset="100%" stop-color="#08f7ff"/></linearGradient><linearGradient id="hd7" x1="0" y1="0" x2="0" y2="1"><stop offset="0%" stop-color="#34cbff"/><stop offset="4.2%" stop-color="#43bcff"/><stop offset="8.3%" stop-color="#52adff"/><stop offset="12.5%" stop-color="#629dff"/><stop offset="16.7%" stop-color="#738cff"/><stop offset="20.8%" stop-color="#847bff"/><stop offset="25%" stop-color="#936cff"/><stop offset="29.2%" stop-color="#a15eff"/><stop offset="33.3%" stop-color="#ac53ff"/><stop offset="37.5%" stop-color="#b54aff"/><stop offset="41.7%" stop-color="#b54aff"/><stop offset="45.8%" stop-color="#b04fff"/><stop offset="50%" stop-color="#a758ff"/><stop offset="54.2%" stop-color="#9c63ff"/><stop offset="58.3%" stop-color="#8d72ff"/><stop offset="62.5%" stop-color="#7d82ff"/><stop offset="66.7%" stop-color="#6b94ff"/><stop offset="70.8%" stop-color="#59a6ff"/><stop offset="75%" stop-color="#47b8ff"/><stop offset="79.2%" stop-color="#34cbff"/><stop offset="83.3%" stop-color="#25daff"/><stop offset="87.5%" stop-color="#19e6ff"/><stop offset="91.7%" stop-color="#11eeff"/><stop offset="95.8%" stop-color="#0cf3ff"/><stop offset="100%" stop-color="#08f7ff"/></linearGradient><linearGradient id="hd8" x1="0" y1="0" x2="0" y2="1"><stop offset="0%" stop-color="#35caff"/><stop offset="4.2%" stop-color="#44bbff"/><stop offset="8.3%" stop-color="#54abff"/><stop offset="12.5%" stop-color="#649bff"/><stop offset="16.7%" stop-color="#758aff"/><stop offset="20.8%" stop-color="#8679ff"/><stop offset="25%" stop-color="#9669ff"/><stop offset="29.2%" stop-color="#a35cff"/><stop offset="33.3%" stop-color="#af50ff"/><stop offset="37.5%" stop-color="#b847ff"/><stop offset="41.7%" stop-color="#b847ff"/><stop offset="45.8%" stop-color="#b44bff"/><stop offset="50%" stop-color="#ab54ff"/><stop offset="54.2%" stop-color="#a05fff"/><stop offset="58.3%" stop-color="#916eff"/><stop offset="62.5%" stop-color="#807fff"/><stop offset="66.7%" stop-color="#6e91ff"/><stop offset="70.8%" stop-color="#5ca3ff"/><stop offset="75%" stop-color="#49b6ff"/><stop offset="79.2%" stop-color="#36c9ff"/><stop offset="83.3%" stop-color="#27d8ff"/><stop offset="87.5%" stop-color="#1ae5ff"/><stop offset="91.7%" stop-color="#11eeff"/><stop offset="95.8%" stop-color="#0cf3ff"/><stop offset="100%" stop-color="#08f7ff"/></linearGradient><linearGradient id="hd9" x1="0" y1="0" x2="0" y2="1"><stop offset="0%" stop-color="#35caff"/><stop offset="4.2%" stop-color="#45baff"/><stop offset="8.3%" stop-color="#55aaff"/><stop offset="12.5%" stop-color="#659aff"/><stop offset="16.7%" stop-color="#7788ff"/><stop offset="20.8%" stop-color="#8877ff"/><stop offset="25%" stop-color="#9867ff"/><stop offset="29.2%" stop-color="#a659ff"/><stop offset="33.3%" stop-color="#b14eff"/><stop offset="37.5%" stop-color="#bb44ff"/><stop offset="41.7%" stop-color="#bc43ff"/><stop offset="45.8%" stop-color="#b748ff"/><stop offset="50%" stop-color="#ae51ff"/><stop offset="54.2%" stop-color="#a35cff"/><stop offset="58.3%" stop-color="#946bff"/><stop offset="62.5%" stop-color="#837cff"/><stop offset="66.7%" stop-color="#718eff"/><stop offset="70.8%" stop-color="#5ea1ff"/><stop offset="75%" stop-color="#4bb4ff"/><stop offset="79.2%" stop-color="#38c7ff"/><stop offset="83.3%" stop-color="#28d7ff"/><stop offset="87.5%" stop-color="#1be4ff"/><stop offset="91.7%" stop-color="#12edff"/><stop offset="95.8%" stop-color="#0cf3ff"/><stop offset="100%" stop-color="#08f7ff"/></linearGradient><linearGradient id="hd10" x1="0" y1="0" x2="0" y2="1"><stop offset="0%" stop-color="#36c9ff"/><stop offset="4.2%" stop-color="#46b9ff"/><stop offset="8.3%" stop-color="#56a9ff"/><stop offset="12.5%" stop-color="#6798ff"/><stop offset="16.7%" stop-color="#7887ff"/><stop offset="20.8%" stop-color="#8a75ff"/><stop offset="25%" stop-color="#9a65ff"/><stop offset="29.2%" stop-color="#a857ff"/><stop offset="33.3%" stop-color="#b44bff"/><stop offset="37.5%" stop-color="#be41ff"/><stop offset="41.7%" stop-color="#bf40ff"/><stop offset="45.8%" stop-color="#bb44ff"/><stop offset="50%" stop-color="#b24dff"/><stop offset="54.2%" stop-color="#a758ff"/><stop offset="58.3%" stop-color="#9867ff"/><stop offset="62.5%" stop-color="#8679ff"/><stop offset="66.7%" stop-color="#748bff"/><stop offset="70.8%" stop-color="#619eff"/><stop offset="75%" stop-color="#4db2ff"/><stop offset="79.2%" stop-color="#39c6ff"/><stop offset="83.3%" stop-color="#29d6ff"/><stop offset="87.5%" stop-color="#1ce3ff"/><stop offset="91.7%" stop-color="#13ecff"/><stop offset="95.8%" stop-color="#0cf3ff"/><stop offset="100%" stop-color="#08f7ff"/></linearGradient><linearGradient id="hd11" x1="0" y1="0" x2="0" y2="1"><stop offset="0%" stop-color="#37c8ff"/><stop offset="4.2%" stop-color="#47b8ff"/><stop offset="8.3%" stop-color="#57a8ff"/><stop offset="12.5%" stop-color="#6897ff"/><stop offset="16.7%" stop-color="#7a85ff"/><stop offset="20.8%" stop-color="#8c73ff"/><stop offset="25%" stop-color="#9c63ff"/><stop offset="29.2%" stop-color="#ab54ff"/><stop offset="33.3%" stop-color="#b748ff"/><stop offset="37.5%" stop-color="#c13eff"/><stop offset="41.7%" stop-color="#c23dff"/><stop offset="45.8%" stop-color="#be41ff"/><stop offset="50%" stop-color="#b54aff"/><stop offset="54.2%" stop-color="#aa55ff"/><stop offset="58.3%" stop-color="#9b64ff"/><stop offset="62.5%" stop-color="#8976ff"/><stop offset="66.7%" stop-color="#7788ff"/><stop offset="70.8%" stop-color="#639cff"/><stop offset="75%" stop-color="#4fb0ff"/><stop offset="79.2%" stop-color="#3bc4ff"/><stop offset="83.3%" stop-color="#2ad5ff"/><stop offset="87.5%" stop-color="#1de2ff"/><stop offset="91.7%" stop-color="#13ecff"/><stop offset="95.8%" stop-color="#0df2ff"/><stop offset="100%" stop-color="#08f7ff"/></linearGradient><linearGradient id="hd12" x1="0" y1="0" x2="0" y2="1"><stop offset="0%" stop-color="#38c7ff"/><stop offset="4.2%" stop-color="#48b7ff"/><stop offset="8.3%" stop-color="#58a7ff"/><stop offset="12.5%" stop-color="#6a95ff"/><stop offset="16.7%" stop-color="#7c83ff"/><stop offset="20.8%" stop-color="#8e71ff"/><stop offset="25%" stop-color="#9f60ff"/><stop offset="29.2%" stop-color="#ad52ff"/><stop offset="33.3%" stop-color="#b946ff"/><stop offset="37.5%" stop-color="#c43bff"/><stop offset="41.7%" stop-color="#c53aff"/><stop offset="45.8%" stop-color="#c13eff"/><stop offset="50%" stop-color="#b847ff"/><stop offset="54.2%" stop-color="#ad52ff"/><stop offset="58.3%" stop-color="#9e61ff"/><stop offset="62.5%" stop-color="#8c73ff"/><stop offset="66.7%" stop-color="#7986ff"/><stop offset="70.8%" stop-color="#6699ff"/><stop offset="75%" stop-color="#51aeff"/><stop offset="79.2%" stop-color="#3dc2ff"/><stop offset="83.3%" stop-color="#2bd4ff"/><stop offset="87.5%" stop-color="#1ee1ff"/><stop offset="91.7%" stop-color="#14ebff"/><stop offset="95.8%" stop-color="#0df2ff"/><stop offset="100%" stop-color="#08f7ff"/></linearGradient><linearGradient id="hd13" x1="0" y1="0" x2="0" y2="1"><stop offset="0%" stop-color="#38c7ff"/><stop offset="4.2%" stop-color="#49b6ff"/><stop offset="8.3%" stop-color="#5aa5ff"/><stop offset="12.5%" stop-color="#6b94ff"/><stop offset="16.7%" stop-color="#7d82ff"/><stop offset="20.8%" stop-color="#906fff"/><stop offset="25%" stop-color="#a15eff"/><stop offset="29.2%" stop-color="#b04fff"/><stop offset="33.3%" stop-color="#bc43ff"/><stop offset="37.5%" stop-color="#c738ff"/><stop offset="41.7%" stop-color="#c837ff"/><stop offset="45.8%" stop-color="#c43bff"/><stop offset="50%" stop-color="#bc43ff"/><stop offset="54.2%" stop-color="#b14eff"/><stop offset="58.3%" stop-color="#a15eff"/><stop offset="62.5%" stop-color="#8f70ff"/><stop offset="66.7%" stop-color="#7c83ff"/><stop offset="70.8%" stop-color="#6897ff"/><stop offset="75%" stop-color="#53acff"/><stop offset="79.2%" stop-color="#3ec1ff"/><stop offset="83.3%" stop-color="#2dd2ff"/><stop offset="87.5%" stop-color="#1fe0ff"/><stop offset="91.7%" stop-color="#14ebff"/><stop offset="95.8%" stop-color="#0df2ff"/><stop offset="100%" stop-color="#08f7ff"/></linearGradient><linearGradient id="hd14" x1="0" y1="0" x2="0" y2="1"><stop offset="0%" stop-color="#39c6ff"/><stop offset="4.2%" stop-color="#49b6ff"/><stop offset="8.3%" stop-color="#5ba4ff"/><stop offset="12.5%" stop-color="#6c93ff"/><stop offset="16.7%" stop-color="#7f80ff"/><stop offset="20.8%" stop-color="#926dff"/><stop offset="25%" stop-color="#a35cff"/><stop offset="29.2%" stop-color="#b24dff"/><stop offset="33.3%" stop-color="#bf40ff"/><stop offset="37.5%" stop-color="#ca35ff"/><stop offset="41.7%" stop-color="#cb34ff"/><stop offset="45.8%" stop-color="#c837ff"/><stop offset="50%" stop-color="#bf40ff"/><stop offset="54.2%" stop-color="#b44bff"/><stop offset="58.3%" stop-color="#a55aff"/><stop offset="62.5%" stop-color="#926dff"/><stop offset="66.7%" stop-color="#7f80ff"/><stop offset="70.8%" stop-color="#6b94ff"/><stop offset="75%" stop-color="#55aaff"/><stop offset="79.2%" stop-color="#40bfff"/><stop offset="83.3%" stop-color="#2ed1ff"/><stop offset="87.5%" stop-color="#1fe0ff"/><stop offset="91.7%" stop-color="#15eaff"/><stop offset="95.8%" stop-color="#0ef1ff"/><stop offset="100%" stop-color="#08f7ff"/></linearGradient><linearGradient id="hd15" x1="0" y1="0" x2="0" y2="1"><stop offset="0%" stop-color="#3ac5ff"/><stop offset="4.2%" stop-color="#4ab5ff"/><stop offset="8.3%" stop-color="#5ca3ff"/><stop offset="12.5%" stop-color="#6e91ff"/><stop offset="16.7%" stop-color="#817eff"/><stop offset="20.8%" stop-color="#946bff"/><stop offset="25%" stop-color="#a55aff"/><stop offset="29.2%" stop-color="#b44bff"/><stop offset="33.3%" stop-color="#c13eff"/><stop offset="37.5%" stop-color="#cc33ff"/><stop offset="41.7%" stop-color="#ce31ff"/><stop offset="45.8%" stop-color="#cb34ff"/><stop offset="50%" stop-color="#c23dff"/><stop offset="54.2%" stop-color="#b748ff"/><stop offset="58.3%" stop-color="#a857ff"/><stop offset="62.5%" stop-color="#956aff"/><stop offset="66.7%" stop-color="#817eff"/><stop offset="70.8%" stop-color="#6d92ff"/><stop offset="75%" stop-color="#57a8ff"/><stop offset="79.2%" stop-color="#41beff"/><stop offset="83.3%" stop-color="#2fd0ff"/><stop offset="87.5%" stop-color="#20dfff"/><stop offset="91.7%" stop-color="#15eaff"/><stop offset="95.8%" stop-color="#0ef1ff"/><stop offset="100%" stop-color="#08f7ff"/></linearGradient><linearGradient id="hd16" x1="0" y1="0" x2="0" y2="1"><stop offset="0%" stop-color="#3ac5ff"/><stop offset="4.2%" stop-color="#4bb4ff"/><stop offset="8.3%" stop-color="#5da2ff"/><stop offset="12.5%" stop-color="#6f90ff"/><stop offset="16.7%" stop-color="#827dff"/><stop offset="20.8%" stop-color="#9669ff"/><stop offset="25%" stop-color="#a758ff"/><stop offset="29.2%" stop-color="#b649ff"/><stop offset="33.3%" stop-color="#c43bff"/><stop offset="37.5%" stop-color="#cf30ff"/><stop offset="41.7%" stop-color="#d12eff"/><stop offset="45.8%" stop-color="#ce31ff"/><stop offset="50%" stop-color="#c53aff"/><stop offset="54.2%" stop-color="#ba45ff"/><stop offset="58.3%" stop-color="#ab54ff"/><stop offset="62.5%" stop-color="#9867ff"/><stop offset="66.7%" stop-color="#847bff"/><stop offset="70.8%" stop-color="#6f90ff"/><stop offset="75%" stop-color="#59a6ff"/><stop offset="79.2%" stop-color="#43bcff"/><stop offset="83.3%" stop-color="#30cfff"/><stop offset="87.5%" stop-color="#21deff"/><stop offset="91.7%" stop-color="#16e9ff"/><stop offset="95.8%" stop-color="#0ef1ff"/><stop offset="100%" stop-color="#08f7ff"/></linearGradient><linearGradient id="hd17" x1="0" y1="0" x2="0" y2="1"><stop offset="0%" stop-color="#3bc4ff"/><stop offset="4.2%" stop-color="#4cb3ff"/><stop offset="8.3%" stop-color="#5ea1ff"/><stop offset="12.5%" stop-color="#708fff"/><stop offset="16.7%" stop-color="#847bff"/><stop offset="20.8%" stop-color="#9768ff"/><stop offset="25%" stop-color="#a956ff"/><stop offset="29.2%" stop-color="#b847ff"/><stop offset="33.3%" stop-color="#c639ff"/><stop offset="37.5%" stop-color="#d22dff"/><stop offset="41.7%" stop-color="#d42bff"/><stop offset="45.8%" stop-color="#d12eff"/><stop offset="50%" stop-color="#c837ff"/><stop offset="54.2%" stop-color="#bd42ff"/><stop offset="58.3%" stop-color="#ae51ff"/><stop offset="62.5%" stop-color="#9b64ff"/><stop offset="66.7%" stop-color="#8778ff"/><stop offset="70.8%" stop-color="#718eff"/><stop offset="75%" stop-color="#5ba4ff"/><stop offset="79.2%" stop-color="#44bbff"/><stop offset="83.3%" stop-color="#31ceff"/><stop offset="87.5%" stop-color="#22ddff"/><stop offset="91.7%" stop-color="#16e9ff"/><stop offset="95.8%" stop-color="#0ef1ff"/><stop offset="100%" stop-color="#08f7ff"/></linearGradient><linearGradient id="hd18" x1="0" y1="0" x2="0" y2="1"><stop offset="0%" stop-color="#3bc4ff"/><stop offset="4.2%" stop-color="#4db2ff"/><stop offset="8.3%" stop-color="#5fa0ff"/><stop offset="12.5%" stop-color="#728dff"/><stop offset="16.7%" stop-color="#857aff"/><stop offset="20.8%" stop-color="#9966ff"/><stop offset="25%" stop-color="#ab54ff"/><stop offset="29.2%" stop-color="#bb44ff"/><stop offset="33.3%" stop-color="#c837ff"/><stop offset="37.5%" stop-color="#d42bff"/><stop offset="41.7%" stop-color="#d728ff"/><stop offset="45.8%" stop-color="#d42bff"/><stop offset="50%" stop-color="#cb34ff"/><stop offset="54.2%" stop-color="#c03fff"/><stop offset="58.3%" stop-color="#b04fff"/><stop offset="62.5%" stop-color="#9d62ff"/><stop offset="66.7%" stop-color="#8976ff"/><stop offset="70.8%" stop-color="#748bff"/><stop offset="75%" stop-color="#5da2ff"/><stop offset="79.2%" stop-color="#46b9ff"/><stop offset="83.3%" stop-color="#32cdff"/><stop offset="87.5%" stop-color="#22ddff"/><stop offset="91.7%" stop-color="#17e8ff"/><stop offset="95.8%" stop-color="#0ff0ff"/><stop offset="100%" stop-color="#08f7ff"/></linearGradient><linearGradient id="hd19" x1="0" y1="0" x2="0" y2="1"><stop offset="0%" stop-color="#3cc3ff"/><stop offset="4.2%" stop-color="#4eb1ff"/><stop offset="8.3%" stop-color="#609fff"/><stop offset="12.5%" stop-color="#738cff"/><stop offset="16.7%" stop-color="#8679ff"/><stop offset="20.8%" stop-color="#9b64ff"/><stop offset="25%" stop-color="#ac53ff"/><stop offset="29.2%" stop-color="#bd42ff"/><stop offset="33.3%" stop-color="#cb34ff"/><stop offset="37.5%" stop-color="#d728ff"/><stop offset="41.7%" stop-color="#da25ff"/><stop offset="45.8%" stop-color="#d629ff"/><stop offset="50%" stop-color="#ce31ff"/><stop offset="54.2%" stop-color="#c33cff"/><stop offset="58.3%" stop-color="#b34cff"/><stop offset="62.5%" stop-color="#a05fff"/><stop offset="66.7%" stop-color="#8b74ff"/><stop offset="70.8%" stop-color="#7689ff"/><stop offset="75%" stop-color="#5fa0ff"/><stop offset="79.2%" stop-color="#47b8ff"/><stop offset="83.3%" stop-color="#33ccff"/><stop offset="87.5%" stop-color="#23dcff"/><stop offset="91.7%" stop-color="#17e8ff"/><stop offset="95.8%" stop-color="#0ff0ff"/><stop offset="100%" stop-color="#08f7ff"/></linearGradient><linearGradient id="hd20" x1="0" y1="0" x2="0" y2="1"><stop offset="0%" stop-color="#3dc2ff"/><stop offset="4.2%" stop-color="#4fb0ff"/><stop offset="8.3%" stop-color="#619eff"/><stop offset="12.5%" stop-color="#748bff"/><stop offset="16.7%" stop-color="#8877ff"/><stop offset="20.8%" stop-color="#9c63ff"/><stop offset="25%" stop-color="#ae51ff"/><stop offset="29.2%" stop-color="#bf40ff"/><stop offset="33.3%" stop-color="#cd32ff"/><stop offset="37.5%" stop-color="#da25ff"/><stop offset="41.7%" stop-color="#dc23ff"/><stop offset="45.8%" stop-color="#d926ff"/><stop offset="50%" stop-color="#d12eff"/><stop offset="54.2%" stop-color="#c639ff"/><stop offset="58.3%" stop-color="#b649ff"/><stop offset="62.5%" stop-color="#a35cff"/><stop offset="66.7%" stop-color="#8e71ff"/><stop offset="70.8%" stop-color="#7887ff"/><stop offset="75%" stop-color="#619eff"/><stop offset="79.2%" stop-color="#48b7ff"/><stop offset="83.3%" stop-color="#34cbff"/><stop offset="87.5%" stop-color="#24dbff"/><stop offset="91.7%" stop-color="#18e7ff"/><stop offset="95.8%" stop-color="#0ff0ff"/><stop offset="100%" stop-color="#08f7ff"/></linearGradient><linearGradient id="hd21" x1="0" y1="0" x2="0" y2="1"><stop offset="0%" stop-color="#3dc2ff"/><stop offset="4.2%" stop-color="#4fb0ff"/><stop offset="8.3%" stop-color="#629dff"/><stop offset="12.5%" stop-color="#758aff"/><stop offset="16.7%" stop-color="#8976ff"/><stop offset="20.8%" stop-color="#9e61ff"/><stop offset="25%" stop-color="#b04fff"/><stop offset="29.2%" stop-color="#c13eff"/><stop offset="33.3%" stop-color="#cf30ff"/><stop offset="37.5%" stop-color="#dc23ff"/><stop offset="41.7%" stop-color="#df20ff"/><stop offset="45.8%" stop-color="#dc23ff"/><stop offset="50%" stop-color="#d42bff"/><stop offset="54.2%" stop-color="#c936ff"/><stop offset="58.3%" stop-color="#b946ff"/><stop offset="62.5%" stop-color="#a55aff"/><stop offset="66.7%" stop-color="#906fff"/><stop offset="70.8%" stop-color="#7a85ff"/><stop offset="75%" stop-color="#629dff"/><stop offset="79.2%" stop-color="#4ab5ff"/><stop offset="83.3%" stop-color="#35caff"/><stop offset="87.5%" stop-color="#25daff"/><stop offset="91.7%" stop-color="#18e7ff"/><stop offset="95.8%" stop-color="#0ff0ff"/><stop offset="100%" stop-color="#08f7ff"/></linearGradient><linearGradient id="hd22" x1="0" y1="0" x2="0" y2="1"><stop offset="0%" stop-color="#3ec1ff"/><stop offset="4.2%" stop-color="#50afff"/><stop offset="8.3%" stop-color="#639cff"/><stop offset="12.5%" stop-color="#7689ff"/><stop offset="16.7%" stop-color="#8b74ff"/><stop offset="20.8%" stop-color="#9f60ff"/><stop offset="25%" stop-color="#b24dff"/><stop offset="29.2%" stop-color="#c33cff"/><stop offset="33.3%" stop-color="#d12eff"/><stop offset="37.5%" stop-color="#de21ff"/><stop offset="41.7%" stop-color="#e11eff"/><stop offset="45.8%" stop-color="#de21ff"/><stop offset="50%" stop-color="#d629ff"/><stop offset="54.2%" stop-color="#cb34ff"/><stop offset="58.3%" stop-color="#bb44ff"/><stop offset="62.5%" stop-color="#a857ff"/><stop offset="66.7%" stop-color="#926dff"/><stop offset="70.8%" stop-color="#7c83ff"/><stop offset="75%" stop-color="#649bff"/><stop offset="79.2%" stop-color="#4bb4ff"/><stop offset="83.3%" stop-color="#36c9ff"/><stop offset="87.5%" stop-color="#25daff"/><stop offset="91.7%" stop-color="#19e6ff"/><stop offset="95.8%" stop-color="#0ff0ff"/><stop offset="100%" stop-color="#08f7ff"/></linearGradient><linearGradient id="hd23" x1="0" y1="0" x2="0" y2="1"><stop offset="0%" stop-color="#3ec1ff"/><stop offset="4.2%" stop-color="#51aeff"/><stop offset="8.3%" stop-color="#649bff"/><stop offset="12.5%" stop-color="#7887ff"/><stop offset="16.7%" stop-color="#8c73ff"/><stop offset="20.8%" stop-color="#a15eff"/><stop offset="25%" stop-color="#b34cff"/><stop offset="29.2%" stop-color="#c43bff"/><stop offset="33.3%" stop-color="#d32cff"/><stop offset="37.5%" stop-color="#e11eff"/><stop offset="41.7%" stop-color="#e41bff"/><stop offset="45.8%" stop-color="#e11eff"/><stop offset="50%" stop-color="#d926ff"/><stop offset="54.2%" stop-color="#ce31ff"/><stop offset="58.3%" stop-color="#be41ff"/><stop offset="62.5%" stop-color="#aa55ff"/><stop offset="66.7%" stop-color="#946bff"/><stop offset="70.8%" stop-color="#7e81ff"/><stop offset="75%" stop-color="#6699ff"/><stop offset="79.2%" stop-color="#4cb3ff"/><stop offset="83.3%" stop-color="#37c8ff"/><stop offset="87.5%" stop-color="#26d9ff"/><stop offset="91.7%" stop-color="#19e6ff"/><stop offset="95.8%" stop-color="#10efff"/><stop offset="100%" stop-color="#08f7ff"/></linearGradient><linearGradient id="hd24" x1="0" y1="0" x2="0" y2="1"><stop offset="0%" stop-color="#3fc0ff"/><stop offset="4.2%" stop-color="#52adff"/><stop offset="8.3%" stop-color="#659aff"/><stop offset="12.5%" stop-color="#7986ff"/><stop offset="16.7%" stop-color="#8d72ff"/><stop offset="20.8%" stop-color="#a25dff"/><stop offset="25%" stop-color="#b54aff"/><stop offset="29.2%" stop-color="#c639ff"/><stop offset="33.3%" stop-color="#d52aff"/><stop offset="37.5%" stop-color="#e31cff"/><stop offset="41.7%" stop-color="#e619ff"/><stop offset="45.8%" stop-color="#e31cff"/><stop offset="50%" stop-color="#db24ff"/><stop offset="54.2%" stop-color="#d02fff"/><stop offset="58.3%" stop-color="#c03fff"/><stop offset="62.5%" stop-color="#ac53ff"/><stop offset="66.7%" stop-color="#9768ff"/><stop offset="70.8%" stop-color="#807fff"/><stop offset="75%" stop-color="#6798ff"/><stop offset="79.2%" stop-color="#4db2ff"/><stop offset="83.3%" stop-color="#38c7ff"/><stop offset="87.5%" stop-color="#27d8ff"/><stop offset="91.7%" stop-color="#19e6ff"/><stop offset="95.8%" stop-color="#10efff"/><stop offset="100%" stop-color="#08f7ff"/></linearGradient><linearGradient id="hd25" x1="0" y1="0" x2="0" y2="1"><stop offset="0%" stop-color="#3fc0ff"/><stop offset="4.2%" stop-color="#52adff"/><stop offset="8.3%" stop-color="#6699ff"/><stop offset="12.5%" stop-color="#7a85ff"/><stop offset="16.7%" stop-color="#8e71ff"/><stop offset="20.8%" stop-color="#a45bff"/><stop offset="25%" stop-color="#b748ff"/><stop offset="29.2%" stop-color="#c837ff"/><stop offset="33.3%" stop-color="#d728ff"/><stop offset="37.5%" stop-color="#e51aff"/><stop offset="41.7%" stop-color="#e817ff"/><stop offset="45.8%" stop-color="#e619ff"/><stop offset="50%" stop-color="#de21ff"/><stop offset="54.2%" stop-color="#d32cff"/><stop offset="58.3%" stop-color="#c33cff"/><stop offset="62.5%" stop-color="#ae51ff"/><stop offset="66.7%" stop-color="#9966ff"/><stop offset="70.8%" stop-color="#817eff"/><stop offset="75%" stop-color="#6996ff"/><stop offset="79.2%" stop-color="#4fb0ff"/><stop offset="83.3%" stop-color="#39c6ff"/><stop offset="87.5%" stop-color="#27d8ff"/><stop offset="91.7%" stop-color="#1ae5ff"/><stop offset="95.8%" stop-color="#10efff"/><stop offset="100%" stop-color="#08f7ff"/></linearGradient><linearGradient id="hd26" x1="0" y1="0" x2="0" y2="1"><stop offset="0%" stop-color="#40bfff"/><stop offset="4.2%" stop-color="#53acff"/><stop offset="8.3%" stop-color="#6798ff"/><stop offset="12.5%" stop-color="#7b84ff"/><stop offset="16.7%" stop-color="#906fff"/><stop offset="20.8%" stop-color="#a55aff"/><stop offset="25%" stop-color="#b847ff"/><stop offset="29.2%" stop-color="#ca35ff"/><stop offset="33.3%" stop-color="#d926ff"/><stop offset="37.5%" stop-color="#e718ff"/><stop offset="41.7%" stop-color="#eb14ff"/><stop offset="45.8%" stop-color="#e817ff"/><stop offset="50%" stop-color="#e01fff"/><stop offset="54.2%" stop-color="#d52aff"/><stop offset="58.3%" stop-color="#c53aff"/><stop offset="62.5%" stop-color="#b14eff"/><stop offset="66.7%" stop-color="#9b64ff"/><stop offset="70.8%" stop-color="#837cff"/><stop offset="75%" stop-color="#6a95ff"/><stop offset="79.2%" stop-color="#50afff"/><stop offset="83.3%" stop-color="#3ac5ff"/><stop offset="87.5%" stop-color="#28d7ff"/><stop offset="91.7%" stop-color="#1ae5ff"/><stop offset="95.8%" stop-color="#10efff"/><stop offset="100%" stop-color="#08f7ff"/></linearGradient><linearGradient id="hd27" x1="0" y1="0" x2="0" y2="1"><stop offset="0%" stop-color="#40bfff"/><stop offset="4.2%" stop-color="#54abff"/><stop offset="8.3%" stop-color="#6798ff"/><stop offset="12.5%" stop-color="#7c83ff"/><stop offset="16.7%" stop-color="#916eff"/><stop offset="20.8%" stop-color="#a659ff"/><stop offset="25%" stop-color="#ba45ff"/><stop offset="29.2%" stop-color="#cb34ff"/><stop offset="33.3%" stop-color="#db24ff"/><stop offset="37.5%" stop-color="#e916ff"/><stop offset="41.7%" stop-color="#ed12ff"/><stop offset="45.8%" stop-color="#ea15ff"/><stop offset="50%" stop-color="#e21dff"/><stop offset="54.2%" stop-color="#d827ff"/><stop offset="58.3%" stop-color="#c738ff"/><stop offset="62.5%" stop-color="#b34cff"/><stop offset="66.7%" stop-color="#9c63ff"/><stop offset="70.8%" stop-color="#857aff"/><stop offset="75%" stop-color="#6b94ff"/><stop offset="79.2%" stop-color="#51aeff"/><stop offset="83.3%" stop-color="#3bc4ff"/><stop offset="87.5%" stop-color="#28d7ff"/><stop offset="91.7%" stop-color="#1be4ff"/><stop offset="95.8%" stop-color="#11eeff"/><stop offset="100%" stop-color="#08f7ff"/></linearGradient><linearGradient id="hd28" x1="0" y1="0" x2="0" y2="1"><stop offset="0%" stop-color="#41beff"/><stop offset="4.2%" stop-color="#54abff"/><stop offset="8.3%" stop-color="#6897ff"/><stop offset="12.5%" stop-color="#7d82ff"/><stop offset="16.7%" stop-color="#926dff"/><stop offset="20.8%" stop-color="#a758ff"/><stop offset="25%" stop-color="#bb44ff"/><stop offset="29.2%" stop-color="#cd32ff"/><stop offset="33.3%" stop-color="#dd22ff"/><stop offset="37.5%" stop-color="#eb14ff"/><stop offset="41.7%" stop-color="#ef10ff"/><stop offset="45.8%" stop-color="#ec13ff"/><stop offset="50%" stop-color="#e51aff"/><stop offset="54.2%" stop-color="#da25ff"/><stop offset="58.3%" stop-color="#c936ff"/><stop offset="62.5%" stop-color="#b54aff"/><stop offset="66.7%" stop-color="#9e61ff"/><stop offset="70.8%" stop-color="#8679ff"/><stop offset="75%" stop-color="#6d92ff"/><stop offset="79.2%" stop-color="#52adff"/><stop offset="83.3%" stop-color="#3bc4ff"/><stop offset="87.5%" stop-color="#29d6ff"/><stop offset="91.7%" stop-color="#1be4ff"/><stop offset="95.8%" stop-color="#11eeff"/><stop offset="100%" stop-color="#08f7ff"/></linearGradient><linearGradient id="hd29" x1="0" y1="0" x2="0" y2="1"><stop offset="0%" stop-color="#41beff"/><stop offset="4.2%" stop-color="#55aaff"/><stop offset="8.3%" stop-color="#6996ff"/><stop offset="12.5%" stop-color="#7d82ff"/><stop offset="16.7%" stop-color="#936cff"/><stop offset="20.8%" stop-color="#a956ff"/><stop offset="25%" stop-color="#bc43ff"/><stop offset="29.2%" stop-color="#ce31ff"/><stop offset="33.3%" stop-color="#de21ff"/><stop offset="37.5%" stop-color="#ed12ff"/><stop offset="41.7%" stop-color="#f10eff"/><stop offset="45.8%" stop-color="#ef10ff"/><stop offset="50%" stop-color="#e718ff"/><stop offset="54.2%" stop-color="#dc23ff"/><stop offset="58.3%" stop-color="#cb34ff"/><stop offset="62.5%" stop-color="#b748ff"/><stop offset="66.7%" stop-color="#a05fff"/><stop offset="70.8%" stop-color="#8877ff"/><stop offset="75%" stop-color="#6e91ff"/><stop offset="79.2%" stop-color="#53acff"/><stop offset="83.3%" stop-color="#3cc3ff"/><stop offset="87.5%" stop-color="#29d6ff"/><stop offset="91.7%" stop-color="#1be4ff"/><stop offset="95.8%" stop-color="#11eeff"/><stop offset="100%" stop-color="#08f7ff"/></linearGradient><linearGradient id="hd30" x1="0" y1="0" x2="0" y2="1"><stop offset="0%" stop-color="#42bdff"/><stop offset="4.2%" stop-color="#55aaff"/><stop offset="8.3%" stop-color="#6a95ff"/><stop offset="12.5%" stop-color="#7e81ff"/><stop offset="16.7%" stop-color="#946bff"/><stop offset="20.8%" stop-color="#aa55ff"/><stop offset="25%" stop-color="#be41ff"/><stop offset="29.2%" stop-color="#d02fff"/><stop offset="33.3%" stop-color="#e01fff"/><stop offset="37.5%" stop-color="#ef10ff"/><stop offset="41.7%" stop-color="#f30cff"/><stop offset="45.8%" stop-color="#f00fff"/><stop offset="50%" stop-color="#e916ff"/><stop offset="54.2%" stop-color="#de21ff"/><stop offset="58.3%" stop-color="#cd32ff"/><stop offset="62.5%" stop-color="#b847ff"/><stop offset="66.7%" stop-color="#a25dff"/><stop offset="70.8%" stop-color="#8976ff"/><stop offset="75%" stop-color="#6f90ff"/><stop offset="79.2%" stop-color="#54abff"/><stop offset="83.3%" stop-color="#3dc2ff"/><stop offset="87.5%" stop-color="#2ad5ff"/><stop offset="91.7%" stop-color="#1ce3ff"/><stop offset="95.8%" stop-color="#11eeff"/><stop offset="100%" stop-color="#08f7ff"/></linearGradient><linearGradient id="hd31" x1="0" y1="0" x2="0" y2="1"><stop offset="0%" stop-color="#42bdff"/><stop offset="4.2%" stop-color="#56a9ff"/><stop offset="8.3%" stop-color="#6a95ff"/><stop offset="12.5%" stop-color="#7f80ff"/><stop offset="16.7%" stop-color="#956aff"/><stop offset="20.8%" stop-color="#ab54ff"/><stop offset="25%" stop-color="#bf40ff"/><stop offset="29.2%" stop-color="#d12eff"/><stop offset="33.3%" stop-color="#e11eff"/><stop offset="37.5%" stop-color="#f00fff"/><stop offset="41.7%" stop-color="#f40bff"/><stop offset="45.8%" stop-color="#f20dff"/><stop offset="50%" stop-color="#eb14ff"/><stop offset="54.2%" stop-color="#e01fff"/><stop offset="58.3%" stop-color="#cf30ff"/><stop offset="62.5%" stop-color="#ba45ff"/><stop offset="66.7%" stop-color="#a35cff"/><stop offset="70.8%" stop-color="#8b74ff"/><stop offset="75%" stop-color="#718eff"/><stop offset="79.2%" stop-color="#55aaff"/><stop offset="83.3%" stop-color="#3ec1ff"/><stop offset="87.5%" stop-color="#2ad5ff"/><stop offset="91.7%" stop-color="#1ce3ff"/><stop offset="95.8%" stop-color="#11eeff"/><stop offset="100%" stop-color="#08f7ff"/></linearGradient><linearGradient id="hd32" x1="0" y1="0" x2="0" y2="1"><stop offset="0%" stop-color="#42bdff"/><stop offset="4.2%" stop-color="#56a9ff"/><stop offset="8.3%" stop-color="#6b94ff"/><stop offset="12.5%" stop-color="#807fff"/><stop offset="16.7%" stop-color="#9669ff"/><stop offset="20.8%" stop-color="#ac53ff"/><stop offset="25%" stop-color="#c03fff"/><stop offset="29.2%" stop-color="#d22dff"/><stop offset="33.3%" stop-color="#e31cff"/><stop offset="37.5%" stop-color="#f20dff"/><stop offset="41.7%" stop-color="#f609ff"/><stop offset="45.8%" stop-color="#f40bff"/><stop offset="50%" stop-color="#ec13ff"/><stop offset="54.2%" stop-color="#e21dff"/><stop offset="58.3%" stop-color="#d12eff"/><stop offset="62.5%" stop-color="#bc43ff"/><stop offset="66.7%" stop-color="#a55aff"/><stop offset="70.8%" stop-color="#8c73ff"/><stop offset="75%" stop-color="#728dff"/><stop offset="79.2%" stop-color="#56a9ff"/><stop offset="83.3%" stop-color="#3ec1ff"/><stop offset="87.5%" stop-color="#2bd4ff"/><stop offset="91.7%" stop-color="#1ce3ff"/><stop offset="95.8%" stop-color="#11eeff"/><stop offset="100%" stop-color="#08f7ff"/></linearGradient><linearGradient id="hd33" x1="0" y1="0" x2="0" y2="1"><stop offset="0%" stop-color="#43bcff"/><stop offset="4.2%" stop-color="#57a8ff"/><stop offset="8.3%" stop-color="#6c93ff"/><stop offset="12.5%" stop-color="#817eff"/><stop offset="16.7%" stop-color="#9669ff"/><stop offset="20.8%" stop-color="#ad52ff"/><stop offset="25%" stop-color="#c13eff"/><stop offset="29.2%" stop-color="#d42bff"/><stop offset="33.3%" stop-color="#e41bff"/><stop offset="37.5%" stop-color="#f30cff"/><stop offset="41.7%" stop-color="#f807ff"/><stop offset="45.8%" stop-color="#f609ff"/><stop offset="50%" stop-color="#ee11ff"/><stop offset="54.2%" stop-color="#e31cff"/><stop offset="58.3%" stop-color="#d22dff"/><stop offset="62.5%" stop-color="#bd42ff"/><stop offset="66.7%" stop-color="#a659ff"/><stop offset="70.8%" stop-color="#8d72ff"/><stop offset="75%" stop-color="#738cff"/><stop offset="79.2%" stop-color="#56a9ff"/><stop offset="83.3%" stop-color="#3fc0ff"/><stop offset="87.5%" stop-color="#2bd4ff"/><stop offset="91.7%" stop-color="#1ce3ff"/><stop offset="95.8%" stop-color="#11eeff"/><stop offset="100%" stop-color="#08f7ff"/></linearGradient><linearGradient id="hd34" x1="0" y1="0" x2="0" y2="1"><stop offset="0%" stop-color="#43bcff"/><stop offset="4.2%" stop-color="#57a8ff"/><stop offset="8.3%" stop-color="#6c93ff"/><stop offset="12.5%" stop-color="#817eff"/><stop offset="16.7%" stop-color="#9768ff"/><stop offset="20.8%" stop-color="#ae51ff"/><stop offset="25%" stop-color="#c23dff"/><stop offset="29.2%" stop-color="#d52aff"/><stop offset="33.3%" stop-color="#e51aff"/><stop offset="37.5%" stop-color="#f50aff"/><stop offset="41.7%" stop-color="#f906ff"/><stop offset="45.8%" stop-color="#f708ff"/><stop offset="50%" stop-color="#f00fff"/><stop offset="54.2%" stop-color="#e51aff"/><stop offset="58.3%" stop-color="#d42bff"/><stop offset="62.5%" stop-color="#bf40ff"/><stop offset="66.7%" stop-color="#a758ff"/><stop offset="70.8%" stop-color="#8e71ff"/><stop offset="75%" stop-color="#748bff"/><stop offset="79.2%" stop-color="#57a8ff"/><stop offset="83.3%" stop-color="#3fc0ff"/><stop offset="87.5%" stop-color="#2cd3ff"/><stop offset="91.7%" stop-color="#1de2ff"/><stop offset="95.8%" stop-color="#12edff"/><stop offset="100%" stop-color="#08f7ff"/></linearGradient><linearGradient id="hd35" x1="0" y1="0" x2="0" y2="1"><stop offset="0%" stop-color="#43bcff"/><stop offset="4.2%" stop-color="#58a7ff"/><stop offset="8.3%" stop-color="#6d92ff"/><stop offset="12.5%" stop-color="#827dff"/><stop offset="16.7%" stop-color="#9867ff"/><stop offset="20.8%" stop-color="#af50ff"/><stop offset="25%" stop-color="#c33cff"/><stop offset="29.2%" stop-color="#d629ff"/><stop offset="33.3%" stop-color="#e718ff"/><stop offset="37.5%" stop-color="#f609ff"/><stop offset="41.7%" stop-color="#fa05ff"/><stop offset="45.8%" stop-color="#f906ff"/><stop offset="50%" stop-color="#f10eff"/><stop offset="54.2%" stop-color="#e619ff"/><stop offset="58.3%" stop-color="#d52aff"/><stop offset="62.5%" stop-color="#c03fff"/><stop offset="66.7%" stop-color="#a956ff"/><stop offset="70.8%" stop-color="#906fff"/><stop offset="75%" stop-color="#748bff"/><stop offset="79.2%" stop-color="#58a7ff"/><stop offset="83.3%" stop-color="#40bfff"/><stop offset="87.5%" stop-color="#2cd3ff"/><stop offset="91.7%" stop-color="#1de2ff"/><stop offset="95.8%" stop-color="#12edff"/><stop offset="100%" stop-color="#08f7ff"/></linearGradient><linearGradient id="hd36" x1="0" y1="0" x2="0" y2="1"><stop offset="0%" stop-color="#44bbff"/><stop offset="4.2%" stop-color="#58a7ff"/><stop offset="8.3%" stop-color="#6d92ff"/><stop offset="12.5%" stop-color="#827dff"/><stop offset="16.7%" stop-color="#9966ff"/><stop offset="20.8%" stop-color="#af50ff"/><stop offset="25%" stop-color="#c43bff"/><stop offset="29.2%" stop-color="#d728ff"/><stop offset="33.3%" stop-color="#e817ff"/><stop offset="37.5%" stop-color="#f708ff"/><stop offset="41.7%" stop-color="#fb04ff"/><stop offset="45.8%" stop-color="#fa05ff"/><stop offset="50%" stop-color="#f20dff"/><stop offset="54.2%" stop-color="#e718ff"/><stop offset="58.3%" stop-color="#d728ff"/><stop offset="62.5%" stop-color="#c13eff"/><stop offset="66.7%" stop-color="#aa55ff"/><stop offset="70.8%" stop-color="#906fff"/><stop offset="75%" stop-color="#758aff"/><stop offset="79.2%" stop-color="#58a7ff"/><stop offset="83.3%" stop-color="#40bfff"/><stop offset="87.5%" stop-color="#2cd3ff"/><stop offset="91.7%" stop-color="#1de2ff"/><stop offset="95.8%" stop-color="#12edff"/><stop offset="100%" stop-color="#08f7ff"/></linearGradient><linearGradient id="hd37" x1="0" y1="0" x2="0" y2="1"><stop offset="0%" stop-color="#44bbff"/><stop offset="4.2%" stop-color="#58a7ff"/><stop offset="8.3%" stop-color="#6d92ff"/><stop offset="12.5%" stop-color="#837cff"/><stop offset="16.7%" stop-color="#9966ff"/><stop offset="20.8%" stop-color="#b04fff"/><stop offset="25%" stop-color="#c43bff"/><stop offset="29.2%" stop-color="#d728ff"/><stop offset="33.3%" stop-color="#e817ff"/><stop offset="37.5%" stop-color="#f807ff"/><stop offset="41.7%" stop-color="#fd02ff"/><stop offset="45.8%" stop-color="#fb04ff"/><stop offset="50%" stop-color="#f30cff"/><stop offset="54.2%" stop-color="#e916ff"/><stop offset="58.3%" stop-color="#d827ff"/><stop offset="62.5%" stop-color="#c23dff"/><stop offset="66.7%" stop-color="#ab54ff"/><stop offset="70.8%" stop-color="#916eff"/><stop offset="75%" stop-color="#7689ff"/><stop offset="79.2%" stop-color="#59a6ff"/><stop offset="83.3%" stop-color="#41beff"/><stop offset="87.5%" stop-color="#2dd2ff"/><stop offset="91.7%" stop-color="#1de2ff"/><stop offset="95.8%" stop-color="#12edff"/><stop offset="100%" stop-color="#08f7ff"/></linearGradient><linearGradient id="hd38" x1="0" y1="0" x2="0" y2="1"><stop offset="0%" stop-color="#44bbff"/><stop offset="4.2%" stop-color="#59a6ff"/><stop offset="8.3%" stop-color="#6e91ff"/><stop offset="12.5%" stop-color="#837cff"/><stop offset="16.7%" stop-color="#9a65ff"/><stop offset="20.8%" stop-color="#b04fff"/><stop offset="25%" stop-color="#c53aff"/><stop offset="29.2%" stop-color="#d827ff"/><stop offset="33.3%" stop-color="#e916ff"/><stop offset="37.5%" stop-color="#f906ff"/><stop offset="41.7%" stop-color="#fd02ff"/><stop offset="45.8%" stop-color="#fc03ff"/><stop offset="50%" stop-color="#f40bff"/><stop offset="54.2%" stop-color="#e916ff"/><stop offset="58.3%" stop-color="#d926ff"/><stop offset="62.5%" stop-color="#c33cff"/><stop offset="66.7%" stop-color="#ab54ff"/><stop offset="70.8%" stop-color="#926dff"/><stop offset="75%" stop-color="#7689ff"/><stop offset="79.2%" stop-color="#59a6ff"/><stop offset="83.3%" stop-color="#41beff"/><stop offset="87.5%" stop-color="#2dd2ff"/><stop offset="91.7%" stop-color="#1de2ff"/><stop offset="95.8%" stop-color="#12edff"/><stop offset="100%" stop-color="#08f7ff"/></linearGradient><linearGradient id="hd39" x1="0" y1="0" x2="0" y2="1"><stop offset="0%" stop-color="#44bbff"/><stop offset="4.2%" stop-color="#59a6ff"/><stop offset="8.3%" stop-color="#6e91ff"/><stop offset="12.5%" stop-color="#847bff"/><stop offset="16.7%" stop-color="#9a65ff"/><stop offset="20.8%" stop-color="#b14eff"/><stop offset="25%" stop-color="#c53aff"/><stop offset="29.2%" stop-color="#d827ff"/><stop offset="33.3%" stop-color="#ea15ff"/><stop offset="37.5%" stop-color="#f906ff"/><stop offset="41.7%" stop-color="#fe01ff"/><stop offset="45.8%" stop-color="#fc03ff"/><stop offset="50%" stop-color="#f50aff"/><stop offset="54.2%" stop-color="#ea15ff"/><stop offset="58.3%" stop-color="#d926ff"/><stop offset="62.5%" stop-color="#c43bff"/><stop offset="66.7%" stop-color="#ac53ff"/><stop offset="70.8%" stop-color="#926dff"/><stop offset="75%" stop-color="#7788ff"/><stop offset="79.2%" stop-color="#5aa5ff"/><stop offset="83.3%" stop-color="#41beff"/><stop offset="87.5%" stop-color="#2dd2ff"/><stop offset="91.7%" stop-color="#1de2ff"/><stop offset="95.8%" stop-color="#12edff"/><stop offset="100%" stop-color="#08f7ff"/></linearGradient><linearGradient id="cbar" x1="0" y1="1" x2="0" y2="0"><stop offset="0" stop-color="#08f7ff"/><stop offset="1" stop-color="#ff00ff"/></linearGradient></defs>
<g shape-rendering="crispEdges"><rect x="1164.7" y="687" width="16.6" height="471" fill="url(#hd0)"/><rect x="1180.5" y="687" width="16.6" height="471" fill="url(#hd1)"/><rect x="1196.4" y="687" width="16.6" height="471" fill="url(#hd2)"/><rect x="1212.2" y="687" width="16.6" height="471" fill="url(#hd3)"/><rect x="1228.1" y="687" width="16.6" height="471" fill="url(#hd4)"/><rect x="1244" y="687" width="16.6" height="471" fill="url(#hd5)"/><rect x="1259.8" y="687" width="16.6" height="471" fill="url(#hd6)"/><rect x="1275.7" y="687" width="16.6" height="471" fill="url(#hd7)"/><rect x="1291.5" y="687" width="16.6" height="471" fill="url(#hd8)"/><rect x="1307.4" y="687" width="16.6" height="471" fill="url(#hd9)"/><rect x="1323.2" y="687" width="16.6" height="471" fill="url(#hd10)"/><rect x="1339" y="687" width="16.6" height="471" fill="url(#hd11)"/><rect x="1354.9" y="687" width="16.6" height="471" fill="url(#hd12)"/><rect x="1370.8" y="687" width="16.6" height="471" fill="url(#hd13)"/><rect x="1386.6" y="687" width="16.6" height="471" fill="url(#hd14)"/><rect x="1402.5" y="687" width="16.6" height="471" fill="url(#hd15)"/><rect x="1418.3" y="687" width="16.6" height="471" fill="url(#hd16)"/><rect x="1434.2" y="687" width="16.6" height="471" fill="url(#hd17)"/><rect x="1450" y="687" width="16.6" height="471" fill="url(#hd18)"/><rect x="1465.9" y="687" width="16.6" height="471" fill="url(#hd19)"/><rect x="1481.7" y="687" width="16.6" height="471" fill="url(#hd20)"/><rect x="1497.5" y="687" width="16.6" height="471" fill="url(#hd21)"/><rect x="1513.4" y="687" width="16.6" height="471" fill="url(#hd22)"/><rect x="1529.2" y="687" width="16.6" height="471" fill="url(#hd23)"/><rect x="1545.1" y="687" width="16.6" height="471" fill="url(#hd24)"/><rect x="1561" y="687" width="16.6" height="471" fill="url(#hd25)"/><rect x="1576.8" y="687" width="16.6" height="471" fill="url(#hd26)"/><rect x="1592.7" y="687" width="16.6" height="471" fill="url(#hd27)"/><rect x="1608.5" y="687" width="16.6" height="471" fill="url(#hd28)"/><rect x="1624.4" y="687" width="16.6" height="471" fill="url(#hd29)"/><rect x="1640.2" y="687" width="16.6" height="471" fill="url(#hd30)"/><rect x="1656" y="687" width="16.6" height="471" fill="url(#hd31)"/><rect x="1671.9" y="687" width="16.6" height="471" fill="url(#hd32)"/><rect x="1687.8" y="687" width="16.6" height="471" fill="url(#hd33)"/><rect x="1703.6" y="687" width="16.6" height="471" fill="url(#hd34)"/><rect x="1719.5" y="687" width="16.6" height="471" fill="url(#hd35)"/><rect x="1735.3" y="687" width="16.6" height="471" fill="url(#hd36)"/><rect x="1751.1" y="687" width="16.6" height="471" fill="url(#hd37)"/><rect x="1767" y="687" width="16.6" height="471" fill="url(#hd38)"/><rect x="1782.9" y="687" width="16.6" height="471" fill="url(#hd39)"/></g>
<path d="M1165 1158v-16M1376.3 1158v-16M1587.7 1158v-16M1799 1158v-16M1165 1147.5h16M1165 990h16M1165 832.5h16" stroke="#000" stroke-width="4.4" fill="none"/>
<rect x="1165" y="687" width="634" height="471" fill="none" stroke="#000" stroke-width="2.8"/>
<text x="1165" y="1197" font-size="37" text-anchor="middle" font-family="DejaVu Sans, Liberation Sans, sans-serif" >−3</text>
<text x="1376.3" y="1197" font-size="37" text-anchor="middle" font-family="DejaVu Sans, Liberation Sans, sans-serif" >−2</text>
<text x="1587.7" y="1197" font-size="37" text-anchor="middle" font-family="DejaVu Sans, Liberation Sans, sans-serif" >−1</text>
<text x="1799" y="1197" font-size="37" text-anchor="middle" font-family="DejaVu Sans, Liberation Sans, sans-serif" >0</text>
<text x="1155" y="1161.5" font-size="37" text-anchor="end" font-family="DejaVu Sans, Liberation Sans, sans-serif" >1520</text>
<text x="1155" y="1004" font-size="37" text-anchor="end" font-family="DejaVu Sans, Liberation Sans, sans-serif" >1540</text>
<text x="1155" y="846.5" font-size="37" text-anchor="end" font-family="DejaVu Sans, Liberation Sans, sans-serif" >1560</text>
<text x="1482" y="1244" font-size="37" text-anchor="middle" font-family="DejaVu Sans, Liberation Sans, sans-serif" >EAM Voltage (V)</text>
<text transform="translate(1041 922) rotate(-90)" font-size="37" text-anchor="middle" font-family="DejaVu Sans, Liberation Sans, sans-serif" >Wavelength (nm)</text>
<rect x="1837" y="687" width="24" height="471" fill="url(#cbar)" stroke="#000" stroke-width="2.2"/>
<text x="1880.8" y="1086.1" font-size="28" text-anchor="start" font-family="DejaVu Sans, Liberation Sans, sans-serif" >0.2</text>
<text x="1880.8" y="988.9" font-size="28" text-anchor="start" font-family="DejaVu Sans, Liberation Sans, sans-serif" >0.4</text>
<text x="1880.8" y="891.8" font-size="28" text-anchor="start" font-family="DejaVu Sans, Liberation Sans, sans-serif" >0.6</text>
<text x="1880.8" y="794.7" font-size="28" text-anchor="start" font-family="DejaVu Sans, Liberation Sans, sans-serif" >0.8</text>
<text x="1880.8" y="697.6" font-size="28" text-anchor="start" font-family="DejaVu Sans, Liberation Sans, sans-serif" >1.0</text>
<path d="M1861 1075.5h10M1861 978.3h10M1861 881.2h10M1861 784.1h10M1861 687h10" stroke="#000" stroke-width="2.8" fill="none"/>
<text transform="translate(1965.2 924) rotate(-90)" font-size="37" text-anchor="middle" font-family="DejaVu Sans, Liberation Sans, sans-serif" >Relative Transmission</text>
<text x="1067.3" y="716.3" font-size="46.5" font-family="DejaVu Sans, Liberation Sans, sans-serif" textLength="43.2" lengthAdjust="spacingAndGlyphs">d)</text>
</g>
<g id="panel-e">
<path d="M129.5 1302V1756.8M271.6 1302V1756.8M413.6 1302V1756.8M555.7 1302V1756.8M697.7 1302V1756.8M839.8 1302V1756.8M89 1736.7H968.3M89 1595.9H968.3M89 1455.1H968.3M89 1314.3H968.3" stroke="#b0b0b0" stroke-opacity="0.5" stroke-width="2.4" fill="none"/>
<polyline points="129.5,1736.7 289.3,1687.6 449.1,1643.1 608.9,1597.6 768.7,1554.6 928.5,1515.7" fill="none" stroke="#00ffff" stroke-opacity="0.3" stroke-width="4.2" stroke-dasharray="15.5 6.7"/>
<polyline points="129.5,1736.7 289.3,1679 449.1,1624.4 608.9,1567.3 768.7,1511.6 928.5,1456.5" fill="none" stroke="#33ccff" stroke-opacity="0.3" stroke-width="4.2" stroke-dasharray="15.5 6.7"/>
<polyline points="129.5,1736.7 289.3,1669.9 449.1,1600.1 608.9,1529.8 768.7,1459 928.5,1388.2" fill="none" stroke="#6699ff" stroke-opacity="0.3" stroke-width="4.2" stroke-dasharray="15.5 6.7"/>
<polyline points="129.5,1736.7 289.3,1663.9 449.1,1589 608.9,1505.6 768.7,1426.1 928.5,1341" fill="none" stroke="#9966ff" stroke-opacity="0.3" stroke-width="4.2" stroke-dasharray="15.5 6.7"/>
<polyline points="129.5,1736.7 289.3,1657.8 449.1,1574.3 608.9,1494.4 768.7,1409.4 928.5,1333.7" fill="none" stroke="#cc33ff" stroke-opacity="0.3" stroke-width="4.2" stroke-dasharray="15.5 6.7"/>
<polyline points="129.5,1736.7 289.3,1653.8 449.1,1571.3 608.9,1486.3 768.7,1402.9 928.5,1327.3" fill="none" stroke="#ff00ff" stroke-opacity="0.3" stroke-width="4.2" stroke-dasharray="15.5 6.7"/>
<path d="M120.9 1728.1l17.2 17.2m0 -17.2l-17.2 17.2M280.7 1679l17.2 17.2m0 -17.2l-17.2 17.2M440.5 1634.5l17.2 17.2m0 -17.2l-17.2 17.2M600.3 1589l17.2 17.2m0 -17.2l-17.2 17.2M760.1 1546l17.2 17.2m0 -17.2l-17.2 17.2M919.9 1507.1l17.2 17.2m0 -17.2l-17.2 17.2" stroke="#00ffff" stroke-width="4.6" fill="none"/>
<path d="M120.9 1728.1l17.2 17.2m0 -17.2l-17.2 17.2M280.7 1670.4l17.2 17.2m0 -17.2l-17.2 17.2M440.5 1615.8l17.2 17.2m0 -17.2l-17.2 17.2M600.3 1558.7l17.2 17.2m0 -17.2l-17.2 17.2M760.1 1503l17.2 17.2m0 -17.2l-17.2 17.2M919.9 1447.9l17.2 17.2m0 -17.2l-17.2 17.2" stroke="#33ccff" stroke-width="4.6" fill="none"/>
<path d="M120.9 1728.1l17.2 17.2m0 -17.2l-17.2 17.2M280.7 1661.3l17.2 17.2m0 -17.2l-17.2 17.2M440.5 1591.5l17.2 17.2m0 -17.2l-17.2 17.2M600.3 1521.2l17.2 17.2m0 -17.2l-17.2 17.2M760.1 1450.4l17.2 17.2m0 -17.2l-17.2 17.2M919.9 1379.6l17.2 17.2m0 -17.2l-17.2 17.2" stroke="#6699ff" stroke-width="4.6" fill="none"/>
<path d="M120.9 1728.1l17.2 17.2m0 -17.2l-17.2 17.2M280.7 1655.3l17.2 17.2m0 -17.2l-17.2 17.2M440.5 1580.4l17.2 17.2m0 -17.2l-17.2 17.2M600.3 1497l17.2 17.2m0 -17.2l-17.2 17.2M760.1 1417.5l17.2 17.2m0 -17.2l-17.2 17.2M919.9 1332.4l17.2 17.2m0 -17.2l-17.2 17.2" stroke="#9966ff" stroke-width="4.6" fill="none"/>
<path d="M120.9 1728.1l17.2 17.2m0 -17.2l-17.2 17.2M280.7 1649.2l17.2 17.2m0 -17.2l-17.2 17.2M440.5 1565.7l17.2 17.2m0 -17.2l-17.2 17.2M600.3 1485.8l17.2 17.2m0 -17.2l-17.2 17.2M760.1 1400.8l17.2 17.2m0 -17.2l-17.2 17.2M919.9 1325.1l17.2 17.2m0 -17.2l-17.2 17.2" stroke="#cc33ff" stroke-width="4.6" fill="none"/>
<path d="M120.9 1728.1l17.2 17.2m0 -17.2l-17.2 17.2M280.7 1645.2l17.2 17.2m0 -17.2l-17.2 17.2M440.5 1562.7l17.2 17.2m0 -17.2l-17.2 17.2M600.3 1477.7l17.2 17.2m0 -17.2l-17.2 17.2M760.1 1394.3l17.2 17.2m0 -17.2l-17.2 17.2M919.9 1318.7l17.2 17.2m0 -17.2l-17.2 17.2" stroke="#ff00ff" stroke-width="4.6" fill="none"/>
<path d="M89 1736.7h10M89 1595.9h10M89 1455.1h10M89 1314.3h10" stroke="#000" stroke-width="5" fill="none"/>
<path d="M129.5 1756.8v-16M271.6 1756.8v-16M413.6 1756.8v-16M555.7 1756.8v-16M697.7 1756.8v-16M839.8 1756.8v-16" stroke="#000" stroke-width="3.8" fill="none"/>
<rect x="89" y="1302" width="879.3" height="454.8" fill="none" stroke="#000" stroke-width="2.8"/>
<text x="129.5" y="1794.2" font-size="37" text-anchor="middle" font-family="DejaVu Sans, Liberation Sans, sans-serif" >0.0</text>
<text x="271.6" y="1794.2" font-size="37" text-anchor="middle" font-family="DejaVu Sans, Liberation Sans, sans-serif" >0.5</text>
<text x="413.6" y="1794.2" font-size="37" text-anchor="middle" font-family="DejaVu Sans, Liberation Sans, sans-serif" >1.0</text>
<text x="555.7" y="1794.2" font-size="37" text-anchor="middle" font-family="DejaVu Sans, Liberation Sans, sans-serif" >1.5</text>
<text x="697.7" y="1794.2" font-size="37" text-anchor="middle" font-family="DejaVu Sans, Liberation Sans, sans-serif" >2.0</text>
<text x="839.8" y="1794.2" font-size="37" text-anchor="middle" font-family="DejaVu Sans, Liberation Sans, sans-serif" >2.5</text>
<text x="80.5" y="1750.7" font-size="37" text-anchor="end" font-family="DejaVu Sans, Liberation Sans, sans-serif" >0</text>
<text x="80.5" y="1609.9" font-size="37" text-anchor="end" font-family="DejaVu Sans, Liberation Sans, sans-serif" >1</text>
<text x="80.5" y="1469.1" font-size="37" text-anchor="end" font-family="DejaVu Sans, Liberation Sans, sans-serif" >2</text>
<text x="80.5" y="1328.3" font-size="37" text-anchor="end" font-family="DejaVu Sans, Liberation Sans, sans-serif" >3</text>
<text x="529" y="1841" font-size="37" text-anchor="middle" font-family="DejaVu Sans, Liberation Sans, sans-serif" >Opt. Input Power (mW)</text>
<text transform="translate(37 1527) rotate(-90)" font-size="37" text-anchor="middle" font-family="DejaVu Sans, Liberation Sans, sans-serif" >Photocurrent (mA)</text>
<text x="-2.5" y="1270.7" font-size="46.5" font-family="DejaVu Sans, Liberation Sans, sans-serif" textLength="42.5" lengthAdjust="spacingAndGlyphs">e)</text>
<rect x="670.5" y="1600.5" width="287" height="144" rx="5" fill="#fff" fill-opacity="0.8" stroke="#ccc" stroke-opacity="0.75" stroke-width="2"/>
<text x="814" y="1631.5" font-size="28.4" text-anchor="middle" font-family="DejaVu Sans, Liberation Sans, sans-serif"><tspan font-style="italic">V</tspan><tspan font-style="italic" font-size="19.9" dy="5.6">PD</tspan><tspan dy="-5.6"> (V)</tspan></text>
<path d="M692.6 1650.1l18 18m0 -18l-18 18" stroke="#00ffff" stroke-width="4.6" fill="none"/>
<text x="732" y="1665.5" font-size="22.4" text-anchor="start" font-family="DejaVu Sans, Liberation Sans, sans-serif" >0.00 V</text>
<path d="M692.6 1683l18 18m0 -18l-18 18" stroke="#33ccff" stroke-width="4.6" fill="none"/>
<text x="732" y="1698.4" font-size="22.4" text-anchor="start" font-family="DejaVu Sans, Liberation Sans, sans-serif" >1.00 V</text>
<path d="M692.6 1715.9l18 18m0 -18l-18 18" stroke="#6699ff" stroke-width="4.6" fill="none"/>
<text x="732" y="1731.3" font-size="22.4" text-anchor="start" font-family="DejaVu Sans, Liberation Sans, sans-serif" >2.00 V</text>
<path d="M836.7 1650.1l18 18m0 -18l-18 18" stroke="#9966ff" stroke-width="4.6" fill="none"/>
<text x="876" y="1665.5" font-size="22.4" text-anchor="start" font-family="DejaVu Sans, Liberation Sans, sans-serif" >3.00 V</text>
<path d="M836.7 1683l18 18m0 -18l-18 18" stroke="#cc33ff" stroke-width="4.6" fill="none"/>
<text x="876" y="1698.4" font-size="22.4" text-anchor="start" font-family="DejaVu Sans, Liberation Sans, sans-serif" >4.00 V</text>
<path d="M836.7 1715.9l18 18m0 -18l-18 18" stroke="#ff00ff" stroke-width="4.6" fill="none"/>
<text x="876" y="1731.3" font-size="22.4" text-anchor="start" font-family="DejaVu Sans, Liberation Sans, sans-serif" >5.00 V</text>
<rect x="196.3" y="1310.8" width="307" height="182.2" fill="#fff"/>
<path d="M209.9 1310.8V1493M321.7 1310.8V1493M433.5 1310.8V1493M196.3 1474.2H503.3M196.3 1404.4H503.3M196.3 1334.6H503.3" stroke="#b0b0b0" stroke-width="2.5" fill="none"/>
<path d="M209.9 1493v-9M321.7 1493v-9M433.5 1493v-9M196.3 1474.2h9M196.3 1404.4h9M196.3 1334.6h9" stroke="#000" stroke-width="2.8" fill="none"/>
<polyline points="209.9,1484.3 265.8,1435.1 321.7,1377.5 377.6,1338.4 433.5,1324.8 489.4,1318.5" fill="none" stroke="#e67aa8" stroke-width="4.2" stroke-linejoin="round"/>
<circle cx="209.9" cy="1484.3" r="5.6" fill="#e67aa8"/>
<circle cx="265.8" cy="1435.1" r="5.6" fill="#e67aa8"/>
<circle cx="321.7" cy="1377.5" r="5.6" fill="#e67aa8"/>
<circle cx="377.6" cy="1338.4" r="5.6" fill="#e67aa8"/>
<circle cx="433.5" cy="1324.8" r="5.6" fill="#e67aa8"/>
<circle cx="489.4" cy="1318.5" r="5.6" fill="#e67aa8"/>
<rect x="196.3" y="1310.8" width="307" height="182.2" fill="none" stroke="#000" stroke-width="2.8"/>
<text x="209.9" y="1520" font-size="22" text-anchor="middle" font-family="DejaVu Sans, Liberation Sans, sans-serif" >0</text>
<text x="321.7" y="1520" font-size="22" text-anchor="middle" font-family="DejaVu Sans, Liberation Sans, sans-serif" >2</text>
<text x="433.5" y="1520" font-size="22" text-anchor="middle" font-family="DejaVu Sans, Liberation Sans, sans-serif" >4</text>
<text x="186" y="1482.4" font-size="22.6" text-anchor="end" font-family="DejaVu Sans, Liberation Sans, sans-serif" >0.6</text>
<text x="186" y="1412.6" font-size="22.6" text-anchor="end" font-family="DejaVu Sans, Liberation Sans, sans-serif" >0.8</text>
<text x="186" y="1342.8" font-size="22.6" text-anchor="end" font-family="DejaVu Sans, Liberation Sans, sans-serif" >1.0</text>
<text x="349" y="1546" font-size="25" text-anchor="middle" font-family="DejaVu Sans, Liberation Sans, sans-serif"><tspan font-style="italic">V</tspan><tspan font-style="italic" font-size="17.5" dy="5">PD</tspan><tspan dy="-5"> (V)</tspan></text>
<text transform="translate(143.5 1401) rotate(-90)" font-size="25" text-anchor="middle" font-family="DejaVu Sans, Liberation Sans, sans-serif" >Resp. (A/W)</text>
</g>
<g id="panel-f">
<clipPath id="clipF"><rect x="1174" y="1298.2" width="790" height="457.6"/></clipPath>
<path d="M1272.8 1298.2V1755.8M1470.3 1298.2V1755.8M1667.9 1298.2V1755.8M1865.4 1298.2V1755.8M1174 1351.2H1964M1174 1438.8H1964M1174 1526.4H1964M1174 1614H1964M1174 1701.6H1964" stroke="#b0b0b0" stroke-opacity="0.5" stroke-width="2.4" fill="none"/>
<polyline clip-path="url(#clipF)" points="1174,1735.5 1174.9,1732.5 1175.9,1731.3 1176.9,1727.1 1177.9,1729.5 1178.9,1728.8 1179.9,1728.7 1180.9,1727.2 1181.9,1727.7 1182.8,1726.4 1183.8,1724.3 1184.8,1727.8 1185.8,1727.2 1186.8,1728.1 1187.8,1724.6 1188.8,1723.2 1189.8,1722.4 1190.8,1720.1 1191.7,1724.1 1192.7,1719.8 1193.7,1719.1 1194.7,1720.3 1195.7,1722.8 1196.7,1720 1197.7,1717.2 1198.7,1717.2 1199.6,1719 1200.6,1717.1 1201.6,1715.5 1202.6,1715.9 1203.6,1717 1204.6,1718.6 1205.6,1712.5 1206.6,1713 1207.6,1712.1 1208.5,1708.8 1209.5,1710.8 1210.5,1710.1 1211.5,1713.2 1212.5,1710.5 1213.5,1707.4 1214.5,1710.7 1215.5,1708.5 1216.5,1705.5 1217.4,1706.9 1218.4,1706.4 1219.4,1705.3 1220.4,1706.3 1221.4,1701.9 1222.4,1704.7 1223.4,1706.2 1224.4,1705.4 1225.3,1705.2 1226.3,1704.7 1227.3,1704.7 1228.3,1699.8 1229.3,1702.5 1230.3,1697.4 1231.3,1698.9 1232.3,1696.2 1233.3,1700.5 1234.2,1700.4 1235.2,1697.3 1236.2,1700 1237.2,1695.4 1238.2,1696.2 1239.2,1695.6 1240.2,1693 1241.2,1694.9 1242.1,1696.7 1243.1,1691.3 1244.1,1693.9 1245.1,1691.6 1246.1,1694.1 1247.1,1691.4 1248.1,1691.2 1249.1,1690.5 1250.1,1689.3 1251,1686.1 1252,1689.9 1253,1684.9 1254,1686.9 1255,1686.9 1256,1684 1257,1685 1258,1686 1259,1683.5 1259.9,1681.5 1260.9,1677.7 1261.9,1680.2 1262.9,1680.2 1263.9,1679.7 1264.9,1678.4 1265.9,1679.8 1266.9,1677.7 1267.8,1677.8 1268.8,1678.4 1269.8,1675.4 1270.8,1675.7 1271.8,1678.8 1272.8,1676.2 1273.8,1672.3 1274.8,1673.5 1275.8,1673.8 1276.7,1674.2 1277.7,1671.9 1278.7,1670.2 1279.7,1669.3 1280.7,1670.7 1281.7,1669.5 1282.7,1667.6 1283.7,1667.5 1284.6,1666.5 1285.6,1667.5 1286.6,1664.7 1287.6,1665.8 1288.6,1665.7 1289.6,1664.5 1290.6,1661.8 1291.6,1664.4 1292.6,1660.7 1293.5,1661.7 1294.5,1659.2 1295.5,1657.1 1296.5,1659.3 1297.5,1658.7 1298.5,1657.5 1299.5,1657.3 1300.5,1655.3 1301.5,1654.5 1302.4,1654.6 1303.4,1657 1304.4,1654.7 1305.4,1652.1 1306.4,1652.9 1307.4,1650.8 1308.4,1650.1 1309.4,1651.3 1310.3,1648.6 1311.3,1646.3 1312.3,1646.7 1313.3,1647.5 1314.3,1646.9 1315.3,1647.8 1316.3,1644.3 1317.3,1645.7 1318.3,1644.6 1319.2,1643.1 1320.2,1643.8 1321.2,1642.6 1322.2,1640.1 1323.2,1642.1 1324.2,1638.2 1325.2,1639.4 1326.2,1638.6 1327.1,1638.5 1328.1,1636.2 1329.1,1636.5 1330.1,1635.7 1331.1,1636.6 1332.1,1633.5 1333.1,1634 1334.1,1632.9 1335.1,1630.8 1336,1635.5 1337,1631.1 1338,1628.5 1339,1631.7 1340,1627.7 1341,1629 1342,1629 1343,1626.3 1344,1625.9 1344.9,1625.1 1345.9,1624.9 1346.9,1622.3 1347.9,1622.1 1348.9,1622.9 1349.9,1623.8 1350.9,1622.6 1351.9,1623.4 1352.8,1621.4 1353.8,1619.1 1354.8,1619 1355.8,1615.8 1356.8,1616.5 1357.8,1615.8 1358.8,1616.8 1359.8,1616.7 1360.8,1614.4 1361.7,1613.8 1362.7,1611.9 1363.7,1613.1 1364.7,1612.9 1365.7,1612.5 1366.7,1610.3 1367.7,1613.2 1368.7,1611.6 1369.6,1609.3 1370.6,1608.1 1371.6,1607.8 1372.6,1607.7 1373.6,1606.9 1374.6,1606.9 1375.6,1606.7 1376.6,1606.8 1377.6,1605.9 1378.5,1603.7 1379.5,1603.8 1380.5,1602.2 1381.5,1601.3 1382.5,1603.9 1383.5,1600.3 1384.5,1602.8 1385.5,1599.2 1386.5,1599.4 1387.4,1599.8 1388.4,1597.9 1389.4,1597.8 1390.4,1596.4 1391.4,1595.6 1392.4,1595.4 1393.4,1594.2 1394.4,1596.4 1395.3,1593.6 1396.3,1595.4 1397.3,1589.4 1398.3,1592.1 1399.3,1592.2 1400.3,1590.6 1401.3,1591.7 1402.3,1590.6 1403.3,1588.9 1404.2,1589.2 1405.2,1591.5 1406.2,1587.8 1407.2,1587.3 1408.2,1585.9 1409.2,1586 1410.2,1583.7 1411.2,1584.4 1412.1,1587 1413.1,1584.8 1414.1,1583.7 1415.1,1583.7 1416.1,1584.1 1417.1,1582 1418.1,1583.1 1419.1,1581.4 1420.1,1579.8 1421,1581 1422,1575.7 1423,1577.2 1424,1577.6 1425,1575.7 1426,1576 1427,1574.9 1428,1574.3 1429,1577.6 1429.9,1574.6 1430.9,1573.3 1431.9,1574.3 1432.9,1572 1433.9,1572.7 1434.9,1571.5 1435.9,1572.4 1436.9,1568.4 1437.8,1570.3 1438.8,1569 1439.8,1567 1440.8,1569 1441.8,1566.3 1442.8,1568.5 1443.8,1566.7 1444.8,1566.3 1445.8,1565.1 1446.7,1565.5 1447.7,1561.9 1448.7,1563.4 1449.7,1562.1 1450.7,1562.6 1451.7,1561.7 1452.7,1561.8 1453.7,1559.7 1454.6,1562.1 1455.6,1562 1456.6,1558.7 1457.6,1558.4 1458.6,1558.2 1459.6,1558.7 1460.6,1558.8 1461.6,1554.9 1462.6,1555 1463.5,1554 1464.5,1553.4 1465.5,1552.3 1466.5,1553.9 1467.5,1551.7 1468.5,1554 1469.5,1552.8 1470.5,1550.2 1471.5,1549.7 1472.4,1549.6 1473.4,1551.1 1474.4,1548.2 1475.4,1547 1476.4,1548 1477.4,1547.8 1478.4,1546.2 1479.4,1548 1480.3,1546 1481.3,1545.7 1482.3,1543.8 1483.3,1544.1 1484.3,1543.4 1485.3,1540.7 1486.3,1542.8 1487.3,1540.1 1488.3,1541.3 1489.2,1539.3 1490.2,1542.3 1491.2,1540.1 1492.2,1540.1 1493.2,1539.6 1494.2,1536.7 1495.2,1535.2 1496.2,1536.7 1497.1,1537.3 1498.1,1536 1499.1,1536.1 1500.1,1535.7 1501.1,1532.8 1502.1,1534 1503.1,1535.1 1504.1,1532.1 1505.1,1530.1 1506,1531.3 1507,1530.6 1508,1530.9 1509,1529.1 1510,1529.5 1511,1526.7 1512,1529.2 1513,1529.4 1514,1528.6 1514.9,1525.3 1515.9,1526.5 1516.9,1522.8 1517.9,1525.4 1518.9,1524.6 1519.9,1523.2 1520.9,1524 1521.9,1523.2 1522.8,1523.5 1523.8,1522.2 1524.8,1521.8 1525.8,1519.2 1526.8,1519.5 1527.8,1519.6 1528.8,1519.9 1529.8,1519.1 1530.8,1520 1531.7,1517.3 1532.7,1517.4 1533.7,1517.3 1534.7,1516.4 1535.7,1516.6 1536.7,1515.1 1537.7,1516.4 1538.7,1514.3 1539.6,1515.2 1540.6,1513.6 1541.6,1514.5 1542.6,1511.4 1543.6,1512.6 1544.6,1511.3 1545.6,1511.4 1546.6,1511.8 1547.6,1509.2 1548.5,1508.5 1549.5,1508.3 1550.5,1509 1551.5,1506.6 1552.5,1507.9 1553.5,1506.1 1554.5,1505.8 1555.5,1506 1556.5,1506.2 1557.4,1504.8 1558.4,1504.4 1559.4,1504.3 1560.4,1503.6 1561.4,1501 1562.4,1502.5 1563.4,1502.5 1564.4,1502.9 1565.3,1503.2 1566.3,1501.5 1567.3,1500.5 1568.3,1499.1 1569.3,1499.5 1570.3,1499.6 1571.3,1499.6 1572.3,1497.2 1573.3,1497.7 1574.2,1497.7 1575.2,1498.1 1576.2,1496.2 1577.2,1495 1578.2,1494.4 1579.2,1494.2 1580.2,1493.4 1581.2,1494.2 1582.1,1493.9 1583.1,1493.1 1584.1,1493 1585.1,1491.1 1586.1,1491.3 1587.1,1490.1 1588.1,1490 1589.1,1490.5 1590.1,1488.9 1591,1486.9 1592,1487.7 1593,1486.9 1594,1485.7 1595,1485.8 1596,1486.8 1597,1486.9 1598,1484.6 1598.9,1485.3 1599.9,1485 1600.9,1482.5 1601.9,1483 1602.9,1482.5 1603.9,1482.1 1604.9,1480.2 1605.9,1480.7 1606.9,1481.4 1607.8,1481.1 1608.8,1481.1 1609.8,1478.8 1610.8,1480.1 1611.8,1478.6 1612.8,1476.5 1613.8,1477.8 1614.8,1476.4 1615.8,1476.6 1616.7,1475.6 1617.7,1476.2 1618.7,1475 1619.7,1474.1 1620.7,1474.6 1621.7,1473.6 1622.7,1472.6 1623.7,1473.5 1624.6,1471.6 1625.6,1471 1626.6,1470.6 1627.6,1469.4 1628.6,1469.7 1629.6,1471.1 1630.6,1468.5 1631.6,1468.7 1632.6,1467.4 1633.5,1467.3 1634.5,1468.5 1635.5,1467.6 1636.5,1465.9 1637.5,1465.9 1638.5,1464.8 1639.5,1464.4 1640.5,1463.9 1641.4,1463.4 1642.4,1463.9 1643.4,1463.7 1644.4,1463.1 1645.4,1462.2 1646.4,1460.8 1647.4,1461.4 1648.4,1460.3 1649.4,1461.2 1650.3,1460.5 1651.3,1460.2 1652.3,1458.9 1653.3,1457.4 1654.3,1459.1 1655.3,1458.8 1656.3,1456.3 1657.3,1457.1 1658.3,1457.5 1659.2,1455.4 1660.2,1457.1 1661.2,1455.1 1662.2,1454.1 1663.2,1455.5 1664.2,1454.3 1665.2,1453.2 1666.2,1454 1667.1,1451.4 1668.1,1453.8 1669.1,1451.5 1670.1,1451.9 1671.1,1451 1672.1,1451.2 1673.1,1451.1 1674.1,1449.5 1675.1,1450.2 1676,1449 1677,1448.4 1678,1448.3 1679,1447.3 1680,1447.1 1681,1448 1682,1446.8 1683,1447.4 1683.9,1446.5 1684.9,1445 1685.9,1444 1686.9,1444.5 1687.9,1444.8 1688.9,1444.3 1689.9,1443.3 1690.9,1444.3 1691.9,1441.9 1692.8,1441.9 1693.8,1442.5 1694.8,1443.6 1695.8,1442 1696.8,1440.7 1697.8,1441.4 1698.8,1441.2 1699.8,1441 1700.8,1439.7 1701.7,1439.1 1702.7,1439.4 1703.7,1439.2 1704.7,1439.7 1705.7,1439.7 1706.7,1437.4 1707.7,1437.2 1708.7,1437.2 1709.6,1436.8 1710.6,1437 1711.6,1436.6 1712.6,1436.2 1713.6,1436.6 1714.6,1435.2 1715.6,1434.3 1716.6,1433.6 1717.6,1433.7 1718.5,1433.4 1719.5,1432.5 1720.5,1434 1721.5,1433.3 1722.5,1432.6 1723.5,1432 1724.5,1431.3 1725.5,1431.4 1726.4,1433 1727.4,1430 1728.4,1431.3 1729.4,1431.5 1730.4,1430.8 1731.4,1430.2 1732.4,1430.7 1733.4,1429.2 1734.4,1430 1735.3,1430.3 1736.3,1428.4 1737.3,1428.3 1738.3,1428.7 1739.3,1429 1740.3,1429 1741.3,1428.3 1742.3,1427.2 1743.3,1426.6 1744.2,1427.3 1745.2,1427.1 1746.2,1425.9 1747.2,1426.4 1748.2,1426.4 1749.2,1426.6 1750.2,1425 1751.2,1425.8 1752.1,1424.4 1753.1,1424.7 1754.1,1424.6 1755.1,1425.4 1756.1,1426.4 1757.1,1424.2 1758.1,1424.1 1759.1,1424.2 1760.1,1422.4 1761,1423.5 1762,1422 1763,1423.6 1764,1423.3 1765,1422.4 1766,1421.3 1767,1422.7 1768,1421.6 1768.9,1421.2 1769.9,1421.3 1770.9,1419.6 1771.9,1420.7 1772.9,1420.8 1773.9,1420.2 1774.9,1419.8 1775.9,1418.9 1776.9,1419.7 1777.8,1419.2 1778.8,1418.8 1779.8,1418.2 1780.8,1418.9 1781.8,1418.9 1782.8,1418.1 1783.8,1418.2 1784.8,1418.3 1785.8,1418.2 1786.7,1417.1 1787.7,1416.6 1788.7,1416.3 1789.7,1416.3 1790.7,1416.4 1791.7,1416.4 1792.7,1415.4 1793.7,1415.5 1794.6,1414.6 1795.6,1415.8 1796.6,1414.5 1797.6,1414.8 1798.6,1413.9 1799.6,1414 1800.6,1413.5 1801.6,1414.8 1802.6,1413.7 1803.5,1413.2 1804.5,1412.5 1805.5,1412.5 1806.5,1413.1 1807.5,1413.5 1808.5,1411.4 1809.5,1411.6 1810.5,1411.8 1811.4,1411.4 1812.4,1410.5 1813.4,1411.4 1814.4,1411.6 1815.4,1410 1816.4,1410.9 1817.4,1411.2 1818.4,1411 1819.4,1410 1820.3,1411.5 1821.3,1410.3 1822.3,1409.3 1823.3,1410.2 1824.3,1408.7 1825.3,1409.8 1826.3,1408.3 1827.3,1409.4 1828.3,1408.4 1829.2,1409.2 1830.2,1408.9 1831.2,1408.5 1832.2,1408.1 1833.2,1408.6 1834.2,1406.7 1835.2,1407.9 1836.2,1407.7 1837.1,1407.6 1838.1,1407.6 1839.1,1409.2 1840.1,1406.9 1841.1,1407.2 1842.1,1406.7 1843.1,1407.3 1844.1,1405.1 1845.1,1407.1 1846,1405.6 1847,1404.5 1848,1405.1 1849,1405.5 1850,1405.6 1851,1405.3 1852,1405.7 1853,1405 1853.9,1404.9 1854.9,1403.5 1855.9,1405 1856.9,1405.1 1857.9,1404.2 1858.9,1403.2 1859.9,1403.4 1860.9,1405 1861.9,1403.6 1862.8,1403.5 1863.8,1403.3 1864.8,1404 1865.8,1403.2 1866.8,1402.9 1867.8,1402.4 1868.8,1403.1 1869.8,1403.7 1870.8,1402.9 1871.7,1403.4 1872.7,1402.9 1873.7,1402.8 1874.7,1402.7 1875.7,1402.5 1876.7,1403 1877.7,1402.6 1878.7,1401.9 1879.6,1402.2 1880.6,1402 1881.6,1402.2 1882.6,1402 1883.6,1402 1884.6,1400.9 1885.6,1401.9 1886.6,1402.3 1887.6,1400.7 1888.5,1402.3 1889.5,1401.5 1890.5,1401.1 1891.5,1400.2 1892.5,1401.8 1893.5,1400.5 1894.5,1400.7 1895.5,1401.3 1896.4,1400.3 1897.4,1400.3 1898.4,1400.1 1899.4,1400.6 1900.4,1401 1901.4,1400.8 1902.4,1400.8 1903.4,1400.3 1904.4,1400.5 1905.3,1400 1906.3,1401.5 1907.3,1400.4 1908.3,1399.2 1909.3,1399.7 1910.3,1401.1 1911.3,1399.4 1912.3,1399.9 1913.3,1400.4 1914.2,1399.5 1915.2,1400.7 1916.2,1401 1917.2,1399.6 1918.2,1400.7 1919.2,1399.5 1920.2,1399.5 1921.2,1400.2 1922.1,1400.2 1923.1,1399.7 1924.1,1400.5 1925.1,1399.2 1926.1,1399.6 1927.1,1399.4 1928.1,1400.5 1929.1,1400.5 1930.1,1400.5 1931,1399.4 1932,1400.2 1933,1400.4 1934,1399.3 1935,1399.8 1936,1400.6 1937,1400.7 1938,1400.4 1938.9,1400.6 1939.9,1400.5 1940.9,1400.5 1941.9,1400.4 1942.9,1400 1943.9,1400.4 1944.9,1400.3 1945.9,1401.9 1946.9,1400.7 1947.8,1400.6 1948.8,1400.5 1949.8,1400.6 1950.8,1400.6 1951.8,1401.1 1952.8,1400.8 1953.8,1401.3 1954.8,1400.5 1955.8,1401.1 1956.7,1401.4 1957.7,1400.3 1958.7,1401.1 1959.7,1401.1 1960.7,1400.8 1961.7,1400.8 1962.7,1400 1963.7,1401.7" fill="none" stroke="#abfcf8" stroke-width="5.6" stroke-linejoin="round"/>
<polyline clip-path="url(#clipF)" points="1174,1514.5 1174.9,1513.4 1175.9,1513.9 1176.9,1512 1177.9,1511.5 1178.9,1511.4 1179.9,1509.6 1180.9,1509 1181.9,1508.6 1182.8,1507.7 1183.8,1506.5 1184.8,1506.3 1185.8,1505.5 1186.8,1505.2 1187.8,1503.4 1188.8,1503.1 1189.8,1503.2 1190.8,1502.8 1191.7,1500.6 1192.7,1500.8 1193.7,1499.4 1194.7,1498.7 1195.7,1498 1196.7,1497.5 1197.7,1497.4 1198.7,1496.5 1199.6,1495.5 1200.6,1494.6 1201.6,1494 1202.6,1493.3 1203.6,1493 1204.6,1491.6 1205.6,1491.2 1206.6,1490.4 1207.6,1489.7 1208.5,1489.2 1209.5,1488.4 1210.5,1488.2 1211.5,1486.9 1212.5,1486.9 1213.5,1485.4 1214.5,1484.6 1215.5,1484.2 1216.5,1483.6 1217.4,1482.9 1218.4,1482.7 1219.4,1481.9 1220.4,1480.9 1221.4,1479.9 1222.4,1479.3 1223.4,1479.3 1224.4,1478.1 1225.3,1476.8 1226.3,1476.4 1227.3,1475.8 1228.3,1475.9 1229.3,1474.7 1230.3,1475.1 1231.3,1473.7 1232.3,1472.8 1233.3,1471.9 1234.2,1471.9 1235.2,1470.7 1236.2,1469.8 1237.2,1469.8 1238.2,1468.9 1239.2,1468.8 1240.2,1467.6 1241.2,1465.7 1242.1,1466.7 1243.1,1464.9 1244.1,1465.8 1245.1,1465.3 1246.1,1463.6 1247.1,1462.7 1248.1,1461.9 1249.1,1462.3 1250.1,1461.2 1251,1460.4 1252,1460 1253,1460.4 1254,1459 1255,1458.6 1256,1458 1257,1457.5 1258,1456.9 1259,1455.5 1259.9,1455.1 1260.9,1454.3 1261.9,1453.7 1262.9,1453.9 1263.9,1452.6 1264.9,1452.2 1265.9,1451.3 1266.9,1450.8 1267.8,1450.8 1268.8,1449.7 1269.8,1449.1 1270.8,1448.9 1271.8,1448.4 1272.8,1447.9 1273.8,1447.1 1274.8,1445.6 1275.8,1446.1 1276.7,1445.5 1277.7,1445.2 1278.7,1443.7 1279.7,1444.7 1280.7,1442.4 1281.7,1442.8 1282.7,1441.9 1283.7,1441.1 1284.6,1441.1 1285.6,1440.1 1286.6,1438.6 1287.6,1438.6 1288.6,1438.8 1289.6,1439 1290.6,1436.8 1291.6,1436.9 1292.6,1437 1293.5,1436.1 1294.5,1435.1 1295.5,1434.1 1296.5,1433.4 1297.5,1433.3 1298.5,1433 1299.5,1431.6 1300.5,1431.3 1301.5,1431.7 1302.4,1430.9 1303.4,1430.2 1304.4,1429.8 1305.4,1429.1 1306.4,1429.4 1307.4,1429.2 1308.4,1428.9 1309.4,1427.7 1310.3,1427.2 1311.3,1427.1 1312.3,1426.7 1313.3,1426.1 1314.3,1425.4 1315.3,1424.1 1316.3,1423.1 1317.3,1423.8 1318.3,1422.8 1319.2,1422.3 1320.2,1421.5 1321.2,1420.8 1322.2,1421.5 1323.2,1420.6 1324.2,1419.4 1325.2,1419.6 1326.2,1419 1327.1,1418.7 1328.1,1419 1329.1,1417.4 1330.1,1416.4 1331.1,1416.5 1332.1,1415.7 1333.1,1415.8 1334.1,1415.1 1335.1,1414.7 1336,1413.8 1337,1413.8 1338,1412.9 1339,1412.9 1340,1412.1 1341,1411.2 1342,1411.5 1343,1410.5 1344,1411 1344.9,1410.1 1345.9,1409.7 1346.9,1409 1347.9,1408.5 1348.9,1406.9 1349.9,1408.2 1350.9,1406.8 1351.9,1407.2 1352.8,1406 1353.8,1405.8 1354.8,1405.3 1355.8,1404.5 1356.8,1404.4 1357.8,1404.3 1358.8,1403.4 1359.8,1402.6 1360.8,1402.5 1361.7,1402.5 1362.7,1402.5 1363.7,1401.9 1364.7,1401.2 1365.7,1400.2 1366.7,1400.6 1367.7,1399.8 1368.7,1399.3 1369.6,1399.4 1370.6,1398.8 1371.6,1398.4 1372.6,1397.2 1373.6,1397 1374.6,1396.1 1375.6,1396.6 1376.6,1396.1 1377.6,1396.2 1378.5,1395.4 1379.5,1394.7 1380.5,1395.5 1381.5,1393.6 1382.5,1393.1 1383.5,1393 1384.5,1393.2 1385.5,1392.4 1386.5,1392 1387.4,1391.2 1388.4,1392.1 1389.4,1390.7 1390.4,1390.1 1391.4,1390.2 1392.4,1389.5 1393.4,1389.4 1394.4,1389.8 1395.3,1388.6 1396.3,1388.4 1397.3,1387.9 1398.3,1387.6 1399.3,1387.7 1400.3,1387.2 1401.3,1386.4 1402.3,1385.8 1403.3,1385.8 1404.2,1386 1405.2,1385.2 1406.2,1384.8 1407.2,1383.6 1408.2,1384.6 1409.2,1383.1 1410.2,1382.8 1411.2,1382.9 1412.1,1382.8 1413.1,1382.5 1414.1,1381.7 1415.1,1381.6 1416.1,1381.2 1417.1,1380.2 1418.1,1380.7 1419.1,1380.1 1420.1,1380.4 1421,1379.8 1422,1380 1423,1379.6 1424,1379.4 1425,1379.2 1426,1378.6 1427,1377.9 1428,1378.4 1429,1376.9 1429.9,1377 1430.9,1377.2 1431.9,1376.3 1432.9,1376.5 1433.9,1375.4 1434.9,1375.2 1435.9,1375.5 1436.9,1375.3 1437.8,1375.3 1438.8,1374.3 1439.8,1374.2 1440.8,1374.1 1441.8,1373.7 1442.8,1372.5 1443.8,1372.6 1444.8,1373.4 1445.8,1371.7 1446.7,1372.4 1447.7,1371.6 1448.7,1372.1 1449.7,1370.9 1450.7,1371 1451.7,1369.7 1452.7,1370.5 1453.7,1370.8 1454.6,1369.2 1455.6,1370.4 1456.6,1369.1 1457.6,1369.2 1458.6,1367.5 1459.6,1369.4 1460.6,1368.1 1461.6,1368 1462.6,1367.4 1463.5,1367.4 1464.5,1368.3 1465.5,1367.2 1466.5,1367.8 1467.5,1367 1468.5,1367.1 1469.5,1366.4 1470.5,1366.7 1471.5,1367.8 1472.4,1366.5 1473.4,1366.3 1474.4,1365.5 1475.4,1366.2 1476.4,1366.2 1477.4,1364.3 1478.4,1364.4 1479.4,1366.2 1480.3,1365.1 1481.3,1364.8 1482.3,1364.9 1483.3,1365 1484.3,1364.7 1485.3,1364 1486.3,1365.2 1487.3,1363.9 1488.3,1363.3 1489.2,1363.3 1490.2,1363.5 1491.2,1363.2 1492.2,1363.2 1493.2,1363.4 1494.2,1361.2 1495.2,1362.6 1496.2,1363.5 1497.1,1363.2 1498.1,1362.4 1499.1,1362.3 1500.1,1363.3 1501.1,1362.4 1502.1,1362.1 1503.1,1363.5 1504.1,1362.1 1505.1,1362.6 1506,1362.1 1507,1362.1 1508,1361.5 1509,1361.5 1510,1362.7 1511,1361.2 1512,1362 1513,1361.1 1514,1361.6 1514.9,1361.7 1515.9,1360.7 1516.9,1362.3 1517.9,1361.5 1518.9,1362.3 1519.9,1361 1520.9,1362.1 1521.9,1362.9 1522.8,1361.6 1523.8,1361.1 1524.8,1361.8 1525.8,1361.5 1526.8,1361.3 1527.8,1361.4 1528.8,1361.1 1529.8,1361.7 1530.8,1361.2 1531.7,1360.9 1532.7,1362 1533.7,1361.4 1534.7,1363.2 1535.7,1361.4 1536.7,1361.1 1537.7,1361.3 1538.7,1361.9 1539.6,1361.3 1540.6,1360.9 1541.6,1362.9 1542.6,1361 1543.6,1362.9 1544.6,1362 1545.6,1361.3 1546.6,1363.1 1547.6,1361.9 1548.5,1361.5 1549.5,1362.2 1550.5,1363.1 1551.5,1362.8 1552.5,1362.9 1553.5,1363.6 1554.5,1362.7 1555.5,1362.8 1556.5,1362.5 1557.4,1361.7 1558.4,1362.7 1559.4,1364 1560.4,1361.8 1561.4,1363.9 1562.4,1363.3 1563.4,1362.5 1564.4,1363.3 1565.3,1364.5 1566.3,1363 1567.3,1364 1568.3,1364.3 1569.3,1363 1570.3,1364.2 1571.3,1364.2 1572.3,1363.5 1573.3,1364.4 1574.2,1363.8 1575.2,1363.7 1576.2,1363.4 1577.2,1364.6 1578.2,1364.1 1579.2,1364.1 1580.2,1363.8 1581.2,1363.7 1582.1,1364.2 1583.1,1365.4 1584.1,1364.4 1585.1,1366.2 1586.1,1365.5 1587.1,1365.4 1588.1,1364.6 1589.1,1367 1590.1,1364.6 1591,1366.2 1592,1367.2 1593,1365.9 1594,1365.6 1595,1366.2 1596,1367.1 1597,1367.5 1598,1367.1 1598.9,1365.9 1599.9,1366.4 1600.9,1367.2 1601.9,1366.2 1602.9,1367.1 1603.9,1369.1 1604.9,1366.7 1605.9,1368.6 1606.9,1367.1 1607.8,1367.7 1608.8,1368.1 1609.8,1367.1 1610.8,1368.3 1611.8,1369.6 1612.8,1369.3 1613.8,1369.4 1614.8,1368.4 1615.8,1369 1616.7,1369.5 1617.7,1370 1618.7,1370.7 1619.7,1369 1620.7,1371.3 1621.7,1369.9 1622.7,1370 1623.7,1369.4 1624.6,1370.5 1625.6,1370.5 1626.6,1369.8 1627.6,1370.8 1628.6,1371.3 1629.6,1371 1630.6,1372.1 1631.6,1370.8 1632.6,1372.5 1633.5,1371.8 1634.5,1372.4 1635.5,1370.7 1636.5,1372.5 1637.5,1372.6 1638.5,1373.6 1639.5,1371.9 1640.5,1374.3 1641.4,1372.4 1642.4,1374.6 1643.4,1374.1 1644.4,1373.2 1645.4,1375.9 1646.4,1373.2 1647.4,1374.2 1648.4,1374.8 1649.4,1375.2 1650.3,1375.2 1651.3,1375.9 1652.3,1375.8 1653.3,1375.6 1654.3,1375 1655.3,1375.7 1656.3,1377.1 1657.3,1375.4 1658.3,1376.8 1659.2,1375.1 1660.2,1376.6 1661.2,1376 1662.2,1378.9 1663.2,1376.3 1664.2,1378 1665.2,1379.2 1666.2,1379.4 1667.1,1379.8 1668.1,1380.4 1669.1,1380.1 1670.1,1380.8 1671.1,1380.2 1672.1,1380.6 1673.1,1379.3 1674.1,1381.4 1675.1,1382.8 1676,1381.2 1677,1381.2 1678,1382.8 1679,1384.1 1680,1384.6 1681,1382.3 1682,1384.6 1683,1383.9 1683.9,1385.2 1684.9,1383.1 1685.9,1386.6 1686.9,1385.7 1687.9,1386.7 1688.9,1386.7 1689.9,1386.3 1690.9,1388.2 1691.9,1387.6 1692.8,1387.8 1693.8,1389.6 1694.8,1389.3 1695.8,1389.1 1696.8,1391.2 1697.8,1390 1698.8,1391 1699.8,1392.3 1700.8,1392.9 1701.7,1393.6 1702.7,1394.6 1703.7,1393.3 1704.7,1392.9 1705.7,1395.9 1706.7,1396.1 1707.7,1394.7 1708.7,1396.3 1709.6,1395.6 1710.6,1394.7 1711.6,1398 1712.6,1397.7 1713.6,1397.9 1714.6,1400.1 1715.6,1400.2 1716.6,1398.4 1717.6,1398.4 1718.5,1397.9 1719.5,1400.5 1720.5,1400.5 1721.5,1401.8 1722.5,1401.9 1723.5,1401.6 1724.5,1402.4 1725.5,1401.5 1726.4,1405.1 1727.4,1403.6 1728.4,1405.4 1729.4,1404.5 1730.4,1405.8 1731.4,1406.9 1732.4,1406.4 1733.4,1406.2 1734.4,1410.4 1735.3,1407.9 1736.3,1409.3 1737.3,1409.1 1738.3,1408.8 1739.3,1411.7 1740.3,1411.2 1741.3,1411.6 1742.3,1409 1743.3,1412.6 1744.2,1413.7 1745.2,1413.6 1746.2,1413.6 1747.2,1415.7 1748.2,1415.1 1749.2,1416 1750.2,1417.1 1751.2,1417.5 1752.1,1415.2 1753.1,1417.7 1754.1,1416.9 1755.1,1415.9 1756.1,1419.2 1757.1,1417.2 1758.1,1419.3 1759.1,1417.2 1760.1,1419.6 1761,1420.8 1762,1421.9 1763,1421.7 1764,1421.7 1765,1422.2 1766,1425.8 1767,1423.7 1768,1424.7 1768.9,1427.7 1769.9,1423.5 1770.9,1423.6 1771.9,1425.4 1772.9,1426.7 1773.9,1426.2 1774.9,1428.1 1775.9,1428.5 1776.9,1427.1 1777.8,1429.8 1778.8,1428.2 1779.8,1431.5 1780.8,1431.3 1781.8,1434.5 1782.8,1433.1 1783.8,1432.2 1784.8,1433.4 1785.8,1433.6 1786.7,1432.9 1787.7,1432.3 1788.7,1436.3 1789.7,1437.4 1790.7,1435.1 1791.7,1435.9 1792.7,1436.1 1793.7,1438.6 1794.6,1439.4 1795.6,1436.9 1796.6,1438.2 1797.6,1438.4 1798.6,1439.9 1799.6,1441.2 1800.6,1442.1 1801.6,1440.7 1802.6,1440.1 1803.5,1442.8 1804.5,1443.4 1805.5,1442.5 1806.5,1443.8 1807.5,1444.5 1808.5,1445.8 1809.5,1445.1 1810.5,1446.2 1811.4,1446.3 1812.4,1445.1 1813.4,1448.1 1814.4,1447.7 1815.4,1449.6 1816.4,1446.8 1817.4,1448 1818.4,1450.1 1819.4,1447.5 1820.3,1450.4 1821.3,1450.4 1822.3,1451 1823.3,1451.8 1824.3,1449.2 1825.3,1453.3 1826.3,1453.8 1827.3,1455.9 1828.3,1457 1829.2,1455.8 1830.2,1457.3 1831.2,1452.5 1832.2,1457.7 1833.2,1459.2 1834.2,1459.3 1835.2,1458.8 1836.2,1458.4 1837.1,1458.9 1838.1,1460.1 1839.1,1461.3 1840.1,1462.1 1841.1,1461.5 1842.1,1460.1 1843.1,1465.8 1844.1,1461.9 1845.1,1459.4 1846,1466.8 1847,1466.6 1848,1465.8 1849,1467.7 1850,1467.3 1851,1465.7 1852,1467.9 1853,1466.1 1853.9,1467.7 1854.9,1467.8 1855.9,1470.2 1856.9,1472.3 1857.9,1469.9 1858.9,1472.4 1859.9,1468.4 1860.9,1470.8 1861.9,1474.2 1862.8,1475.5 1863.8,1476.1 1864.8,1476.8 1865.8,1472.6 1866.8,1475.2 1867.8,1472.1 1868.8,1477 1869.8,1478.3 1870.8,1477.8 1871.7,1477.3 1872.7,1480.4 1873.7,1481.2 1874.7,1481 1875.7,1480.3 1876.7,1482 1877.7,1482.7 1878.7,1483.6 1879.6,1484.9 1880.6,1484.3 1881.6,1482.2 1882.6,1485 1883.6,1486.8 1884.6,1485.9 1885.6,1487.7 1886.6,1486.6 1887.6,1491.1 1888.5,1489.9 1889.5,1490 1890.5,1491.8 1891.5,1492.4 1892.5,1491.7 1893.5,1494.1 1894.5,1494 1895.5,1493.8 1896.4,1494 1897.4,1492.4 1898.4,1495.6 1899.4,1496.2 1900.4,1494.8 1901.4,1499.8 1902.4,1497.7 1903.4,1496.2 1904.4,1498.1 1905.3,1499.5 1906.3,1500.2 1907.3,1499.3 1908.3,1501.6 1909.3,1499.2 1910.3,1501.9 1911.3,1504.3 1912.3,1502.7 1913.3,1506.1 1914.2,1507 1915.2,1504.8 1916.2,1501.6 1917.2,1509.2 1918.2,1510.8 1919.2,1505.3 1920.2,1509.7 1921.2,1510.6 1922.1,1507.2 1923.1,1510.1 1924.1,1514.6 1925.1,1513.1 1926.1,1513.4 1927.1,1516.5 1928.1,1513.4 1929.1,1511.4 1930.1,1519 1931,1515 1932,1517.4 1933,1520.7 1934,1519.4 1935,1519.9 1936,1518.8 1937,1522.2 1938,1526.5 1938.9,1521 1939.9,1520.4 1940.9,1524.3 1941.9,1522.7 1942.9,1525.3 1943.9,1525.8 1944.9,1527.6 1945.9,1527.6 1946.9,1528.6 1947.8,1531.5 1948.8,1527 1949.8,1530 1950.8,1531.4 1951.8,1528.5 1952.8,1529.8 1953.8,1531.9 1954.8,1532.1 1955.8,1536.7 1956.7,1535.1 1957.7,1542.5 1958.7,1535.3 1959.7,1536.1 1960.7,1543 1961.7,1536.9 1962.7,1544.2 1963.7,1532" fill="none" stroke="#e67aa8" stroke-width="6.4" stroke-linejoin="round"/>
<path d="M1174 1351.2h10M1174 1438.8h10M1174 1526.4h10M1174 1614h10M1174 1701.6h10" stroke="#000" stroke-width="4.4" fill="none"/>
<path d="M1272.8 1755.8v-16M1470.3 1755.8v-16M1667.9 1755.8v-16M1865.4 1755.8v-16" stroke="#000" stroke-width="3.8" fill="none"/>
<rect x="1174" y="1298.2" width="790" height="457.6" fill="none" stroke="#000" stroke-width="2.8"/>
<text x="1272.8" y="1792.6" font-size="37" text-anchor="middle" font-family="DejaVu Sans, Liberation Sans, sans-serif" >1520</text>
<text x="1470.3" y="1792.6" font-size="37" text-anchor="middle" font-family="DejaVu Sans, Liberation Sans, sans-serif" >1540</text>
<text x="1667.9" y="1792.6" font-size="37" text-anchor="middle" font-family="DejaVu Sans, Liberation Sans, sans-serif" >1560</text>
<text x="1865.4" y="1792.6" font-size="37" text-anchor="middle" font-family="DejaVu Sans, Liberation Sans, sans-serif" >1580</text>
<text x="1164.4" y="1365.2" font-size="37" text-anchor="end" font-family="DejaVu Sans, Liberation Sans, sans-serif" >−2.5</text>
<text x="1164.4" y="1452.8" font-size="37" text-anchor="end" font-family="DejaVu Sans, Liberation Sans, sans-serif" >−5.0</text>
<text x="1164.4" y="1540.4" font-size="37" text-anchor="end" font-family="DejaVu Sans, Liberation Sans, sans-serif" >−7.5</text>
<text x="1164.4" y="1628" font-size="37" text-anchor="end" font-family="DejaVu Sans, Liberation Sans, sans-serif" >−10.0</text>
<text x="1164.4" y="1715.6" font-size="37" text-anchor="end" font-family="DejaVu Sans, Liberation Sans, sans-serif" >−12.5</text>
<text x="1568" y="1838.8" font-size="37" text-anchor="middle" font-family="DejaVu Sans, Liberation Sans, sans-serif" >Wavelength (nm)</text>
<text transform="translate(1031 1526) rotate(-90)" font-size="37" text-anchor="middle" font-family="DejaVu Sans, Liberation Sans, sans-serif" >Loss/Coupler (dB)</text>
<text x="1071" y="1272" font-size="46.5" font-family="DejaVu Sans, Liberation Sans, sans-serif" textLength="31.5" lengthAdjust="spacingAndGlyphs">f)</text>
<rect x="1379.5" y="1649.5" width="378" height="91" rx="5" fill="#fff" fill-opacity="0.8" stroke="#ccc" stroke-opacity="0.75" stroke-width="2"/>
<path d="M1388.6 1671.4H1449.7" stroke="#abfcf8" stroke-width="4.6"/>
<path d="M1388.6 1713.4H1449.7" stroke="#e67aa8" stroke-width="4.6"/>
<text x="1470.5" y="1681.5" font-size="28.2" text-anchor="start" font-family="DejaVu Sans, Liberation Sans, sans-serif" >Glued</text>
<text x="1470.5" y="1723.5" font-size="28.2" text-anchor="start" font-family="DejaVu Sans, Liberation Sans, sans-serif" >4 Axis Optimization</text>
</g>
</svg>
</body></html>
